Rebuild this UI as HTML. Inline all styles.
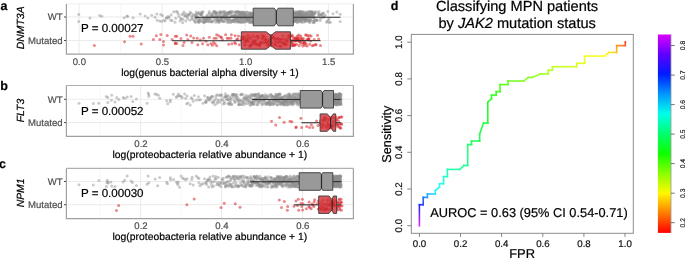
<!DOCTYPE html><html><head><meta charset="utf-8"><style>html,body{margin:0;padding:0;background:#fff;}svg{display:block;will-change:transform;}text{font-family:"Liberation Sans", sans-serif;text-rendering:geometricPrecision;stroke:currentColor;stroke-width:0.2px;}</style></head><body><svg width="685" height="258" viewBox="0 0 685 258"><rect width="685" height="258" fill="#fff"/><line x1="120.6" y1="3.9" x2="120.6" y2="54.2" stroke="#f3f3f3" stroke-width="0.7"/><line x1="203.8" y1="3.9" x2="203.8" y2="54.2" stroke="#f3f3f3" stroke-width="0.7"/><line x1="286.9" y1="3.9" x2="286.9" y2="54.2" stroke="#f3f3f3" stroke-width="0.7"/><line x1="79.1" y1="3.9" x2="79.1" y2="54.2" stroke="#ebebeb" stroke-width="1"/><line x1="162.2" y1="3.9" x2="162.2" y2="54.2" stroke="#ebebeb" stroke-width="1"/><line x1="245.3" y1="3.9" x2="245.3" y2="54.2" stroke="#ebebeb" stroke-width="1"/><line x1="328.4" y1="3.9" x2="328.4" y2="54.2" stroke="#ebebeb" stroke-width="1"/><line x1="66.4" y1="17.0" x2="353.4" y2="17.0" stroke="#ebebeb" stroke-width="1"/><line x1="66.4" y1="40.5" x2="353.4" y2="40.5" stroke="#ebebeb" stroke-width="1"/><g fill="#8f8f8f" fill-opacity="0.47"><circle cx="78.8" cy="14.4" r="1.5"/><circle cx="78.8" cy="21.5" r="1.5"/><circle cx="90.0" cy="18.1" r="1.5"/><circle cx="99.7" cy="15.4" r="1.5"/><circle cx="101.8" cy="16.2" r="1.5"/><circle cx="124.2" cy="17.8" r="1.5"/><circle cx="127.0" cy="16.0" r="1.5"/><circle cx="127.6" cy="16.4" r="1.5"/><circle cx="133.1" cy="17.8" r="1.5"/><circle cx="140.2" cy="14.0" r="1.5"/><circle cx="145.1" cy="15.9" r="1.5"/><circle cx="147.9" cy="18.1" r="1.5"/><circle cx="151.7" cy="15.2" r="1.5"/><circle cx="155.0" cy="17.2" r="1.5"/><circle cx="156.8" cy="14.0" r="1.5"/><circle cx="157.1" cy="20.3" r="1.5"/><circle cx="160.7" cy="14.4" r="1.5"/><circle cx="162.5" cy="15.4" r="1.5"/><circle cx="159.6" cy="21.0" r="1.5"/><circle cx="161.7" cy="21.4" r="1.5"/><circle cx="163.7" cy="20.3" r="1.5"/><circle cx="165.2" cy="21.0" r="1.5"/><circle cx="166.3" cy="18.3" r="1.5"/><circle cx="333.0" cy="13.7" r="1.5"/><circle cx="336.8" cy="12.1" r="1.5"/><circle cx="340.2" cy="14.3" r="1.5"/><circle cx="340.2" cy="21.4" r="1.5"/><circle cx="327.8" cy="11.5" r="1.5"/><circle cx="329.0" cy="18.8" r="1.5"/><circle cx="166.5" cy="17.7" r="1.5"/><circle cx="167.9" cy="16.6" r="1.5"/><circle cx="168.5" cy="18.0" r="1.5"/><circle cx="169.2" cy="17.1" r="1.5"/><circle cx="170.6" cy="20.3" r="1.5"/><circle cx="171.1" cy="14.8" r="1.5"/><circle cx="172.1" cy="20.5" r="1.5"/><circle cx="173.7" cy="11.8" r="1.5"/><circle cx="175.0" cy="22.3" r="1.5"/><circle cx="175.7" cy="18.3" r="1.5"/><circle cx="176.2" cy="11.5" r="1.5"/><circle cx="177.5" cy="12.0" r="1.5"/><circle cx="178.2" cy="14.1" r="1.5"/><circle cx="179.0" cy="16.6" r="1.5"/><circle cx="180.2" cy="20.9" r="1.5"/><circle cx="180.8" cy="18.6" r="1.5"/><circle cx="181.3" cy="18.9" r="1.5"/><circle cx="181.9" cy="14.5" r="1.5"/><circle cx="182.7" cy="22.7" r="1.5"/><circle cx="183.1" cy="19.4" r="1.5"/><circle cx="183.4" cy="13.9" r="1.5"/><circle cx="183.9" cy="12.1" r="1.5"/><circle cx="184.7" cy="15.9" r="1.5"/><circle cx="185.3" cy="15.7" r="1.5"/><circle cx="185.9" cy="21.0" r="1.5"/><circle cx="185.9" cy="13.7" r="1.5"/><circle cx="186.9" cy="16.7" r="1.5"/><circle cx="187.5" cy="15.8" r="1.5"/><circle cx="187.5" cy="18.5" r="1.5"/><circle cx="188.5" cy="14.4" r="1.5"/><circle cx="188.6" cy="15.1" r="1.5"/><circle cx="189.6" cy="19.9" r="1.5"/><circle cx="189.7" cy="14.1" r="1.5"/><circle cx="190.2" cy="12.0" r="1.5"/><circle cx="191.1" cy="13.3" r="1.5"/><circle cx="191.5" cy="16.4" r="1.5"/><circle cx="191.9" cy="19.6" r="1.5"/><circle cx="192.4" cy="18.6" r="1.5"/><circle cx="192.9" cy="16.1" r="1.5"/><circle cx="193.5" cy="14.4" r="1.5"/><circle cx="194.4" cy="20.5" r="1.5"/><circle cx="194.6" cy="21.4" r="1.5"/><circle cx="195.0" cy="15.8" r="1.5"/><circle cx="195.4" cy="18.6" r="1.5"/><circle cx="195.5" cy="22.6" r="1.5"/><circle cx="195.8" cy="14.2" r="1.5"/><circle cx="196.1" cy="15.1" r="1.5"/><circle cx="196.2" cy="12.1" r="1.5"/><circle cx="196.4" cy="17.9" r="1.5"/><circle cx="196.7" cy="18.2" r="1.5"/><circle cx="197.0" cy="16.5" r="1.5"/><circle cx="197.3" cy="16.8" r="1.5"/><circle cx="197.5" cy="21.2" r="1.5"/><circle cx="197.6" cy="13.1" r="1.5"/><circle cx="198.0" cy="20.6" r="1.5"/><circle cx="198.1" cy="13.5" r="1.5"/><circle cx="198.5" cy="22.0" r="1.5"/><circle cx="198.6" cy="22.1" r="1.5"/><circle cx="199.0" cy="18.2" r="1.5"/><circle cx="199.1" cy="12.5" r="1.5"/><circle cx="199.2" cy="22.3" r="1.5"/><circle cx="199.5" cy="19.3" r="1.5"/><circle cx="199.8" cy="20.7" r="1.5"/><circle cx="200.1" cy="14.6" r="1.5"/><circle cx="200.2" cy="19.5" r="1.5"/><circle cx="200.4" cy="13.9" r="1.5"/><circle cx="200.8" cy="21.0" r="1.5"/><circle cx="201.0" cy="14.5" r="1.5"/><circle cx="201.3" cy="13.6" r="1.5"/><circle cx="201.4" cy="14.4" r="1.5"/><circle cx="201.7" cy="12.0" r="1.5"/><circle cx="201.9" cy="15.5" r="1.5"/><circle cx="202.2" cy="12.8" r="1.5"/><circle cx="202.4" cy="21.5" r="1.5"/><circle cx="202.8" cy="18.8" r="1.5"/><circle cx="202.9" cy="18.0" r="1.5"/><circle cx="203.0" cy="11.7" r="1.5"/><circle cx="203.2" cy="21.7" r="1.5"/><circle cx="203.6" cy="22.3" r="1.5"/><circle cx="203.7" cy="18.6" r="1.5"/><circle cx="204.1" cy="19.6" r="1.5"/><circle cx="204.3" cy="22.7" r="1.5"/><circle cx="204.4" cy="17.5" r="1.5"/><circle cx="204.8" cy="21.6" r="1.5"/><circle cx="205.1" cy="19.3" r="1.5"/><circle cx="205.3" cy="21.7" r="1.5"/><circle cx="205.4" cy="19.1" r="1.5"/><circle cx="205.8" cy="21.2" r="1.5"/><circle cx="205.9" cy="20.3" r="1.5"/><circle cx="206.3" cy="17.8" r="1.5"/><circle cx="206.4" cy="15.7" r="1.5"/><circle cx="206.7" cy="18.2" r="1.5"/><circle cx="206.8" cy="18.6" r="1.5"/><circle cx="207.2" cy="21.3" r="1.5"/><circle cx="207.4" cy="15.7" r="1.5"/><circle cx="207.6" cy="17.9" r="1.5"/><circle cx="207.8" cy="20.9" r="1.5"/><circle cx="208.0" cy="19.9" r="1.5"/><circle cx="208.2" cy="18.2" r="1.5"/><circle cx="208.5" cy="13.9" r="1.5"/><circle cx="208.8" cy="17.0" r="1.5"/><circle cx="209.0" cy="21.8" r="1.5"/><circle cx="209.2" cy="11.4" r="1.5"/><circle cx="209.4" cy="19.0" r="1.5"/><circle cx="209.6" cy="13.2" r="1.5"/><circle cx="210.0" cy="18.8" r="1.5"/><circle cx="210.2" cy="21.5" r="1.5"/><circle cx="210.4" cy="18.9" r="1.5"/><circle cx="210.6" cy="16.2" r="1.5"/><circle cx="211.0" cy="21.7" r="1.5"/><circle cx="211.2" cy="15.7" r="1.5"/><circle cx="211.4" cy="14.9" r="1.5"/><circle cx="211.5" cy="17.0" r="1.5"/><circle cx="211.9" cy="21.0" r="1.5"/><circle cx="212.1" cy="22.1" r="1.5"/><circle cx="212.2" cy="13.2" r="1.5"/><circle cx="212.5" cy="14.4" r="1.5"/><circle cx="212.7" cy="16.0" r="1.5"/><circle cx="213.0" cy="16.9" r="1.5"/><circle cx="213.2" cy="20.9" r="1.5"/><circle cx="213.6" cy="16.5" r="1.5"/><circle cx="213.6" cy="11.7" r="1.5"/><circle cx="214.0" cy="11.8" r="1.5"/><circle cx="214.2" cy="17.8" r="1.5"/><circle cx="214.4" cy="20.3" r="1.5"/><circle cx="214.5" cy="12.8" r="1.5"/><circle cx="214.9" cy="11.6" r="1.5"/><circle cx="215.1" cy="14.0" r="1.5"/><circle cx="215.2" cy="11.8" r="1.5"/><circle cx="215.4" cy="16.4" r="1.5"/><circle cx="215.6" cy="18.8" r="1.5"/><circle cx="215.8" cy="22.2" r="1.5"/><circle cx="215.9" cy="13.6" r="1.5"/><circle cx="216.0" cy="13.3" r="1.5"/><circle cx="216.1" cy="16.7" r="1.5"/><circle cx="216.4" cy="13.3" r="1.5"/><circle cx="216.5" cy="15.2" r="1.5"/><circle cx="216.7" cy="17.2" r="1.5"/><circle cx="216.9" cy="19.9" r="1.5"/><circle cx="217.0" cy="20.3" r="1.5"/><circle cx="217.2" cy="12.3" r="1.5"/><circle cx="217.4" cy="19.5" r="1.5"/><circle cx="217.4" cy="16.5" r="1.5"/><circle cx="217.7" cy="21.7" r="1.5"/><circle cx="217.8" cy="17.8" r="1.5"/><circle cx="218.0" cy="20.4" r="1.5"/><circle cx="218.2" cy="16.6" r="1.5"/><circle cx="218.3" cy="13.6" r="1.5"/><circle cx="218.5" cy="20.6" r="1.5"/><circle cx="218.6" cy="19.5" r="1.5"/><circle cx="218.7" cy="21.6" r="1.5"/><circle cx="219.0" cy="22.4" r="1.5"/><circle cx="219.1" cy="20.3" r="1.5"/><circle cx="219.2" cy="21.7" r="1.5"/><circle cx="219.5" cy="15.3" r="1.5"/><circle cx="219.5" cy="16.3" r="1.5"/><circle cx="219.7" cy="20.1" r="1.5"/><circle cx="219.9" cy="11.6" r="1.5"/><circle cx="220.1" cy="12.0" r="1.5"/><circle cx="220.2" cy="13.3" r="1.5"/><circle cx="220.3" cy="20.3" r="1.5"/><circle cx="220.5" cy="13.0" r="1.5"/><circle cx="220.7" cy="19.5" r="1.5"/><circle cx="220.9" cy="19.2" r="1.5"/><circle cx="221.1" cy="16.9" r="1.5"/><circle cx="221.2" cy="12.3" r="1.5"/><circle cx="221.3" cy="17.3" r="1.5"/><circle cx="221.4" cy="19.6" r="1.5"/><circle cx="221.7" cy="17.3" r="1.5"/><circle cx="221.9" cy="17.7" r="1.5"/><circle cx="221.9" cy="15.6" r="1.5"/><circle cx="222.2" cy="21.6" r="1.5"/><circle cx="222.2" cy="21.0" r="1.5"/><circle cx="222.5" cy="17.3" r="1.5"/><circle cx="222.6" cy="13.6" r="1.5"/><circle cx="222.8" cy="17.0" r="1.5"/><circle cx="222.9" cy="11.6" r="1.5"/><circle cx="223.2" cy="17.2" r="1.5"/><circle cx="223.2" cy="20.4" r="1.5"/><circle cx="223.4" cy="16.9" r="1.5"/><circle cx="223.6" cy="12.1" r="1.5"/><circle cx="223.7" cy="16.0" r="1.5"/><circle cx="224.0" cy="21.8" r="1.5"/><circle cx="224.0" cy="16.7" r="1.5"/><circle cx="224.1" cy="16.2" r="1.5"/><circle cx="224.4" cy="21.6" r="1.5"/><circle cx="224.5" cy="14.9" r="1.5"/><circle cx="224.6" cy="18.3" r="1.5"/><circle cx="224.9" cy="12.8" r="1.5"/><circle cx="225.0" cy="11.6" r="1.5"/><circle cx="225.1" cy="13.9" r="1.5"/><circle cx="225.3" cy="15.0" r="1.5"/><circle cx="225.5" cy="18.4" r="1.5"/><circle cx="225.6" cy="19.6" r="1.5"/><circle cx="225.7" cy="17.1" r="1.5"/><circle cx="225.9" cy="13.6" r="1.5"/><circle cx="226.1" cy="16.3" r="1.5"/><circle cx="226.3" cy="16.0" r="1.5"/><circle cx="226.4" cy="13.1" r="1.5"/><circle cx="226.6" cy="18.5" r="1.5"/><circle cx="226.8" cy="17.3" r="1.5"/><circle cx="227.0" cy="18.3" r="1.5"/><circle cx="227.1" cy="14.0" r="1.5"/><circle cx="227.3" cy="20.5" r="1.5"/><circle cx="227.5" cy="14.9" r="1.5"/><circle cx="227.5" cy="21.8" r="1.5"/><circle cx="227.7" cy="22.7" r="1.5"/><circle cx="227.9" cy="12.8" r="1.5"/><circle cx="228.0" cy="19.6" r="1.5"/><circle cx="228.2" cy="12.4" r="1.5"/><circle cx="228.4" cy="16.1" r="1.5"/><circle cx="228.6" cy="12.7" r="1.5"/><circle cx="228.7" cy="19.1" r="1.5"/><circle cx="228.8" cy="13.6" r="1.5"/><circle cx="229.0" cy="21.7" r="1.5"/><circle cx="229.2" cy="12.6" r="1.5"/><circle cx="229.3" cy="19.9" r="1.5"/><circle cx="229.5" cy="19.1" r="1.5"/><circle cx="229.6" cy="12.1" r="1.5"/><circle cx="229.7" cy="11.7" r="1.5"/><circle cx="230.0" cy="17.2" r="1.5"/><circle cx="230.1" cy="13.0" r="1.5"/><circle cx="230.2" cy="13.6" r="1.5"/><circle cx="230.5" cy="22.6" r="1.5"/><circle cx="230.7" cy="12.4" r="1.5"/><circle cx="230.7" cy="22.1" r="1.5"/><circle cx="230.9" cy="20.0" r="1.5"/><circle cx="231.1" cy="16.6" r="1.5"/><circle cx="231.2" cy="16.2" r="1.5"/><circle cx="231.4" cy="11.5" r="1.5"/><circle cx="231.6" cy="20.9" r="1.5"/><circle cx="231.7" cy="16.5" r="1.5"/><circle cx="231.9" cy="15.9" r="1.5"/><circle cx="232.0" cy="13.2" r="1.5"/><circle cx="232.2" cy="11.5" r="1.5"/><circle cx="232.4" cy="20.4" r="1.5"/><circle cx="232.6" cy="21.1" r="1.5"/><circle cx="232.7" cy="15.9" r="1.5"/><circle cx="232.9" cy="17.0" r="1.5"/><circle cx="233.1" cy="20.5" r="1.5"/><circle cx="233.1" cy="21.7" r="1.5"/><circle cx="233.4" cy="20.2" r="1.5"/><circle cx="233.5" cy="15.9" r="1.5"/><circle cx="233.7" cy="21.3" r="1.5"/><circle cx="233.8" cy="20.0" r="1.5"/><circle cx="234.0" cy="15.9" r="1.5"/><circle cx="234.2" cy="12.1" r="1.5"/><circle cx="234.3" cy="16.6" r="1.5"/><circle cx="234.4" cy="15.4" r="1.5"/><circle cx="234.6" cy="18.4" r="1.5"/><circle cx="234.7" cy="22.1" r="1.5"/><circle cx="234.9" cy="15.2" r="1.5"/><circle cx="235.1" cy="17.8" r="1.5"/><circle cx="235.2" cy="15.7" r="1.5"/><circle cx="235.4" cy="18.6" r="1.5"/><circle cx="235.4" cy="20.0" r="1.5"/><circle cx="235.6" cy="11.6" r="1.5"/><circle cx="235.7" cy="19.7" r="1.5"/><circle cx="235.8" cy="15.9" r="1.5"/><circle cx="235.8" cy="13.5" r="1.5"/><circle cx="236.0" cy="12.4" r="1.5"/><circle cx="236.1" cy="21.6" r="1.5"/><circle cx="236.3" cy="17.1" r="1.5"/><circle cx="236.4" cy="17.8" r="1.5"/><circle cx="236.6" cy="18.6" r="1.5"/><circle cx="236.7" cy="12.2" r="1.5"/><circle cx="236.8" cy="20.0" r="1.5"/><circle cx="236.8" cy="21.9" r="1.5"/><circle cx="236.9" cy="16.7" r="1.5"/><circle cx="237.1" cy="16.9" r="1.5"/><circle cx="237.2" cy="12.0" r="1.5"/><circle cx="237.4" cy="16.1" r="1.5"/><circle cx="237.5" cy="18.1" r="1.5"/><circle cx="237.6" cy="14.6" r="1.5"/><circle cx="237.7" cy="17.7" r="1.5"/><circle cx="237.8" cy="19.5" r="1.5"/><circle cx="237.9" cy="11.5" r="1.5"/><circle cx="238.0" cy="11.8" r="1.5"/><circle cx="238.1" cy="19.9" r="1.5"/><circle cx="238.3" cy="21.5" r="1.5"/><circle cx="238.4" cy="11.9" r="1.5"/><circle cx="238.6" cy="22.1" r="1.5"/><circle cx="238.6" cy="21.6" r="1.5"/><circle cx="238.8" cy="16.7" r="1.5"/><circle cx="239.0" cy="14.1" r="1.5"/><circle cx="239.0" cy="22.0" r="1.5"/><circle cx="239.2" cy="16.6" r="1.5"/><circle cx="239.3" cy="20.6" r="1.5"/><circle cx="239.4" cy="12.6" r="1.5"/><circle cx="239.5" cy="16.5" r="1.5"/><circle cx="239.6" cy="11.9" r="1.5"/><circle cx="239.7" cy="12.7" r="1.5"/><circle cx="239.9" cy="18.9" r="1.5"/><circle cx="240.0" cy="14.3" r="1.5"/><circle cx="240.1" cy="16.1" r="1.5"/><circle cx="240.3" cy="17.4" r="1.5"/><circle cx="240.4" cy="22.2" r="1.5"/><circle cx="240.5" cy="14.0" r="1.5"/><circle cx="240.5" cy="21.5" r="1.5"/><circle cx="240.7" cy="18.4" r="1.5"/><circle cx="240.8" cy="14.4" r="1.5"/><circle cx="241.0" cy="17.7" r="1.5"/><circle cx="241.1" cy="18.5" r="1.5"/><circle cx="241.2" cy="13.5" r="1.5"/><circle cx="241.3" cy="22.5" r="1.5"/><circle cx="241.5" cy="21.3" r="1.5"/><circle cx="241.5" cy="12.0" r="1.5"/><circle cx="241.6" cy="16.1" r="1.5"/><circle cx="241.8" cy="12.5" r="1.5"/><circle cx="241.9" cy="12.1" r="1.5"/><circle cx="242.0" cy="19.0" r="1.5"/><circle cx="242.1" cy="18.5" r="1.5"/><circle cx="242.2" cy="16.8" r="1.5"/><circle cx="242.3" cy="15.2" r="1.5"/><circle cx="242.5" cy="20.9" r="1.5"/><circle cx="242.6" cy="12.7" r="1.5"/><circle cx="242.8" cy="18.4" r="1.5"/><circle cx="242.9" cy="13.7" r="1.5"/><circle cx="243.0" cy="14.2" r="1.5"/><circle cx="243.1" cy="15.5" r="1.5"/><circle cx="243.2" cy="22.6" r="1.5"/><circle cx="243.3" cy="17.6" r="1.5"/><circle cx="243.5" cy="21.8" r="1.5"/><circle cx="243.6" cy="15.5" r="1.5"/><circle cx="243.7" cy="21.3" r="1.5"/><circle cx="243.8" cy="12.2" r="1.5"/><circle cx="243.9" cy="16.8" r="1.5"/><circle cx="244.1" cy="14.7" r="1.5"/><circle cx="244.2" cy="12.2" r="1.5"/><circle cx="244.3" cy="18.8" r="1.5"/><circle cx="244.4" cy="14.8" r="1.5"/><circle cx="244.6" cy="19.2" r="1.5"/><circle cx="244.6" cy="12.9" r="1.5"/><circle cx="244.8" cy="19.6" r="1.5"/><circle cx="244.9" cy="12.6" r="1.5"/><circle cx="245.0" cy="17.8" r="1.5"/><circle cx="245.2" cy="22.0" r="1.5"/><circle cx="245.3" cy="16.3" r="1.5"/><circle cx="245.4" cy="14.8" r="1.5"/><circle cx="245.5" cy="15.9" r="1.5"/><circle cx="245.7" cy="21.5" r="1.5"/><circle cx="245.7" cy="15.4" r="1.5"/><circle cx="245.8" cy="15.4" r="1.5"/><circle cx="246.0" cy="15.7" r="1.5"/><circle cx="246.1" cy="17.7" r="1.5"/><circle cx="246.3" cy="17.5" r="1.5"/><circle cx="246.4" cy="17.7" r="1.5"/><circle cx="246.4" cy="20.0" r="1.5"/><circle cx="246.6" cy="14.5" r="1.5"/><circle cx="246.6" cy="17.2" r="1.5"/><circle cx="246.8" cy="17.8" r="1.5"/><circle cx="247.0" cy="18.7" r="1.5"/><circle cx="247.1" cy="12.0" r="1.5"/><circle cx="247.2" cy="20.3" r="1.5"/><circle cx="247.3" cy="12.2" r="1.5"/><circle cx="247.4" cy="21.5" r="1.5"/><circle cx="247.5" cy="18.5" r="1.5"/><circle cx="247.6" cy="19.8" r="1.5"/><circle cx="247.8" cy="14.1" r="1.5"/><circle cx="247.9" cy="20.0" r="1.5"/><circle cx="248.0" cy="20.0" r="1.5"/><circle cx="248.1" cy="15.2" r="1.5"/><circle cx="248.3" cy="19.0" r="1.5"/><circle cx="248.4" cy="17.4" r="1.5"/><circle cx="248.5" cy="19.4" r="1.5"/><circle cx="248.7" cy="16.0" r="1.5"/><circle cx="248.8" cy="18.9" r="1.5"/><circle cx="248.9" cy="20.5" r="1.5"/><circle cx="249.0" cy="21.4" r="1.5"/><circle cx="249.2" cy="18.6" r="1.5"/><circle cx="249.2" cy="19.4" r="1.5"/><circle cx="249.4" cy="16.1" r="1.5"/><circle cx="249.5" cy="13.0" r="1.5"/><circle cx="249.6" cy="22.6" r="1.5"/><circle cx="249.7" cy="13.2" r="1.5"/><circle cx="249.8" cy="16.1" r="1.5"/><circle cx="249.9" cy="22.4" r="1.5"/><circle cx="250.0" cy="14.8" r="1.5"/><circle cx="250.1" cy="18.7" r="1.5"/><circle cx="250.3" cy="13.3" r="1.5"/><circle cx="250.4" cy="16.5" r="1.5"/><circle cx="250.6" cy="21.7" r="1.5"/><circle cx="250.6" cy="12.5" r="1.5"/><circle cx="250.7" cy="13.8" r="1.5"/><circle cx="250.9" cy="19.5" r="1.5"/><circle cx="251.0" cy="13.9" r="1.5"/><circle cx="251.1" cy="14.5" r="1.5"/><circle cx="251.2" cy="19.9" r="1.5"/><circle cx="251.4" cy="17.5" r="1.5"/><circle cx="251.5" cy="16.8" r="1.5"/><circle cx="251.6" cy="21.4" r="1.5"/><circle cx="251.8" cy="15.2" r="1.5"/><circle cx="251.9" cy="22.2" r="1.5"/><circle cx="252.0" cy="13.8" r="1.5"/><circle cx="252.0" cy="22.1" r="1.5"/><circle cx="252.3" cy="15.7" r="1.5"/><circle cx="252.3" cy="17.2" r="1.5"/><circle cx="252.4" cy="22.6" r="1.5"/><circle cx="252.6" cy="14.0" r="1.5"/><circle cx="252.6" cy="16.7" r="1.5"/><circle cx="252.8" cy="20.4" r="1.5"/><circle cx="253.0" cy="18.2" r="1.5"/><circle cx="253.0" cy="13.1" r="1.5"/><circle cx="253.3" cy="14.3" r="1.5"/><circle cx="253.7" cy="17.2" r="1.5"/><circle cx="253.9" cy="22.6" r="1.5"/><circle cx="254.1" cy="17.4" r="1.5"/><circle cx="254.3" cy="20.1" r="1.5"/><circle cx="254.5" cy="20.7" r="1.5"/><circle cx="255.0" cy="20.7" r="1.5"/><circle cx="255.0" cy="14.4" r="1.5"/><circle cx="255.4" cy="12.4" r="1.5"/><circle cx="255.6" cy="16.6" r="1.5"/><circle cx="256.0" cy="18.0" r="1.5"/><circle cx="256.2" cy="14.8" r="1.5"/><circle cx="256.4" cy="16.1" r="1.5"/><circle cx="256.7" cy="12.3" r="1.5"/><circle cx="257.0" cy="13.7" r="1.5"/><circle cx="257.1" cy="17.3" r="1.5"/><circle cx="257.3" cy="20.8" r="1.5"/><circle cx="257.6" cy="14.8" r="1.5"/><circle cx="257.8" cy="14.8" r="1.5"/><circle cx="258.1" cy="19.5" r="1.5"/><circle cx="258.3" cy="19.1" r="1.5"/><circle cx="258.5" cy="15.8" r="1.5"/><circle cx="258.9" cy="22.3" r="1.5"/><circle cx="259.2" cy="18.8" r="1.5"/><circle cx="259.3" cy="15.6" r="1.5"/><circle cx="259.7" cy="14.0" r="1.5"/><circle cx="259.9" cy="16.5" r="1.5"/><circle cx="260.0" cy="22.6" r="1.5"/><circle cx="260.4" cy="13.7" r="1.5"/><circle cx="260.7" cy="14.6" r="1.5"/><circle cx="260.8" cy="17.5" r="1.5"/><circle cx="261.1" cy="15.1" r="1.5"/><circle cx="261.3" cy="18.9" r="1.5"/><circle cx="261.6" cy="13.6" r="1.5"/><circle cx="261.9" cy="15.1" r="1.5"/><circle cx="262.2" cy="17.7" r="1.5"/><circle cx="262.4" cy="15.1" r="1.5"/><circle cx="262.7" cy="12.4" r="1.5"/><circle cx="262.8" cy="12.4" r="1.5"/><circle cx="263.2" cy="19.4" r="1.5"/><circle cx="263.3" cy="15.9" r="1.5"/><circle cx="263.7" cy="18.1" r="1.5"/><circle cx="263.8" cy="13.9" r="1.5"/><circle cx="264.0" cy="12.7" r="1.5"/><circle cx="264.4" cy="12.1" r="1.5"/><circle cx="264.7" cy="16.2" r="1.5"/><circle cx="264.9" cy="18.7" r="1.5"/><circle cx="265.2" cy="20.7" r="1.5"/><circle cx="265.3" cy="15.1" r="1.5"/><circle cx="265.6" cy="11.5" r="1.5"/><circle cx="265.9" cy="19.3" r="1.5"/><circle cx="266.2" cy="20.3" r="1.5"/><circle cx="266.4" cy="18.2" r="1.5"/><circle cx="266.5" cy="15.1" r="1.5"/><circle cx="266.8" cy="18.7" r="1.5"/><circle cx="267.0" cy="15.6" r="1.5"/><circle cx="267.4" cy="20.3" r="1.5"/><circle cx="267.7" cy="18.3" r="1.5"/><circle cx="267.8" cy="20.0" r="1.5"/><circle cx="268.2" cy="17.6" r="1.5"/><circle cx="268.3" cy="17.0" r="1.5"/><circle cx="268.5" cy="19.4" r="1.5"/><circle cx="269.0" cy="17.2" r="1.5"/><circle cx="269.2" cy="20.8" r="1.5"/><circle cx="269.3" cy="22.1" r="1.5"/><circle cx="269.7" cy="13.6" r="1.5"/><circle cx="269.8" cy="14.1" r="1.5"/><circle cx="270.1" cy="19.2" r="1.5"/><circle cx="270.3" cy="21.9" r="1.5"/><circle cx="270.6" cy="16.6" r="1.5"/><circle cx="270.8" cy="22.4" r="1.5"/><circle cx="271.0" cy="21.6" r="1.5"/><circle cx="271.4" cy="17.7" r="1.5"/><circle cx="271.6" cy="14.3" r="1.5"/><circle cx="272.0" cy="22.6" r="1.5"/><circle cx="272.2" cy="18.2" r="1.5"/><circle cx="272.3" cy="20.7" r="1.5"/><circle cx="272.6" cy="21.5" r="1.5"/><circle cx="272.8" cy="17.8" r="1.5"/><circle cx="273.2" cy="13.4" r="1.5"/><circle cx="273.4" cy="12.2" r="1.5"/><circle cx="273.5" cy="13.4" r="1.5"/><circle cx="274.0" cy="22.0" r="1.5"/><circle cx="274.2" cy="14.8" r="1.5"/><circle cx="274.4" cy="19.7" r="1.5"/><circle cx="274.6" cy="18.0" r="1.5"/><circle cx="275.0" cy="11.5" r="1.5"/><circle cx="275.0" cy="16.6" r="1.5"/><circle cx="275.3" cy="15.7" r="1.5"/><circle cx="275.6" cy="13.3" r="1.5"/><circle cx="275.9" cy="14.3" r="1.5"/><circle cx="276.1" cy="15.1" r="1.5"/><circle cx="276.4" cy="11.7" r="1.5"/><circle cx="276.7" cy="13.0" r="1.5"/><circle cx="277.0" cy="18.1" r="1.5"/><circle cx="277.1" cy="16.0" r="1.5"/><circle cx="277.4" cy="19.2" r="1.5"/><circle cx="277.7" cy="19.9" r="1.5"/><circle cx="277.9" cy="22.6" r="1.5"/><circle cx="278.2" cy="21.0" r="1.5"/><circle cx="278.4" cy="16.2" r="1.5"/><circle cx="278.6" cy="21.6" r="1.5"/><circle cx="278.9" cy="17.3" r="1.5"/><circle cx="279.1" cy="21.6" r="1.5"/><circle cx="279.3" cy="11.9" r="1.5"/><circle cx="279.7" cy="21.6" r="1.5"/><circle cx="279.9" cy="18.1" r="1.5"/><circle cx="280.2" cy="14.8" r="1.5"/><circle cx="280.4" cy="12.1" r="1.5"/><circle cx="280.5" cy="16.4" r="1.5"/><circle cx="280.9" cy="15.8" r="1.5"/><circle cx="281.0" cy="19.2" r="1.5"/><circle cx="281.4" cy="14.0" r="1.5"/><circle cx="281.6" cy="15.8" r="1.5"/><circle cx="281.8" cy="12.1" r="1.5"/><circle cx="282.2" cy="22.3" r="1.5"/><circle cx="282.4" cy="21.2" r="1.5"/><circle cx="282.6" cy="20.5" r="1.5"/><circle cx="282.8" cy="19.8" r="1.5"/><circle cx="283.1" cy="21.6" r="1.5"/><circle cx="283.3" cy="20.3" r="1.5"/><circle cx="283.5" cy="17.4" r="1.5"/><circle cx="284.0" cy="11.3" r="1.5"/><circle cx="284.1" cy="14.7" r="1.5"/><circle cx="284.3" cy="12.0" r="1.5"/><circle cx="284.7" cy="20.6" r="1.5"/><circle cx="284.8" cy="15.4" r="1.5"/><circle cx="285.1" cy="11.8" r="1.5"/><circle cx="285.3" cy="21.5" r="1.5"/><circle cx="285.6" cy="17.0" r="1.5"/><circle cx="286.0" cy="22.4" r="1.5"/><circle cx="286.1" cy="13.7" r="1.5"/><circle cx="286.3" cy="21.8" r="1.5"/><circle cx="286.7" cy="13.5" r="1.5"/><circle cx="287.0" cy="15.3" r="1.5"/><circle cx="287.1" cy="13.3" r="1.5"/><circle cx="287.5" cy="22.6" r="1.5"/><circle cx="287.6" cy="18.5" r="1.5"/><circle cx="287.8" cy="21.3" r="1.5"/><circle cx="288.0" cy="12.5" r="1.5"/><circle cx="288.4" cy="14.9" r="1.5"/><circle cx="288.7" cy="21.2" r="1.5"/><circle cx="288.9" cy="12.8" r="1.5"/><circle cx="289.2" cy="22.0" r="1.5"/><circle cx="289.4" cy="12.2" r="1.5"/><circle cx="289.6" cy="14.8" r="1.5"/><circle cx="289.9" cy="13.5" r="1.5"/><circle cx="290.0" cy="14.0" r="1.5"/><circle cx="290.4" cy="20.3" r="1.5"/><circle cx="290.6" cy="18.8" r="1.5"/><circle cx="291.0" cy="18.0" r="1.5"/><circle cx="291.1" cy="14.7" r="1.5"/><circle cx="291.5" cy="18.9" r="1.5"/><circle cx="291.6" cy="18.6" r="1.5"/><circle cx="291.8" cy="22.5" r="1.5"/><circle cx="292.1" cy="17.3" r="1.5"/><circle cx="292.4" cy="11.8" r="1.5"/><circle cx="292.6" cy="14.5" r="1.5"/><circle cx="292.8" cy="20.5" r="1.5"/><circle cx="293.0" cy="14.6" r="1.5"/><circle cx="293.2" cy="14.1" r="1.5"/><circle cx="293.2" cy="17.5" r="1.5"/><circle cx="293.3" cy="21.5" r="1.5"/><circle cx="293.4" cy="11.7" r="1.5"/><circle cx="293.5" cy="19.9" r="1.5"/><circle cx="293.5" cy="21.9" r="1.5"/><circle cx="293.6" cy="13.4" r="1.5"/><circle cx="293.7" cy="18.7" r="1.5"/><circle cx="293.8" cy="18.8" r="1.5"/><circle cx="293.9" cy="17.2" r="1.5"/><circle cx="294.0" cy="20.9" r="1.5"/><circle cx="294.1" cy="17.2" r="1.5"/><circle cx="294.2" cy="13.3" r="1.5"/><circle cx="294.3" cy="13.2" r="1.5"/><circle cx="294.3" cy="14.0" r="1.5"/><circle cx="294.4" cy="20.1" r="1.5"/><circle cx="294.5" cy="20.3" r="1.5"/><circle cx="294.6" cy="16.9" r="1.5"/><circle cx="294.6" cy="17.9" r="1.5"/><circle cx="294.8" cy="11.7" r="1.5"/><circle cx="294.9" cy="19.4" r="1.5"/><circle cx="294.9" cy="21.3" r="1.5"/><circle cx="295.0" cy="13.0" r="1.5"/><circle cx="295.1" cy="17.0" r="1.5"/><circle cx="295.2" cy="16.3" r="1.5"/><circle cx="295.3" cy="20.4" r="1.5"/><circle cx="295.3" cy="21.6" r="1.5"/><circle cx="295.4" cy="17.5" r="1.5"/><circle cx="295.6" cy="14.0" r="1.5"/><circle cx="295.6" cy="14.8" r="1.5"/><circle cx="295.7" cy="14.9" r="1.5"/><circle cx="295.8" cy="17.3" r="1.5"/><circle cx="295.9" cy="18.0" r="1.5"/><circle cx="295.9" cy="20.7" r="1.5"/><circle cx="296.0" cy="14.2" r="1.5"/><circle cx="296.1" cy="19.2" r="1.5"/><circle cx="296.2" cy="20.3" r="1.5"/><circle cx="296.3" cy="16.0" r="1.5"/><circle cx="296.4" cy="13.8" r="1.5"/><circle cx="296.5" cy="11.8" r="1.5"/><circle cx="296.6" cy="20.0" r="1.5"/><circle cx="296.7" cy="12.9" r="1.5"/><circle cx="296.7" cy="19.8" r="1.5"/><circle cx="296.8" cy="14.0" r="1.5"/><circle cx="296.9" cy="12.9" r="1.5"/><circle cx="297.0" cy="14.7" r="1.5"/><circle cx="297.1" cy="12.2" r="1.5"/><circle cx="297.1" cy="22.7" r="1.5"/><circle cx="297.3" cy="19.7" r="1.5"/><circle cx="297.3" cy="14.2" r="1.5"/><circle cx="297.4" cy="14.1" r="1.5"/><circle cx="297.5" cy="21.9" r="1.5"/><circle cx="297.6" cy="15.1" r="1.5"/><circle cx="297.7" cy="18.3" r="1.5"/><circle cx="297.7" cy="15.9" r="1.5"/><circle cx="297.9" cy="12.0" r="1.5"/><circle cx="297.9" cy="19.2" r="1.5"/><circle cx="298.0" cy="18.0" r="1.5"/><circle cx="298.1" cy="16.6" r="1.5"/><circle cx="298.2" cy="20.9" r="1.5"/><circle cx="298.3" cy="20.2" r="1.5"/><circle cx="298.3" cy="15.3" r="1.5"/><circle cx="298.4" cy="17.6" r="1.5"/><circle cx="298.5" cy="13.6" r="1.5"/><circle cx="298.6" cy="16.6" r="1.5"/><circle cx="298.7" cy="16.4" r="1.5"/><circle cx="298.8" cy="19.0" r="1.5"/><circle cx="298.9" cy="13.6" r="1.5"/><circle cx="298.9" cy="12.1" r="1.5"/><circle cx="299.1" cy="15.4" r="1.5"/><circle cx="299.1" cy="11.5" r="1.5"/><circle cx="299.2" cy="14.3" r="1.5"/><circle cx="299.3" cy="21.8" r="1.5"/><circle cx="299.4" cy="14.4" r="1.5"/><circle cx="299.5" cy="13.1" r="1.5"/><circle cx="299.6" cy="15.4" r="1.5"/><circle cx="299.7" cy="19.5" r="1.5"/><circle cx="299.8" cy="11.5" r="1.5"/><circle cx="299.8" cy="15.7" r="1.5"/><circle cx="299.9" cy="21.4" r="1.5"/><circle cx="300.0" cy="20.1" r="1.5"/><circle cx="300.1" cy="11.9" r="1.5"/><circle cx="300.1" cy="14.0" r="1.5"/><circle cx="300.2" cy="13.0" r="1.5"/><circle cx="300.3" cy="11.7" r="1.5"/><circle cx="300.4" cy="16.1" r="1.5"/><circle cx="300.5" cy="12.9" r="1.5"/><circle cx="300.6" cy="14.3" r="1.5"/><circle cx="300.7" cy="18.9" r="1.5"/><circle cx="300.7" cy="13.6" r="1.5"/><circle cx="300.8" cy="19.4" r="1.5"/><circle cx="300.9" cy="15.7" r="1.5"/><circle cx="301.0" cy="13.9" r="1.5"/><circle cx="301.1" cy="15.2" r="1.5"/><circle cx="301.2" cy="11.8" r="1.5"/><circle cx="301.2" cy="18.5" r="1.5"/><circle cx="301.4" cy="20.5" r="1.5"/><circle cx="301.5" cy="14.7" r="1.5"/><circle cx="301.5" cy="21.8" r="1.5"/><circle cx="301.6" cy="19.2" r="1.5"/><circle cx="301.7" cy="22.2" r="1.5"/><circle cx="301.8" cy="14.0" r="1.5"/><circle cx="301.9" cy="12.3" r="1.5"/><circle cx="302.0" cy="15.8" r="1.5"/><circle cx="302.0" cy="15.7" r="1.5"/><circle cx="302.1" cy="17.0" r="1.5"/><circle cx="302.2" cy="13.1" r="1.5"/><circle cx="302.3" cy="16.7" r="1.5"/><circle cx="302.4" cy="18.9" r="1.5"/><circle cx="302.4" cy="12.4" r="1.5"/><circle cx="302.5" cy="16.1" r="1.5"/><circle cx="302.6" cy="17.9" r="1.5"/><circle cx="302.7" cy="17.6" r="1.5"/><circle cx="302.8" cy="11.6" r="1.5"/><circle cx="302.9" cy="15.5" r="1.5"/><circle cx="302.9" cy="15.9" r="1.5"/><circle cx="303.0" cy="16.9" r="1.5"/><circle cx="303.2" cy="16.6" r="1.5"/><circle cx="303.2" cy="14.2" r="1.5"/><circle cx="303.3" cy="15.3" r="1.5"/><circle cx="303.4" cy="17.7" r="1.5"/><circle cx="303.5" cy="18.9" r="1.5"/><circle cx="303.6" cy="16.6" r="1.5"/><circle cx="303.7" cy="22.2" r="1.5"/><circle cx="303.7" cy="17.9" r="1.5"/><circle cx="303.9" cy="20.1" r="1.5"/><circle cx="303.9" cy="18.4" r="1.5"/><circle cx="304.0" cy="16.0" r="1.5"/><circle cx="304.1" cy="20.8" r="1.5"/><circle cx="304.2" cy="15.7" r="1.5"/><circle cx="304.3" cy="11.7" r="1.5"/><circle cx="304.3" cy="17.1" r="1.5"/><circle cx="304.4" cy="15.4" r="1.5"/><circle cx="304.6" cy="13.0" r="1.5"/><circle cx="304.6" cy="13.9" r="1.5"/><circle cx="304.7" cy="14.0" r="1.5"/><circle cx="304.7" cy="17.5" r="1.5"/><circle cx="304.9" cy="14.0" r="1.5"/><circle cx="305.0" cy="18.7" r="1.5"/><circle cx="305.1" cy="18.4" r="1.5"/><circle cx="305.2" cy="20.8" r="1.5"/><circle cx="305.4" cy="15.1" r="1.5"/><circle cx="305.4" cy="21.4" r="1.5"/><circle cx="305.6" cy="19.5" r="1.5"/><circle cx="305.8" cy="19.1" r="1.5"/><circle cx="305.9" cy="20.7" r="1.5"/><circle cx="306.0" cy="18.4" r="1.5"/><circle cx="306.1" cy="17.7" r="1.5"/><circle cx="306.2" cy="14.6" r="1.5"/><circle cx="306.4" cy="17.4" r="1.5"/><circle cx="306.5" cy="14.1" r="1.5"/><circle cx="306.6" cy="13.3" r="1.5"/><circle cx="306.8" cy="12.7" r="1.5"/><circle cx="306.9" cy="12.1" r="1.5"/><circle cx="307.0" cy="19.3" r="1.5"/><circle cx="307.1" cy="16.4" r="1.5"/><circle cx="307.4" cy="16.8" r="1.5"/><circle cx="307.4" cy="21.2" r="1.5"/><circle cx="307.6" cy="11.9" r="1.5"/><circle cx="307.7" cy="17.1" r="1.5"/><circle cx="307.9" cy="15.8" r="1.5"/><circle cx="308.0" cy="14.2" r="1.5"/><circle cx="308.2" cy="15.0" r="1.5"/><circle cx="308.2" cy="20.0" r="1.5"/><circle cx="308.4" cy="20.7" r="1.5"/><circle cx="308.5" cy="16.1" r="1.5"/><circle cx="308.7" cy="18.4" r="1.5"/><circle cx="308.8" cy="20.4" r="1.5"/><circle cx="308.9" cy="15.6" r="1.5"/><circle cx="309.1" cy="13.9" r="1.5"/><circle cx="309.2" cy="11.5" r="1.5"/><circle cx="309.3" cy="22.0" r="1.5"/><circle cx="309.5" cy="12.8" r="1.5"/><circle cx="309.6" cy="16.1" r="1.5"/><circle cx="309.8" cy="15.8" r="1.5"/><circle cx="309.9" cy="22.6" r="1.5"/><circle cx="309.9" cy="19.4" r="1.5"/><circle cx="310.1" cy="11.8" r="1.5"/><circle cx="310.2" cy="19.6" r="1.5"/><circle cx="310.5" cy="12.7" r="1.5"/><circle cx="310.5" cy="11.6" r="1.5"/><circle cx="310.7" cy="16.8" r="1.5"/><circle cx="310.8" cy="14.8" r="1.5"/><circle cx="311.0" cy="20.9" r="1.5"/><circle cx="311.0" cy="15.8" r="1.5"/><circle cx="311.2" cy="20.0" r="1.5"/><circle cx="311.4" cy="15.7" r="1.5"/><circle cx="311.5" cy="17.5" r="1.5"/><circle cx="311.6" cy="13.0" r="1.5"/><circle cx="311.7" cy="12.5" r="1.5"/><circle cx="311.9" cy="14.2" r="1.5"/><circle cx="312.0" cy="12.7" r="1.5"/><circle cx="312.1" cy="11.5" r="1.5"/><circle cx="312.3" cy="12.9" r="1.5"/><circle cx="312.4" cy="14.4" r="1.5"/><circle cx="312.5" cy="16.8" r="1.5"/><circle cx="312.6" cy="14.3" r="1.5"/><circle cx="312.7" cy="12.0" r="1.5"/><circle cx="313.0" cy="14.8" r="1.5"/><circle cx="313.0" cy="13.4" r="1.5"/><circle cx="313.2" cy="22.7" r="1.5"/><circle cx="313.3" cy="21.2" r="1.5"/><circle cx="313.5" cy="16.0" r="1.5"/><circle cx="313.6" cy="15.8" r="1.5"/><circle cx="313.7" cy="17.6" r="1.5"/><circle cx="313.9" cy="18.4" r="1.5"/><circle cx="314.0" cy="22.0" r="1.5"/><circle cx="314.2" cy="22.6" r="1.5"/><circle cx="314.3" cy="20.8" r="1.5"/><circle cx="314.4" cy="13.3" r="1.5"/><circle cx="314.5" cy="13.2" r="1.5"/><circle cx="314.6" cy="12.2" r="1.5"/><circle cx="314.8" cy="19.9" r="1.5"/><circle cx="314.9" cy="17.2" r="1.5"/><circle cx="315.0" cy="13.7" r="1.5"/><circle cx="315.8" cy="11.4" r="1.5"/><circle cx="316.0" cy="20.5" r="1.5"/><circle cx="316.6" cy="19.7" r="1.5"/><circle cx="316.8" cy="20.5" r="1.5"/><circle cx="317.4" cy="20.1" r="1.5"/><circle cx="317.9" cy="12.4" r="1.5"/><circle cx="318.3" cy="15.9" r="1.5"/><circle cx="318.6" cy="14.2" r="1.5"/><circle cx="319.1" cy="11.6" r="1.5"/><circle cx="319.3" cy="13.9" r="1.5"/><circle cx="319.7" cy="15.5" r="1.5"/><circle cx="320.2" cy="20.5" r="1.5"/><circle cx="320.5" cy="18.6" r="1.5"/><circle cx="320.9" cy="14.5" r="1.5"/><circle cx="321.5" cy="15.0" r="1.5"/><circle cx="321.6" cy="15.1" r="1.5"/><circle cx="322.3" cy="13.7" r="1.5"/><circle cx="322.7" cy="17.5" r="1.5"/><circle cx="323.1" cy="13.3" r="1.5"/><circle cx="323.2" cy="12.9" r="1.5"/><circle cx="323.7" cy="16.2" r="1.5"/><circle cx="324.0" cy="17.0" r="1.5"/><circle cx="325.4" cy="15.0" r="1.5"/><circle cx="326.5" cy="22.2" r="1.5"/><circle cx="327.2" cy="21.3" r="1.5"/><circle cx="328.3" cy="19.9" r="1.5"/><circle cx="329.1" cy="22.6" r="1.5"/><circle cx="330.4" cy="22.3" r="1.5"/></g><line x1="194.8" y1="17.15" x2="253.2" y2="17.15" stroke="#2b2b2b" stroke-width="1.05"/><line x1="293.3" y1="17.15" x2="340.5" y2="17.15" stroke="#2b2b2b" stroke-width="1.05"/><path d="M253.2,8.2 L274.3,8.2 L276.3,11.1 L278.2,8.2 L293.3,8.2 L293.3,25.8 L278.2,25.8 L276.3,22.9 L274.3,25.8 L253.2,25.8 Z" fill="#999999" fill-opacity="1" stroke="#3a3a3a" stroke-width="0.9" stroke-linejoin="round"/><line x1="276.3" y1="11.1" x2="276.3" y2="22.9" stroke="#2a2a2a" stroke-width="1.2"/><g fill="#d8262c" fill-opacity="0.55"><circle cx="94.3" cy="45.5" r="1.5"/><circle cx="124.5" cy="41.8" r="1.5"/><circle cx="130.0" cy="36.2" r="1.5"/><circle cx="133.0" cy="36.2" r="1.5"/><circle cx="141.2" cy="44.1" r="1.5"/><circle cx="153.4" cy="39.5" r="1.5"/><circle cx="156.3" cy="35.7" r="1.5"/><circle cx="160.9" cy="34.6" r="1.5"/><circle cx="159.9" cy="39.5" r="1.5"/><circle cx="163.5" cy="41.6" r="1.5"/><circle cx="163.5" cy="45.1" r="1.5"/><circle cx="167.2" cy="35.5" r="1.5"/><circle cx="172.1" cy="39.5" r="1.5"/><circle cx="175.4" cy="36.3" r="1.5"/><circle cx="175.4" cy="43.1" r="1.5"/><circle cx="176.7" cy="36.3" r="1.5"/><circle cx="175.2" cy="43.5" r="1.5"/><circle cx="176.7" cy="43.5" r="1.5"/><circle cx="183.0" cy="45.6" r="1.5"/><circle cx="184.1" cy="42.4" r="1.5"/><circle cx="186.7" cy="35.0" r="1.5"/><circle cx="187.8" cy="39.5" r="1.5"/><circle cx="190.7" cy="36.1" r="1.5"/><circle cx="193.6" cy="37.9" r="1.5"/><circle cx="197.2" cy="38.2" r="1.5"/><circle cx="197.8" cy="44.7" r="1.5"/><circle cx="200.4" cy="40.0" r="1.5"/><circle cx="202.5" cy="43.7" r="1.5"/><circle cx="203.5" cy="38.2" r="1.5"/><circle cx="207.8" cy="44.7" r="1.5"/><circle cx="209.3" cy="37.2" r="1.5"/><circle cx="210.9" cy="43.7" r="1.5"/><circle cx="212.5" cy="45.2" r="1.5"/><circle cx="213.5" cy="42.6" r="1.5"/><circle cx="215.1" cy="43.7" r="1.5"/><circle cx="214.1" cy="38.2" r="1.5"/><circle cx="216.2" cy="38.2" r="1.5"/><circle cx="216.7" cy="34.7" r="1.5"/><circle cx="218.8" cy="35.8" r="1.5"/><circle cx="220.9" cy="37.1" r="1.5"/><circle cx="221.4" cy="37.6" r="1.5"/><circle cx="216.7" cy="45.8" r="1.5"/><circle cx="225.6" cy="34.7" r="1.5"/><circle cx="227.2" cy="38.2" r="1.5"/><circle cx="228.8" cy="38.2" r="1.5"/><circle cx="230.9" cy="38.2" r="1.5"/><circle cx="228.8" cy="44.2" r="1.5"/><circle cx="231.4" cy="34.7" r="1.5"/><circle cx="231.9" cy="43.7" r="1.5"/><circle cx="235.1" cy="35.8" r="1.5"/><circle cx="235.6" cy="43.7" r="1.5"/><circle cx="236.7" cy="39.5" r="1.5"/><circle cx="237.7" cy="38.9" r="1.5"/><circle cx="239.3" cy="44.7" r="1.5"/><circle cx="234.6" cy="42.6" r="1.5"/><circle cx="222.5" cy="39.8" r="1.5"/><circle cx="206.0" cy="41.2" r="1.5"/><circle cx="192.0" cy="42.5" r="1.5"/><circle cx="181.0" cy="38.6" r="1.5"/><circle cx="238.5" cy="36.0" r="1.5"/><circle cx="241.1" cy="39.5" r="1.5"/><circle cx="241.7" cy="36.8" r="1.5"/><circle cx="241.9" cy="42.5" r="1.5"/><circle cx="242.6" cy="38.5" r="1.5"/><circle cx="242.7" cy="38.9" r="1.5"/><circle cx="243.4" cy="36.5" r="1.5"/><circle cx="243.7" cy="39.1" r="1.5"/><circle cx="244.1" cy="37.2" r="1.5"/><circle cx="244.4" cy="44.9" r="1.5"/><circle cx="244.9" cy="42.0" r="1.5"/><circle cx="245.2" cy="41.3" r="1.5"/><circle cx="245.4" cy="44.3" r="1.5"/><circle cx="246.1" cy="40.0" r="1.5"/><circle cx="246.5" cy="39.6" r="1.5"/><circle cx="246.8" cy="37.4" r="1.5"/><circle cx="247.2" cy="41.3" r="1.5"/><circle cx="247.6" cy="35.2" r="1.5"/><circle cx="248.1" cy="39.9" r="1.5"/><circle cx="248.4" cy="41.6" r="1.5"/><circle cx="249.0" cy="36.5" r="1.5"/><circle cx="249.2" cy="46.1" r="1.5"/><circle cx="249.7" cy="38.4" r="1.5"/><circle cx="250.1" cy="46.1" r="1.5"/><circle cx="250.4" cy="44.7" r="1.5"/><circle cx="250.7" cy="46.1" r="1.5"/><circle cx="251.2" cy="37.5" r="1.5"/><circle cx="251.7" cy="42.2" r="1.5"/><circle cx="252.2" cy="44.3" r="1.5"/><circle cx="252.5" cy="40.6" r="1.5"/><circle cx="253.0" cy="35.5" r="1.5"/><circle cx="253.3" cy="42.9" r="1.5"/><circle cx="253.5" cy="44.0" r="1.5"/><circle cx="254.0" cy="40.9" r="1.5"/><circle cx="254.5" cy="37.0" r="1.5"/><circle cx="254.7" cy="42.1" r="1.5"/><circle cx="255.0" cy="41.1" r="1.5"/><circle cx="255.7" cy="40.4" r="1.5"/><circle cx="255.9" cy="43.9" r="1.5"/><circle cx="256.5" cy="43.6" r="1.5"/><circle cx="256.8" cy="45.1" r="1.5"/><circle cx="257.3" cy="36.5" r="1.5"/><circle cx="257.5" cy="35.9" r="1.5"/><circle cx="257.8" cy="38.7" r="1.5"/><circle cx="258.5" cy="44.3" r="1.5"/><circle cx="258.6" cy="36.9" r="1.5"/><circle cx="259.2" cy="44.5" r="1.5"/><circle cx="259.6" cy="45.1" r="1.5"/><circle cx="259.8" cy="46.1" r="1.5"/><circle cx="260.3" cy="42.0" r="1.5"/><circle cx="261.0" cy="43.1" r="1.5"/><circle cx="261.1" cy="42.4" r="1.5"/><circle cx="261.6" cy="35.0" r="1.5"/><circle cx="261.9" cy="38.4" r="1.5"/><circle cx="262.5" cy="38.0" r="1.5"/><circle cx="262.8" cy="42.7" r="1.5"/><circle cx="263.1" cy="36.3" r="1.5"/><circle cx="263.7" cy="40.1" r="1.5"/><circle cx="263.9" cy="36.1" r="1.5"/><circle cx="264.6" cy="41.8" r="1.5"/><circle cx="264.7" cy="37.0" r="1.5"/><circle cx="265.4" cy="42.7" r="1.5"/><circle cx="265.7" cy="38.9" r="1.5"/><circle cx="266.0" cy="39.5" r="1.5"/><circle cx="266.3" cy="42.0" r="1.5"/><circle cx="266.8" cy="44.1" r="1.5"/><circle cx="267.3" cy="40.0" r="1.5"/><circle cx="267.7" cy="45.5" r="1.5"/><circle cx="268.1" cy="42.8" r="1.5"/><circle cx="268.4" cy="41.4" r="1.5"/><circle cx="268.9" cy="44.7" r="1.5"/><circle cx="269.3" cy="44.5" r="1.5"/><circle cx="269.9" cy="40.0" r="1.5"/><circle cx="270.4" cy="39.2" r="1.5"/><circle cx="270.7" cy="41.7" r="1.5"/><circle cx="271.0" cy="35.5" r="1.5"/><circle cx="271.4" cy="38.0" r="1.5"/><circle cx="271.9" cy="45.7" r="1.5"/><circle cx="272.2" cy="42.7" r="1.5"/><circle cx="272.8" cy="37.6" r="1.5"/><circle cx="273.1" cy="36.3" r="1.5"/><circle cx="273.7" cy="37.7" r="1.5"/><circle cx="273.9" cy="38.7" r="1.5"/><circle cx="274.5" cy="44.5" r="1.5"/><circle cx="274.8" cy="41.0" r="1.5"/><circle cx="275.0" cy="45.0" r="1.5"/><circle cx="275.5" cy="38.9" r="1.5"/><circle cx="276.0" cy="43.0" r="1.5"/><circle cx="276.5" cy="38.7" r="1.5"/><circle cx="277.0" cy="45.6" r="1.5"/><circle cx="277.1" cy="42.0" r="1.5"/><circle cx="277.7" cy="38.9" r="1.5"/><circle cx="278.1" cy="38.4" r="1.5"/><circle cx="278.6" cy="41.7" r="1.5"/><circle cx="279.2" cy="45.9" r="1.5"/><circle cx="279.6" cy="39.3" r="1.5"/><circle cx="279.9" cy="42.2" r="1.5"/><circle cx="280.3" cy="46.2" r="1.5"/><circle cx="280.4" cy="40.1" r="1.5"/><circle cx="281.0" cy="42.3" r="1.5"/><circle cx="281.3" cy="46.1" r="1.5"/><circle cx="281.8" cy="39.0" r="1.5"/><circle cx="282.1" cy="39.3" r="1.5"/><circle cx="282.8" cy="35.8" r="1.5"/><circle cx="283.0" cy="42.2" r="1.5"/><circle cx="283.6" cy="43.3" r="1.5"/><circle cx="283.9" cy="44.0" r="1.5"/><circle cx="284.5" cy="43.6" r="1.5"/><circle cx="284.6" cy="40.1" r="1.5"/><circle cx="285.0" cy="44.6" r="1.5"/><circle cx="285.8" cy="45.0" r="1.5"/><circle cx="285.8" cy="38.8" r="1.5"/><circle cx="286.5" cy="40.9" r="1.5"/><circle cx="286.7" cy="43.8" r="1.5"/><circle cx="287.2" cy="40.6" r="1.5"/><circle cx="287.6" cy="41.3" r="1.5"/><circle cx="288.0" cy="35.8" r="1.5"/><circle cx="288.5" cy="38.2" r="1.5"/><circle cx="289.1" cy="37.6" r="1.5"/><circle cx="289.3" cy="35.4" r="1.5"/><circle cx="289.7" cy="39.9" r="1.5"/><circle cx="290.1" cy="40.0" r="1.5"/><circle cx="290.5" cy="36.0" r="1.5"/><circle cx="290.8" cy="36.6" r="1.5"/><circle cx="291.0" cy="40.8" r="1.5"/><circle cx="291.2" cy="41.8" r="1.5"/><circle cx="291.5" cy="45.8" r="1.5"/><circle cx="291.7" cy="34.9" r="1.5"/><circle cx="291.9" cy="44.1" r="1.5"/><circle cx="292.3" cy="42.9" r="1.5"/><circle cx="292.4" cy="40.9" r="1.5"/><circle cx="292.6" cy="36.1" r="1.5"/><circle cx="293.0" cy="45.8" r="1.5"/><circle cx="293.3" cy="44.5" r="1.5"/><circle cx="293.4" cy="39.5" r="1.5"/><circle cx="293.7" cy="37.8" r="1.5"/><circle cx="294.0" cy="45.3" r="1.5"/><circle cx="294.3" cy="40.4" r="1.5"/><circle cx="294.6" cy="44.9" r="1.5"/><circle cx="295.0" cy="41.3" r="1.5"/><circle cx="295.1" cy="45.1" r="1.5"/><circle cx="295.4" cy="38.2" r="1.5"/><circle cx="295.7" cy="37.7" r="1.5"/><circle cx="295.9" cy="39.7" r="1.5"/><circle cx="296.2" cy="38.9" r="1.5"/><circle cx="296.4" cy="39.9" r="1.5"/><circle cx="296.6" cy="44.3" r="1.5"/><circle cx="296.9" cy="40.8" r="1.5"/><circle cx="297.2" cy="39.4" r="1.5"/><circle cx="297.4" cy="35.9" r="1.5"/><circle cx="297.7" cy="38.4" r="1.5"/><circle cx="298.0" cy="37.4" r="1.5"/><circle cx="298.4" cy="40.4" r="1.5"/><circle cx="298.4" cy="39.4" r="1.5"/><circle cx="298.9" cy="34.9" r="1.5"/><circle cx="299.1" cy="45.8" r="1.5"/><circle cx="299.3" cy="41.6" r="1.5"/><circle cx="299.6" cy="38.2" r="1.5"/><circle cx="299.9" cy="41.5" r="1.5"/><circle cx="300.1" cy="40.5" r="1.5"/><circle cx="300.6" cy="43.4" r="1.5"/><circle cx="300.8" cy="35.9" r="1.5"/><circle cx="301.3" cy="37.9" r="1.5"/><circle cx="301.8" cy="39.7" r="1.5"/><circle cx="302.3" cy="39.4" r="1.5"/><circle cx="302.4" cy="42.6" r="1.5"/><circle cx="302.7" cy="46.0" r="1.5"/><circle cx="303.4" cy="38.5" r="1.5"/><circle cx="303.6" cy="44.1" r="1.5"/><circle cx="304.1" cy="42.1" r="1.5"/><circle cx="304.3" cy="43.5" r="1.5"/><circle cx="304.6" cy="41.9" r="1.5"/><circle cx="305.2" cy="45.4" r="1.5"/><circle cx="305.6" cy="35.1" r="1.5"/><circle cx="306.1" cy="43.4" r="1.5"/><circle cx="306.4" cy="34.9" r="1.5"/><circle cx="306.8" cy="39.6" r="1.5"/><circle cx="307.2" cy="46.0" r="1.5"/><circle cx="307.7" cy="35.7" r="1.5"/><circle cx="308.0" cy="39.8" r="1.5"/><circle cx="308.4" cy="39.1" r="1.5"/><circle cx="308.6" cy="39.8" r="1.5"/><circle cx="308.9" cy="38.4" r="1.5"/><circle cx="309.5" cy="35.6" r="1.5"/><circle cx="309.7" cy="44.3" r="1.5"/><circle cx="310.7" cy="41.0" r="1.5"/><circle cx="311.1" cy="36.1" r="1.5"/><circle cx="312.3" cy="45.7" r="1.5"/><circle cx="313.6" cy="45.3" r="1.5"/><circle cx="314.2" cy="39.5" r="1.5"/><circle cx="315.5" cy="44.4" r="1.5"/><circle cx="316.1" cy="44.8" r="1.5"/><circle cx="317.5" cy="35.2" r="1.5"/><circle cx="318.6" cy="39.1" r="1.5"/><circle cx="320.5" cy="45.4" r="1.5"/></g><line x1="172.2" y1="40.65" x2="241.3" y2="40.65" stroke="#2b2b2b" stroke-width="1.05"/><line x1="290.4" y1="40.65" x2="320.5" y2="40.65" stroke="#2b2b2b" stroke-width="1.05"/><path d="M241.3,31.8 L266.2,31.8 L270.9,35.5 L275.5,31.8 L290.4,31.8 L290.4,49.2 L275.5,49.2 L270.9,45.5 L266.2,49.2 L241.3,49.2 Z" fill="#dc585e" fill-opacity="1" stroke="#3a3a3a" stroke-width="0.9" stroke-linejoin="round"/><g fill="#c8161c" fill-opacity="0.3"><circle cx="242.6" cy="38.5" r="1.5"/><circle cx="242.7" cy="38.9" r="1.5"/><circle cx="243.4" cy="36.5" r="1.5"/><circle cx="243.7" cy="39.1" r="1.5"/><circle cx="244.1" cy="37.2" r="1.5"/><circle cx="244.4" cy="44.9" r="1.5"/><circle cx="244.9" cy="42.0" r="1.5"/><circle cx="245.2" cy="41.3" r="1.5"/><circle cx="245.4" cy="44.3" r="1.5"/><circle cx="246.1" cy="40.0" r="1.5"/><circle cx="246.5" cy="39.6" r="1.5"/><circle cx="246.8" cy="37.4" r="1.5"/><circle cx="247.2" cy="41.3" r="1.5"/><circle cx="247.6" cy="35.2" r="1.5"/><circle cx="248.1" cy="39.9" r="1.5"/><circle cx="248.4" cy="41.6" r="1.5"/><circle cx="249.0" cy="36.5" r="1.5"/><circle cx="249.2" cy="46.1" r="1.5"/><circle cx="249.7" cy="38.4" r="1.5"/><circle cx="250.1" cy="46.1" r="1.5"/><circle cx="250.4" cy="44.7" r="1.5"/><circle cx="250.7" cy="46.1" r="1.5"/><circle cx="251.2" cy="37.5" r="1.5"/><circle cx="251.7" cy="42.2" r="1.5"/><circle cx="252.2" cy="44.3" r="1.5"/><circle cx="252.5" cy="40.6" r="1.5"/><circle cx="253.0" cy="35.5" r="1.5"/><circle cx="253.3" cy="42.9" r="1.5"/><circle cx="253.5" cy="44.0" r="1.5"/><circle cx="254.0" cy="40.9" r="1.5"/><circle cx="254.5" cy="37.0" r="1.5"/><circle cx="254.7" cy="42.1" r="1.5"/><circle cx="255.0" cy="41.1" r="1.5"/><circle cx="255.7" cy="40.4" r="1.5"/><circle cx="255.9" cy="43.9" r="1.5"/><circle cx="256.5" cy="43.6" r="1.5"/><circle cx="256.8" cy="45.1" r="1.5"/><circle cx="257.3" cy="36.5" r="1.5"/><circle cx="257.5" cy="35.9" r="1.5"/><circle cx="257.8" cy="38.7" r="1.5"/><circle cx="258.5" cy="44.3" r="1.5"/><circle cx="258.6" cy="36.9" r="1.5"/><circle cx="259.2" cy="44.5" r="1.5"/><circle cx="259.6" cy="45.1" r="1.5"/><circle cx="259.8" cy="46.1" r="1.5"/><circle cx="260.3" cy="42.0" r="1.5"/><circle cx="261.0" cy="43.1" r="1.5"/><circle cx="261.1" cy="42.4" r="1.5"/><circle cx="261.6" cy="35.0" r="1.5"/><circle cx="261.9" cy="38.4" r="1.5"/><circle cx="262.5" cy="38.0" r="1.5"/><circle cx="262.8" cy="42.7" r="1.5"/><circle cx="263.1" cy="36.3" r="1.5"/><circle cx="263.7" cy="40.1" r="1.5"/><circle cx="263.9" cy="36.1" r="1.5"/><circle cx="264.6" cy="41.8" r="1.5"/><circle cx="264.7" cy="37.0" r="1.5"/><circle cx="265.4" cy="42.7" r="1.5"/><circle cx="265.7" cy="38.9" r="1.5"/><circle cx="266.0" cy="39.5" r="1.5"/><circle cx="266.3" cy="42.0" r="1.5"/><circle cx="266.8" cy="44.1" r="1.5"/><circle cx="267.3" cy="40.0" r="1.5"/><circle cx="267.7" cy="45.5" r="1.5"/><circle cx="268.1" cy="42.8" r="1.5"/><circle cx="268.4" cy="41.4" r="1.5"/><circle cx="268.9" cy="44.7" r="1.5"/><circle cx="269.3" cy="44.5" r="1.5"/><circle cx="269.9" cy="40.0" r="1.5"/><circle cx="270.4" cy="39.2" r="1.5"/><circle cx="270.7" cy="41.7" r="1.5"/><circle cx="271.0" cy="35.5" r="1.5"/><circle cx="271.4" cy="38.0" r="1.5"/><circle cx="271.9" cy="45.7" r="1.5"/><circle cx="272.2" cy="42.7" r="1.5"/><circle cx="272.8" cy="37.6" r="1.5"/><circle cx="273.1" cy="36.3" r="1.5"/><circle cx="273.7" cy="37.7" r="1.5"/><circle cx="273.9" cy="38.7" r="1.5"/><circle cx="274.5" cy="44.5" r="1.5"/><circle cx="274.8" cy="41.0" r="1.5"/><circle cx="275.0" cy="45.0" r="1.5"/><circle cx="275.5" cy="38.9" r="1.5"/><circle cx="276.0" cy="43.0" r="1.5"/><circle cx="276.5" cy="38.7" r="1.5"/><circle cx="277.0" cy="45.6" r="1.5"/><circle cx="277.1" cy="42.0" r="1.5"/><circle cx="277.7" cy="38.9" r="1.5"/><circle cx="278.1" cy="38.4" r="1.5"/><circle cx="278.6" cy="41.7" r="1.5"/><circle cx="279.2" cy="45.9" r="1.5"/><circle cx="279.6" cy="39.3" r="1.5"/><circle cx="279.9" cy="42.2" r="1.5"/><circle cx="280.3" cy="46.2" r="1.5"/><circle cx="280.4" cy="40.1" r="1.5"/><circle cx="281.0" cy="42.3" r="1.5"/><circle cx="281.3" cy="46.1" r="1.5"/><circle cx="281.8" cy="39.0" r="1.5"/><circle cx="282.1" cy="39.3" r="1.5"/><circle cx="282.8" cy="35.8" r="1.5"/><circle cx="283.0" cy="42.2" r="1.5"/><circle cx="283.6" cy="43.3" r="1.5"/><circle cx="283.9" cy="44.0" r="1.5"/><circle cx="284.5" cy="43.6" r="1.5"/><circle cx="284.6" cy="40.1" r="1.5"/><circle cx="285.0" cy="44.6" r="1.5"/><circle cx="285.8" cy="45.0" r="1.5"/><circle cx="285.8" cy="38.8" r="1.5"/><circle cx="286.5" cy="40.9" r="1.5"/><circle cx="286.7" cy="43.8" r="1.5"/><circle cx="287.2" cy="40.6" r="1.5"/><circle cx="287.6" cy="41.3" r="1.5"/><circle cx="288.0" cy="35.8" r="1.5"/><circle cx="288.5" cy="38.2" r="1.5"/><circle cx="289.1" cy="37.6" r="1.5"/><circle cx="289.3" cy="35.4" r="1.5"/></g><line x1="270.9" y1="35.5" x2="270.9" y2="45.5" stroke="#2a2a2a" stroke-width="1.2"/><line x1="66.4" y1="3.9" x2="353.4" y2="3.9" stroke="#ececec" stroke-width="1"/><path d="M66.4,3.9 V54.2 H353.4 V3.9" fill="none" stroke="#a0a0a0" stroke-width="1.2"/><line x1="64.0" y1="17.0" x2="66.0" y2="17.0" stroke="#333" stroke-width="0.9"/><line x1="64.0" y1="40.5" x2="66.0" y2="40.5" stroke="#333" stroke-width="0.9"/><text x="62.6" y="20.4" font-size="9.55" text-anchor="end" fill="#4d4d4d" color="#4d4d4d" >WT</text><text x="62.6" y="44.0" font-size="9.55" text-anchor="end" fill="#4d4d4d" color="#4d4d4d" >Mutated</text><text x="79.4" y="64.5" font-size="9.55" text-anchor="middle" fill="#4d4d4d" color="#4d4d4d" >0.0</text><text x="162.5" y="64.5" font-size="9.55" text-anchor="middle" fill="#4d4d4d" color="#4d4d4d" >0.5</text><text x="245.6" y="64.5" font-size="9.55" text-anchor="middle" fill="#4d4d4d" color="#4d4d4d" >1.0</text><text x="328.7" y="64.5" font-size="9.55" text-anchor="middle" fill="#4d4d4d" color="#4d4d4d" >1.5</text><text x="209.9" y="75.7" font-size="10.35" text-anchor="middle" fill="#000" color="#000" >log(genus bacterial alpha diversity + 1)</text><text transform="translate(24.3,27.8) rotate(-90)" font-size="10.4" text-anchor="middle" font-style="italic" fill="#000">DNMT3A</text><text x="0.6" y="9.6" font-size="12.50" text-anchor="start" fill="#000" color="#000" font-weight="bold">a</text><text x="80.9" y="32.4" font-size="11.60" text-anchor="start" fill="#000" color="#000" >P = 0.00027</text><line x1="100.3" y1="85.5" x2="100.3" y2="136.3" stroke="#f3f3f3" stroke-width="0.7"/><line x1="181.2" y1="85.5" x2="181.2" y2="136.3" stroke="#f3f3f3" stroke-width="0.7"/><line x1="262.0" y1="85.5" x2="262.0" y2="136.3" stroke="#f3f3f3" stroke-width="0.7"/><line x1="342.9" y1="85.5" x2="342.9" y2="136.3" stroke="#f3f3f3" stroke-width="0.7"/><line x1="140.7" y1="85.5" x2="140.7" y2="136.3" stroke="#ebebeb" stroke-width="1"/><line x1="221.6" y1="85.5" x2="221.6" y2="136.3" stroke="#ebebeb" stroke-width="1"/><line x1="302.5" y1="85.5" x2="302.5" y2="136.3" stroke="#ebebeb" stroke-width="1"/><line x1="66.4" y1="99.3" x2="353.4" y2="99.3" stroke="#ebebeb" stroke-width="1"/><line x1="66.4" y1="122.6" x2="353.4" y2="122.6" stroke="#ebebeb" stroke-width="1"/><g fill="#8f8f8f" fill-opacity="0.47"><circle cx="79.0" cy="103.3" r="1.5"/><circle cx="93.3" cy="103.5" r="1.5"/><circle cx="98.8" cy="103.3" r="1.5"/><circle cx="106.3" cy="96.4" r="1.5"/><circle cx="107.8" cy="97.4" r="1.5"/><circle cx="111.7" cy="95.2" r="1.5"/><circle cx="107.8" cy="102.5" r="1.5"/><circle cx="111.4" cy="100.3" r="1.5"/><circle cx="115.0" cy="102.1" r="1.5"/><circle cx="116.8" cy="97.4" r="1.5"/><circle cx="118.8" cy="99.4" r="1.5"/><circle cx="123.1" cy="97.4" r="1.5"/><circle cx="124.7" cy="98.2" r="1.5"/><circle cx="127.2" cy="97.0" r="1.5"/><circle cx="131.1" cy="96.4" r="1.5"/><circle cx="132.8" cy="101.5" r="1.5"/><circle cx="136.4" cy="99.0" r="1.5"/><circle cx="148.1" cy="93.1" r="1.5"/><circle cx="148.8" cy="94.6" r="1.5"/><circle cx="148.8" cy="96.2" r="1.5"/><circle cx="147.1" cy="103.3" r="1.5"/><circle cx="154.9" cy="93.9" r="1.5"/><circle cx="156.5" cy="94.3" r="1.5"/><circle cx="158.3" cy="95.2" r="1.5"/><circle cx="159.7" cy="98.2" r="1.5"/><circle cx="166.7" cy="100.8" r="1.5"/><circle cx="167.7" cy="103.8" r="1.5"/><circle cx="170.3" cy="100.1" r="1.5"/><circle cx="170.3" cy="101.8" r="1.5"/><circle cx="173.3" cy="94.3" r="1.5"/><circle cx="176.9" cy="96.2" r="1.5"/><circle cx="178.4" cy="94.1" r="1.5"/><circle cx="178.9" cy="95.7" r="1.5"/><circle cx="180.0" cy="96.0" r="1.5"/><circle cx="181.5" cy="96.4" r="1.5"/><circle cx="176.4" cy="97.2" r="1.5"/><circle cx="182.2" cy="97.7" r="1.5"/><circle cx="184.6" cy="93.9" r="1.5"/><circle cx="185.6" cy="98.2" r="1.5"/><circle cx="187.1" cy="96.0" r="1.5"/><circle cx="186.6" cy="103.8" r="1.5"/><circle cx="188.1" cy="103.1" r="1.5"/><circle cx="190.2" cy="104.9" r="1.5"/><circle cx="191.2" cy="97.7" r="1.5"/><circle cx="192.2" cy="98.7" r="1.5"/><circle cx="193.2" cy="101.3" r="1.5"/><circle cx="194.3" cy="95.4" r="1.5"/><circle cx="198.4" cy="96.7" r="1.5"/><circle cx="196.3" cy="100.1" r="1.5"/><circle cx="198.9" cy="100.1" r="1.5"/><circle cx="200.4" cy="99.8" r="1.5"/><circle cx="203.0" cy="103.3" r="1.5"/><circle cx="204.5" cy="95.7" r="1.5"/><circle cx="205.3" cy="101.5" r="1.5"/><circle cx="205.8" cy="102.5" r="1.5"/><circle cx="206.2" cy="102.1" r="1.5"/><circle cx="206.8" cy="100.3" r="1.5"/><circle cx="207.4" cy="97.5" r="1.5"/><circle cx="208.0" cy="97.6" r="1.5"/><circle cx="208.8" cy="99.5" r="1.5"/><circle cx="209.2" cy="100.1" r="1.5"/><circle cx="210.1" cy="97.7" r="1.5"/><circle cx="210.5" cy="99.1" r="1.5"/><circle cx="211.3" cy="97.3" r="1.5"/><circle cx="211.7" cy="96.3" r="1.5"/><circle cx="212.0" cy="101.9" r="1.5"/><circle cx="212.8" cy="96.5" r="1.5"/><circle cx="213.0" cy="103.0" r="1.5"/><circle cx="213.8" cy="101.8" r="1.5"/><circle cx="214.4" cy="100.6" r="1.5"/><circle cx="215.0" cy="104.7" r="1.5"/><circle cx="215.8" cy="98.8" r="1.5"/><circle cx="216.1" cy="96.2" r="1.5"/><circle cx="216.9" cy="94.8" r="1.5"/><circle cx="217.2" cy="103.3" r="1.5"/><circle cx="217.6" cy="101.6" r="1.5"/><circle cx="218.5" cy="99.9" r="1.5"/><circle cx="218.9" cy="95.3" r="1.5"/><circle cx="219.8" cy="102.3" r="1.5"/><circle cx="220.3" cy="94.7" r="1.5"/><circle cx="220.9" cy="96.1" r="1.5"/><circle cx="221.1" cy="99.7" r="1.5"/><circle cx="221.9" cy="95.0" r="1.5"/><circle cx="222.6" cy="100.2" r="1.5"/><circle cx="223.2" cy="104.1" r="1.5"/><circle cx="223.7" cy="97.7" r="1.5"/><circle cx="224.4" cy="101.8" r="1.5"/><circle cx="224.6" cy="103.4" r="1.5"/><circle cx="225.2" cy="96.6" r="1.5"/><circle cx="225.4" cy="93.8" r="1.5"/><circle cx="225.8" cy="96.5" r="1.5"/><circle cx="226.1" cy="96.5" r="1.5"/><circle cx="226.4" cy="99.1" r="1.5"/><circle cx="226.8" cy="96.8" r="1.5"/><circle cx="227.1" cy="99.4" r="1.5"/><circle cx="227.6" cy="95.4" r="1.5"/><circle cx="228.0" cy="103.3" r="1.5"/><circle cx="228.2" cy="99.8" r="1.5"/><circle cx="228.6" cy="99.7" r="1.5"/><circle cx="228.9" cy="104.1" r="1.5"/><circle cx="229.3" cy="96.6" r="1.5"/><circle cx="229.4" cy="104.3" r="1.5"/><circle cx="229.8" cy="102.6" r="1.5"/><circle cx="230.1" cy="98.8" r="1.5"/><circle cx="230.5" cy="101.9" r="1.5"/><circle cx="231.0" cy="99.4" r="1.5"/><circle cx="231.2" cy="97.6" r="1.5"/><circle cx="231.4" cy="104.4" r="1.5"/><circle cx="231.7" cy="104.3" r="1.5"/><circle cx="232.2" cy="94.4" r="1.5"/><circle cx="232.6" cy="94.8" r="1.5"/><circle cx="232.9" cy="95.0" r="1.5"/><circle cx="233.3" cy="97.1" r="1.5"/><circle cx="233.6" cy="94.3" r="1.5"/><circle cx="233.9" cy="94.4" r="1.5"/><circle cx="234.0" cy="100.1" r="1.5"/><circle cx="234.7" cy="101.4" r="1.5"/><circle cx="235.0" cy="102.5" r="1.5"/><circle cx="235.2" cy="94.5" r="1.5"/><circle cx="235.5" cy="95.7" r="1.5"/><circle cx="235.8" cy="97.6" r="1.5"/><circle cx="236.2" cy="95.9" r="1.5"/><circle cx="236.6" cy="98.4" r="1.5"/><circle cx="236.8" cy="94.5" r="1.5"/><circle cx="237.2" cy="100.0" r="1.5"/><circle cx="237.7" cy="100.0" r="1.5"/><circle cx="237.7" cy="97.0" r="1.5"/><circle cx="238.1" cy="101.6" r="1.5"/><circle cx="238.6" cy="104.7" r="1.5"/><circle cx="239.0" cy="104.1" r="1.5"/><circle cx="239.3" cy="104.3" r="1.5"/><circle cx="239.3" cy="99.2" r="1.5"/><circle cx="239.9" cy="101.4" r="1.5"/><circle cx="240.2" cy="100.6" r="1.5"/><circle cx="240.6" cy="94.6" r="1.5"/><circle cx="240.8" cy="104.5" r="1.5"/><circle cx="241.0" cy="94.9" r="1.5"/><circle cx="241.6" cy="104.5" r="1.5"/><circle cx="241.7" cy="94.0" r="1.5"/><circle cx="242.3" cy="101.4" r="1.5"/><circle cx="242.5" cy="100.2" r="1.5"/><circle cx="242.9" cy="102.8" r="1.5"/><circle cx="243.0" cy="94.4" r="1.5"/><circle cx="243.6" cy="104.7" r="1.5"/><circle cx="243.9" cy="98.2" r="1.5"/><circle cx="244.1" cy="97.6" r="1.5"/><circle cx="244.3" cy="102.4" r="1.5"/><circle cx="244.8" cy="100.3" r="1.5"/><circle cx="245.2" cy="97.4" r="1.5"/><circle cx="245.6" cy="98.8" r="1.5"/><circle cx="245.7" cy="103.7" r="1.5"/><circle cx="246.1" cy="95.3" r="1.5"/><circle cx="246.4" cy="99.1" r="1.5"/><circle cx="246.9" cy="97.4" r="1.5"/><circle cx="247.1" cy="101.1" r="1.5"/><circle cx="247.4" cy="99.6" r="1.5"/><circle cx="247.8" cy="103.6" r="1.5"/><circle cx="248.1" cy="96.2" r="1.5"/><circle cx="248.4" cy="97.4" r="1.5"/><circle cx="248.9" cy="101.3" r="1.5"/><circle cx="249.3" cy="99.8" r="1.5"/><circle cx="249.4" cy="102.3" r="1.5"/><circle cx="249.7" cy="96.1" r="1.5"/><circle cx="250.1" cy="104.9" r="1.5"/><circle cx="250.3" cy="97.7" r="1.5"/><circle cx="250.6" cy="104.9" r="1.5"/><circle cx="250.7" cy="95.1" r="1.5"/><circle cx="251.0" cy="102.5" r="1.5"/><circle cx="251.1" cy="102.6" r="1.5"/><circle cx="251.3" cy="96.9" r="1.5"/><circle cx="251.6" cy="102.1" r="1.5"/><circle cx="251.8" cy="102.9" r="1.5"/><circle cx="251.9" cy="99.3" r="1.5"/><circle cx="252.2" cy="94.3" r="1.5"/><circle cx="252.5" cy="95.2" r="1.5"/><circle cx="252.5" cy="103.6" r="1.5"/><circle cx="252.9" cy="104.2" r="1.5"/><circle cx="253.0" cy="104.2" r="1.5"/><circle cx="253.2" cy="101.7" r="1.5"/><circle cx="253.5" cy="95.8" r="1.5"/><circle cx="253.6" cy="101.3" r="1.5"/><circle cx="253.9" cy="101.9" r="1.5"/><circle cx="254.2" cy="98.8" r="1.5"/><circle cx="254.2" cy="95.0" r="1.5"/><circle cx="254.4" cy="104.3" r="1.5"/><circle cx="254.6" cy="95.7" r="1.5"/><circle cx="254.9" cy="94.2" r="1.5"/><circle cx="255.1" cy="95.7" r="1.5"/><circle cx="255.2" cy="99.6" r="1.5"/><circle cx="255.5" cy="100.1" r="1.5"/><circle cx="255.8" cy="99.6" r="1.5"/><circle cx="256.0" cy="94.5" r="1.5"/><circle cx="256.1" cy="94.5" r="1.5"/><circle cx="256.3" cy="102.3" r="1.5"/><circle cx="256.7" cy="99.3" r="1.5"/><circle cx="256.7" cy="97.4" r="1.5"/><circle cx="257.0" cy="97.0" r="1.5"/><circle cx="257.2" cy="104.7" r="1.5"/><circle cx="257.4" cy="100.5" r="1.5"/><circle cx="257.7" cy="98.9" r="1.5"/><circle cx="257.7" cy="104.4" r="1.5"/><circle cx="258.1" cy="93.9" r="1.5"/><circle cx="258.3" cy="98.2" r="1.5"/><circle cx="258.3" cy="95.5" r="1.5"/><circle cx="258.6" cy="102.0" r="1.5"/><circle cx="258.8" cy="93.8" r="1.5"/><circle cx="259.0" cy="102.7" r="1.5"/><circle cx="259.3" cy="101.0" r="1.5"/><circle cx="259.5" cy="95.7" r="1.5"/><circle cx="259.6" cy="97.1" r="1.5"/><circle cx="259.8" cy="96.6" r="1.5"/><circle cx="260.1" cy="97.8" r="1.5"/><circle cx="260.3" cy="100.7" r="1.5"/><circle cx="260.5" cy="97.7" r="1.5"/><circle cx="260.8" cy="100.2" r="1.5"/><circle cx="260.9" cy="99.8" r="1.5"/><circle cx="261.1" cy="97.4" r="1.5"/><circle cx="261.4" cy="96.3" r="1.5"/><circle cx="261.7" cy="103.3" r="1.5"/><circle cx="261.9" cy="95.5" r="1.5"/><circle cx="262.0" cy="104.8" r="1.5"/><circle cx="262.1" cy="95.5" r="1.5"/><circle cx="262.4" cy="96.3" r="1.5"/><circle cx="262.6" cy="95.4" r="1.5"/><circle cx="262.9" cy="96.8" r="1.5"/><circle cx="262.9" cy="101.4" r="1.5"/><circle cx="263.2" cy="100.0" r="1.5"/><circle cx="263.4" cy="104.1" r="1.5"/><circle cx="263.6" cy="97.9" r="1.5"/><circle cx="263.8" cy="99.3" r="1.5"/><circle cx="264.0" cy="100.1" r="1.5"/><circle cx="264.3" cy="98.9" r="1.5"/><circle cx="264.4" cy="99.3" r="1.5"/><circle cx="264.7" cy="100.9" r="1.5"/><circle cx="265.0" cy="96.8" r="1.5"/><circle cx="265.1" cy="94.6" r="1.5"/><circle cx="265.4" cy="96.3" r="1.5"/><circle cx="265.6" cy="102.7" r="1.5"/><circle cx="265.7" cy="103.9" r="1.5"/><circle cx="265.9" cy="98.5" r="1.5"/><circle cx="266.2" cy="104.4" r="1.5"/><circle cx="266.4" cy="99.1" r="1.5"/><circle cx="266.5" cy="103.2" r="1.5"/><circle cx="266.8" cy="97.5" r="1.5"/><circle cx="266.9" cy="96.1" r="1.5"/><circle cx="267.3" cy="102.8" r="1.5"/><circle cx="267.5" cy="104.1" r="1.5"/><circle cx="267.6" cy="102.7" r="1.5"/><circle cx="267.9" cy="102.8" r="1.5"/><circle cx="268.1" cy="95.6" r="1.5"/><circle cx="268.3" cy="97.1" r="1.5"/><circle cx="268.4" cy="104.1" r="1.5"/><circle cx="268.5" cy="99.4" r="1.5"/><circle cx="268.8" cy="102.6" r="1.5"/><circle cx="269.1" cy="104.0" r="1.5"/><circle cx="269.4" cy="100.9" r="1.5"/><circle cx="269.4" cy="101.2" r="1.5"/><circle cx="269.6" cy="104.8" r="1.5"/><circle cx="270.0" cy="97.1" r="1.5"/><circle cx="270.0" cy="101.5" r="1.5"/><circle cx="270.4" cy="104.8" r="1.5"/><circle cx="270.5" cy="95.0" r="1.5"/><circle cx="270.8" cy="94.3" r="1.5"/><circle cx="271.0" cy="102.4" r="1.5"/><circle cx="271.2" cy="103.6" r="1.5"/><circle cx="271.4" cy="104.4" r="1.5"/><circle cx="271.6" cy="99.2" r="1.5"/><circle cx="271.7" cy="97.6" r="1.5"/><circle cx="271.9" cy="95.4" r="1.5"/><circle cx="272.2" cy="96.2" r="1.5"/><circle cx="272.4" cy="102.4" r="1.5"/><circle cx="272.6" cy="99.5" r="1.5"/><circle cx="272.8" cy="96.7" r="1.5"/><circle cx="273.0" cy="101.0" r="1.5"/><circle cx="273.3" cy="104.3" r="1.5"/><circle cx="273.4" cy="104.2" r="1.5"/><circle cx="273.7" cy="96.9" r="1.5"/><circle cx="273.9" cy="100.7" r="1.5"/><circle cx="274.2" cy="102.4" r="1.5"/><circle cx="274.2" cy="96.8" r="1.5"/><circle cx="274.5" cy="99.2" r="1.5"/><circle cx="274.6" cy="103.4" r="1.5"/><circle cx="274.9" cy="99.0" r="1.5"/><circle cx="275.1" cy="96.4" r="1.5"/><circle cx="275.2" cy="100.2" r="1.5"/><circle cx="275.3" cy="97.3" r="1.5"/><circle cx="275.5" cy="94.2" r="1.5"/><circle cx="275.7" cy="99.6" r="1.5"/><circle cx="275.9" cy="100.9" r="1.5"/><circle cx="276.0" cy="98.2" r="1.5"/><circle cx="276.1" cy="99.0" r="1.5"/><circle cx="276.4" cy="95.0" r="1.5"/><circle cx="276.4" cy="101.4" r="1.5"/><circle cx="276.6" cy="99.9" r="1.5"/><circle cx="276.8" cy="104.3" r="1.5"/><circle cx="277.0" cy="96.5" r="1.5"/><circle cx="277.1" cy="105.0" r="1.5"/><circle cx="277.2" cy="95.8" r="1.5"/><circle cx="277.4" cy="94.2" r="1.5"/><circle cx="277.4" cy="99.9" r="1.5"/><circle cx="277.6" cy="101.8" r="1.5"/><circle cx="277.8" cy="97.2" r="1.5"/><circle cx="278.0" cy="101.0" r="1.5"/><circle cx="278.1" cy="98.8" r="1.5"/><circle cx="278.2" cy="94.8" r="1.5"/><circle cx="278.4" cy="104.5" r="1.5"/><circle cx="278.6" cy="94.2" r="1.5"/><circle cx="278.6" cy="96.7" r="1.5"/><circle cx="278.9" cy="98.6" r="1.5"/><circle cx="279.0" cy="98.5" r="1.5"/><circle cx="279.2" cy="102.1" r="1.5"/><circle cx="279.3" cy="101.0" r="1.5"/><circle cx="279.5" cy="100.6" r="1.5"/><circle cx="279.6" cy="101.7" r="1.5"/><circle cx="279.7" cy="94.2" r="1.5"/><circle cx="279.9" cy="93.8" r="1.5"/><circle cx="280.0" cy="98.1" r="1.5"/><circle cx="280.2" cy="94.8" r="1.5"/><circle cx="280.4" cy="103.3" r="1.5"/><circle cx="280.5" cy="100.3" r="1.5"/><circle cx="280.7" cy="104.8" r="1.5"/><circle cx="280.8" cy="97.1" r="1.5"/><circle cx="280.9" cy="103.5" r="1.5"/><circle cx="281.1" cy="98.3" r="1.5"/><circle cx="281.3" cy="103.7" r="1.5"/><circle cx="281.4" cy="102.6" r="1.5"/><circle cx="281.6" cy="98.7" r="1.5"/><circle cx="281.7" cy="98.6" r="1.5"/><circle cx="281.9" cy="97.2" r="1.5"/><circle cx="282.1" cy="98.3" r="1.5"/><circle cx="282.2" cy="102.4" r="1.5"/><circle cx="282.3" cy="99.0" r="1.5"/><circle cx="282.6" cy="98.8" r="1.5"/><circle cx="282.6" cy="103.8" r="1.5"/><circle cx="282.9" cy="102.6" r="1.5"/><circle cx="282.9" cy="101.3" r="1.5"/><circle cx="283.1" cy="97.0" r="1.5"/><circle cx="283.3" cy="104.4" r="1.5"/><circle cx="283.4" cy="101.2" r="1.5"/><circle cx="283.6" cy="101.0" r="1.5"/><circle cx="283.7" cy="102.4" r="1.5"/><circle cx="283.9" cy="104.8" r="1.5"/><circle cx="284.0" cy="101.7" r="1.5"/><circle cx="284.1" cy="98.3" r="1.5"/><circle cx="284.4" cy="96.6" r="1.5"/><circle cx="284.5" cy="96.1" r="1.5"/><circle cx="284.6" cy="104.9" r="1.5"/><circle cx="284.7" cy="104.0" r="1.5"/><circle cx="284.9" cy="100.2" r="1.5"/><circle cx="285.1" cy="103.1" r="1.5"/><circle cx="285.2" cy="100.3" r="1.5"/><circle cx="285.4" cy="102.3" r="1.5"/><circle cx="285.6" cy="100.2" r="1.5"/><circle cx="285.6" cy="101.6" r="1.5"/><circle cx="285.8" cy="99.8" r="1.5"/><circle cx="286.1" cy="95.2" r="1.5"/><circle cx="286.2" cy="97.3" r="1.5"/><circle cx="286.3" cy="104.4" r="1.5"/><circle cx="286.4" cy="100.1" r="1.5"/><circle cx="286.6" cy="99.2" r="1.5"/><circle cx="286.7" cy="100.7" r="1.5"/><circle cx="287.0" cy="101.2" r="1.5"/><circle cx="287.0" cy="102.8" r="1.5"/><circle cx="287.2" cy="95.3" r="1.5"/><circle cx="287.4" cy="98.8" r="1.5"/><circle cx="287.5" cy="104.9" r="1.5"/><circle cx="287.7" cy="104.5" r="1.5"/><circle cx="287.8" cy="102.3" r="1.5"/><circle cx="287.9" cy="97.0" r="1.5"/><circle cx="288.1" cy="101.5" r="1.5"/><circle cx="288.3" cy="97.9" r="1.5"/><circle cx="288.4" cy="97.7" r="1.5"/><circle cx="288.6" cy="93.9" r="1.5"/><circle cx="288.7" cy="101.1" r="1.5"/><circle cx="288.8" cy="97.1" r="1.5"/><circle cx="289.1" cy="104.2" r="1.5"/><circle cx="289.1" cy="95.6" r="1.5"/><circle cx="289.3" cy="94.6" r="1.5"/><circle cx="289.5" cy="102.0" r="1.5"/><circle cx="289.6" cy="99.2" r="1.5"/><circle cx="289.8" cy="93.9" r="1.5"/><circle cx="290.0" cy="103.4" r="1.5"/><circle cx="290.0" cy="101.6" r="1.5"/><circle cx="290.3" cy="97.4" r="1.5"/><circle cx="290.4" cy="96.1" r="1.5"/><circle cx="290.5" cy="97.2" r="1.5"/><circle cx="290.7" cy="102.9" r="1.5"/><circle cx="290.8" cy="100.5" r="1.5"/><circle cx="291.1" cy="96.1" r="1.5"/><circle cx="291.1" cy="100.7" r="1.5"/><circle cx="291.2" cy="104.6" r="1.5"/><circle cx="291.4" cy="98.6" r="1.5"/><circle cx="291.6" cy="103.0" r="1.5"/><circle cx="291.8" cy="101.3" r="1.5"/><circle cx="291.8" cy="97.6" r="1.5"/><circle cx="292.1" cy="96.1" r="1.5"/><circle cx="292.3" cy="103.5" r="1.5"/><circle cx="292.3" cy="97.8" r="1.5"/><circle cx="292.5" cy="101.8" r="1.5"/><circle cx="292.6" cy="101.5" r="1.5"/><circle cx="292.7" cy="103.2" r="1.5"/><circle cx="293.0" cy="100.2" r="1.5"/><circle cx="293.0" cy="94.1" r="1.5"/><circle cx="293.2" cy="104.8" r="1.5"/><circle cx="293.4" cy="103.4" r="1.5"/><circle cx="293.5" cy="94.8" r="1.5"/><circle cx="293.6" cy="101.5" r="1.5"/><circle cx="293.8" cy="96.7" r="1.5"/><circle cx="294.0" cy="101.5" r="1.5"/><circle cx="294.1" cy="98.9" r="1.5"/><circle cx="294.3" cy="100.0" r="1.5"/><circle cx="294.4" cy="97.7" r="1.5"/><circle cx="294.6" cy="96.9" r="1.5"/><circle cx="294.7" cy="93.8" r="1.5"/><circle cx="294.9" cy="100.3" r="1.5"/><circle cx="295.0" cy="94.9" r="1.5"/><circle cx="295.3" cy="98.9" r="1.5"/><circle cx="295.4" cy="97.2" r="1.5"/><circle cx="295.6" cy="102.2" r="1.5"/><circle cx="295.7" cy="101.1" r="1.5"/><circle cx="295.9" cy="99.3" r="1.5"/><circle cx="296.0" cy="98.0" r="1.5"/><circle cx="296.1" cy="98.9" r="1.5"/><circle cx="296.3" cy="99.7" r="1.5"/><circle cx="296.5" cy="103.8" r="1.5"/><circle cx="296.5" cy="93.9" r="1.5"/><circle cx="296.7" cy="94.0" r="1.5"/><circle cx="296.9" cy="100.7" r="1.5"/><circle cx="297.0" cy="95.8" r="1.5"/><circle cx="297.3" cy="103.1" r="1.5"/><circle cx="297.4" cy="101.5" r="1.5"/><circle cx="297.5" cy="98.8" r="1.5"/><circle cx="297.6" cy="99.9" r="1.5"/><circle cx="297.9" cy="104.9" r="1.5"/><circle cx="298.0" cy="103.1" r="1.5"/><circle cx="298.0" cy="96.4" r="1.5"/><circle cx="298.3" cy="99.8" r="1.5"/><circle cx="298.4" cy="97.1" r="1.5"/><circle cx="298.6" cy="99.5" r="1.5"/><circle cx="298.8" cy="94.5" r="1.5"/><circle cx="298.9" cy="93.8" r="1.5"/><circle cx="299.0" cy="98.0" r="1.5"/><circle cx="299.2" cy="94.9" r="1.5"/><circle cx="299.3" cy="104.3" r="1.5"/><circle cx="299.5" cy="102.3" r="1.5"/><circle cx="299.6" cy="100.2" r="1.5"/><circle cx="299.7" cy="98.9" r="1.5"/><circle cx="300.0" cy="101.3" r="1.5"/><circle cx="300.0" cy="98.7" r="1.5"/><circle cx="300.3" cy="97.4" r="1.5"/><circle cx="300.5" cy="100.8" r="1.5"/><circle cx="300.6" cy="96.1" r="1.5"/><circle cx="301.0" cy="96.0" r="1.5"/><circle cx="301.1" cy="102.3" r="1.5"/><circle cx="301.3" cy="104.5" r="1.5"/><circle cx="301.6" cy="94.8" r="1.5"/><circle cx="301.8" cy="96.6" r="1.5"/><circle cx="302.1" cy="101.9" r="1.5"/><circle cx="302.3" cy="94.3" r="1.5"/><circle cx="302.3" cy="102.7" r="1.5"/><circle cx="302.6" cy="95.9" r="1.5"/><circle cx="302.8" cy="95.5" r="1.5"/><circle cx="303.1" cy="104.5" r="1.5"/><circle cx="303.3" cy="96.6" r="1.5"/><circle cx="303.6" cy="95.7" r="1.5"/><circle cx="303.7" cy="100.6" r="1.5"/><circle cx="304.0" cy="94.1" r="1.5"/><circle cx="304.2" cy="98.0" r="1.5"/><circle cx="304.4" cy="96.5" r="1.5"/><circle cx="304.6" cy="95.7" r="1.5"/><circle cx="304.8" cy="104.6" r="1.5"/><circle cx="304.9" cy="96.8" r="1.5"/><circle cx="305.3" cy="101.3" r="1.5"/><circle cx="305.3" cy="95.7" r="1.5"/><circle cx="305.6" cy="96.9" r="1.5"/><circle cx="305.9" cy="101.6" r="1.5"/><circle cx="306.2" cy="101.2" r="1.5"/><circle cx="306.3" cy="98.0" r="1.5"/><circle cx="306.5" cy="99.2" r="1.5"/><circle cx="306.6" cy="99.2" r="1.5"/><circle cx="306.9" cy="99.7" r="1.5"/><circle cx="307.0" cy="93.9" r="1.5"/><circle cx="307.4" cy="97.8" r="1.5"/><circle cx="307.5" cy="95.3" r="1.5"/><circle cx="307.8" cy="104.0" r="1.5"/><circle cx="307.9" cy="99.3" r="1.5"/><circle cx="308.2" cy="102.3" r="1.5"/><circle cx="308.4" cy="96.3" r="1.5"/><circle cx="308.5" cy="101.9" r="1.5"/><circle cx="308.7" cy="103.5" r="1.5"/><circle cx="308.9" cy="95.8" r="1.5"/><circle cx="309.2" cy="103.2" r="1.5"/><circle cx="309.5" cy="102.1" r="1.5"/><circle cx="309.7" cy="101.8" r="1.5"/><circle cx="309.8" cy="103.0" r="1.5"/><circle cx="310.0" cy="95.5" r="1.5"/><circle cx="310.2" cy="93.9" r="1.5"/><circle cx="310.6" cy="97.9" r="1.5"/><circle cx="310.6" cy="94.1" r="1.5"/><circle cx="311.0" cy="100.5" r="1.5"/><circle cx="311.2" cy="94.0" r="1.5"/><circle cx="311.3" cy="96.9" r="1.5"/><circle cx="311.5" cy="94.9" r="1.5"/><circle cx="311.7" cy="100.9" r="1.5"/><circle cx="311.9" cy="95.5" r="1.5"/><circle cx="312.2" cy="97.9" r="1.5"/><circle cx="312.4" cy="100.1" r="1.5"/><circle cx="312.6" cy="98.0" r="1.5"/><circle cx="312.9" cy="94.1" r="1.5"/><circle cx="313.1" cy="95.8" r="1.5"/><circle cx="313.2" cy="93.7" r="1.5"/><circle cx="313.6" cy="100.3" r="1.5"/><circle cx="313.7" cy="99.8" r="1.5"/><circle cx="314.0" cy="95.1" r="1.5"/><circle cx="314.1" cy="101.7" r="1.5"/><circle cx="314.3" cy="101.7" r="1.5"/><circle cx="314.6" cy="94.1" r="1.5"/><circle cx="314.7" cy="96.9" r="1.5"/><circle cx="315.0" cy="102.5" r="1.5"/><circle cx="315.2" cy="104.1" r="1.5"/><circle cx="315.3" cy="98.1" r="1.5"/><circle cx="315.7" cy="102.3" r="1.5"/><circle cx="315.7" cy="104.8" r="1.5"/><circle cx="316.1" cy="103.5" r="1.5"/><circle cx="316.2" cy="100.5" r="1.5"/><circle cx="316.6" cy="103.8" r="1.5"/><circle cx="316.7" cy="103.7" r="1.5"/><circle cx="317.0" cy="103.2" r="1.5"/><circle cx="317.1" cy="104.5" r="1.5"/><circle cx="317.2" cy="98.2" r="1.5"/><circle cx="317.5" cy="95.1" r="1.5"/><circle cx="317.8" cy="94.3" r="1.5"/><circle cx="318.0" cy="96.8" r="1.5"/><circle cx="318.1" cy="100.5" r="1.5"/><circle cx="318.3" cy="98.7" r="1.5"/><circle cx="318.7" cy="104.9" r="1.5"/><circle cx="318.8" cy="97.8" r="1.5"/><circle cx="319.1" cy="95.8" r="1.5"/><circle cx="319.3" cy="95.9" r="1.5"/><circle cx="319.5" cy="97.5" r="1.5"/><circle cx="319.6" cy="93.6" r="1.5"/><circle cx="319.8" cy="97.3" r="1.5"/><circle cx="320.0" cy="104.9" r="1.5"/><circle cx="320.3" cy="94.3" r="1.5"/><circle cx="320.6" cy="96.3" r="1.5"/><circle cx="320.7" cy="101.8" r="1.5"/><circle cx="321.0" cy="104.3" r="1.5"/><circle cx="321.1" cy="97.2" r="1.5"/><circle cx="321.3" cy="97.2" r="1.5"/><circle cx="321.6" cy="98.9" r="1.5"/><circle cx="321.8" cy="95.3" r="1.5"/><circle cx="322.1" cy="104.6" r="1.5"/><circle cx="322.1" cy="100.6" r="1.5"/><circle cx="322.3" cy="94.0" r="1.5"/><circle cx="322.6" cy="95.7" r="1.5"/><circle cx="322.9" cy="100.1" r="1.5"/><circle cx="323.1" cy="104.6" r="1.5"/><circle cx="323.2" cy="94.7" r="1.5"/><circle cx="323.4" cy="98.8" r="1.5"/><circle cx="323.8" cy="101.4" r="1.5"/><circle cx="323.9" cy="103.4" r="1.5"/><circle cx="324.1" cy="94.9" r="1.5"/><circle cx="324.4" cy="93.9" r="1.5"/><circle cx="324.5" cy="93.9" r="1.5"/><circle cx="324.7" cy="94.3" r="1.5"/><circle cx="325.0" cy="95.1" r="1.5"/><circle cx="325.2" cy="103.0" r="1.5"/><circle cx="325.4" cy="95.0" r="1.5"/><circle cx="325.6" cy="101.9" r="1.5"/><circle cx="325.9" cy="99.9" r="1.5"/><circle cx="326.0" cy="103.4" r="1.5"/><circle cx="326.3" cy="104.7" r="1.5"/><circle cx="326.4" cy="102.4" r="1.5"/><circle cx="326.7" cy="98.9" r="1.5"/><circle cx="326.8" cy="99.0" r="1.5"/><circle cx="327.0" cy="100.5" r="1.5"/><circle cx="327.3" cy="99.4" r="1.5"/><circle cx="327.4" cy="95.1" r="1.5"/><circle cx="327.8" cy="101.4" r="1.5"/><circle cx="328.0" cy="102.6" r="1.5"/><circle cx="328.1" cy="98.8" r="1.5"/><circle cx="328.4" cy="102.8" r="1.5"/><circle cx="328.6" cy="104.1" r="1.5"/><circle cx="328.8" cy="98.1" r="1.5"/><circle cx="329.0" cy="97.7" r="1.5"/><circle cx="329.3" cy="94.1" r="1.5"/><circle cx="329.4" cy="94.5" r="1.5"/><circle cx="329.7" cy="95.3" r="1.5"/><circle cx="329.8" cy="98.4" r="1.5"/><circle cx="330.1" cy="102.3" r="1.5"/><circle cx="330.3" cy="97.0" r="1.5"/><circle cx="330.5" cy="103.7" r="1.5"/><circle cx="330.6" cy="93.7" r="1.5"/><circle cx="331.0" cy="99.1" r="1.5"/><circle cx="331.1" cy="95.2" r="1.5"/><circle cx="331.4" cy="102.1" r="1.5"/><circle cx="331.5" cy="101.3" r="1.5"/><circle cx="331.7" cy="98.7" r="1.5"/><circle cx="332.0" cy="94.2" r="1.5"/><circle cx="332.3" cy="97.4" r="1.5"/><circle cx="332.3" cy="102.5" r="1.5"/><circle cx="332.5" cy="94.0" r="1.5"/><circle cx="332.9" cy="99.0" r="1.5"/><circle cx="333.1" cy="102.6" r="1.5"/><circle cx="333.2" cy="94.1" r="1.5"/><circle cx="333.5" cy="99.0" r="1.5"/><circle cx="333.6" cy="104.1" r="1.5"/><circle cx="333.8" cy="100.9" r="1.5"/><circle cx="334.0" cy="104.1" r="1.5"/><circle cx="334.1" cy="100.6" r="1.5"/><circle cx="334.1" cy="101.9" r="1.5"/><circle cx="334.2" cy="102.7" r="1.5"/><circle cx="334.2" cy="99.3" r="1.5"/><circle cx="334.2" cy="99.8" r="1.5"/><circle cx="334.3" cy="103.5" r="1.5"/><circle cx="334.3" cy="99.9" r="1.5"/><circle cx="334.3" cy="95.5" r="1.5"/><circle cx="334.4" cy="102.3" r="1.5"/><circle cx="334.4" cy="98.4" r="1.5"/><circle cx="334.5" cy="101.9" r="1.5"/><circle cx="334.5" cy="94.9" r="1.5"/><circle cx="334.5" cy="95.5" r="1.5"/><circle cx="334.6" cy="99.3" r="1.5"/><circle cx="334.6" cy="97.8" r="1.5"/><circle cx="334.7" cy="95.6" r="1.5"/><circle cx="334.7" cy="100.5" r="1.5"/><circle cx="334.7" cy="101.6" r="1.5"/><circle cx="334.8" cy="100.6" r="1.5"/><circle cx="334.9" cy="100.5" r="1.5"/><circle cx="334.9" cy="104.7" r="1.5"/><circle cx="334.9" cy="101.0" r="1.5"/><circle cx="335.0" cy="98.3" r="1.5"/><circle cx="335.0" cy="101.0" r="1.5"/><circle cx="335.0" cy="97.6" r="1.5"/><circle cx="335.1" cy="102.7" r="1.5"/><circle cx="335.1" cy="103.2" r="1.5"/><circle cx="335.2" cy="100.9" r="1.5"/><circle cx="335.2" cy="97.2" r="1.5"/><circle cx="335.2" cy="102.7" r="1.5"/><circle cx="335.3" cy="97.1" r="1.5"/><circle cx="335.3" cy="94.9" r="1.5"/><circle cx="335.4" cy="100.9" r="1.5"/><circle cx="335.4" cy="94.6" r="1.5"/><circle cx="335.5" cy="102.3" r="1.5"/><circle cx="335.5" cy="103.6" r="1.5"/><circle cx="335.5" cy="99.0" r="1.5"/><circle cx="335.6" cy="96.9" r="1.5"/><circle cx="335.6" cy="96.8" r="1.5"/><circle cx="335.7" cy="93.9" r="1.5"/><circle cx="335.7" cy="102.7" r="1.5"/><circle cx="335.7" cy="95.8" r="1.5"/><circle cx="335.8" cy="94.5" r="1.5"/><circle cx="335.8" cy="100.5" r="1.5"/><circle cx="335.9" cy="98.8" r="1.5"/><circle cx="335.9" cy="97.2" r="1.5"/><circle cx="335.9" cy="98.4" r="1.5"/><circle cx="336.0" cy="104.7" r="1.5"/><circle cx="336.0" cy="104.1" r="1.5"/><circle cx="336.1" cy="100.1" r="1.5"/><circle cx="336.1" cy="102.8" r="1.5"/><circle cx="336.1" cy="100.0" r="1.5"/><circle cx="336.2" cy="94.7" r="1.5"/><circle cx="336.2" cy="95.4" r="1.5"/><circle cx="336.3" cy="100.2" r="1.5"/><circle cx="336.3" cy="104.5" r="1.5"/><circle cx="336.4" cy="101.0" r="1.5"/><circle cx="336.4" cy="102.5" r="1.5"/><circle cx="336.5" cy="95.4" r="1.5"/><circle cx="336.5" cy="98.3" r="1.5"/><circle cx="336.5" cy="101.7" r="1.5"/><circle cx="336.6" cy="100.1" r="1.5"/><circle cx="336.6" cy="103.0" r="1.5"/><circle cx="336.6" cy="95.3" r="1.5"/><circle cx="336.7" cy="95.4" r="1.5"/><circle cx="336.8" cy="97.1" r="1.5"/><circle cx="336.8" cy="98.9" r="1.5"/><circle cx="336.8" cy="96.8" r="1.5"/><circle cx="336.9" cy="97.4" r="1.5"/><circle cx="336.9" cy="102.8" r="1.5"/><circle cx="336.9" cy="99.8" r="1.5"/><circle cx="337.0" cy="103.7" r="1.5"/><circle cx="337.0" cy="96.6" r="1.5"/><circle cx="337.1" cy="100.3" r="1.5"/><circle cx="337.1" cy="98.3" r="1.5"/><circle cx="337.2" cy="95.9" r="1.5"/><circle cx="337.2" cy="96.5" r="1.5"/><circle cx="337.2" cy="94.8" r="1.5"/><circle cx="337.3" cy="95.9" r="1.5"/><circle cx="337.3" cy="100.2" r="1.5"/><circle cx="337.3" cy="104.9" r="1.5"/><circle cx="337.4" cy="97.9" r="1.5"/><circle cx="337.4" cy="103.0" r="1.5"/><circle cx="337.5" cy="95.6" r="1.5"/><circle cx="337.5" cy="102.9" r="1.5"/><circle cx="337.6" cy="96.0" r="1.5"/><circle cx="337.6" cy="95.5" r="1.5"/><circle cx="337.6" cy="103.9" r="1.5"/><circle cx="337.7" cy="99.0" r="1.5"/><circle cx="337.7" cy="97.6" r="1.5"/><circle cx="337.8" cy="101.0" r="1.5"/><circle cx="337.8" cy="102.4" r="1.5"/><circle cx="337.8" cy="98.8" r="1.5"/><circle cx="337.9" cy="97.8" r="1.5"/><circle cx="337.9" cy="101.4" r="1.5"/><circle cx="338.0" cy="97.3" r="1.5"/><circle cx="338.0" cy="95.3" r="1.5"/><circle cx="338.0" cy="98.0" r="1.5"/><circle cx="338.1" cy="94.0" r="1.5"/><circle cx="338.1" cy="98.5" r="1.5"/><circle cx="338.2" cy="103.1" r="1.5"/><circle cx="338.2" cy="97.2" r="1.5"/><circle cx="338.3" cy="97.1" r="1.5"/><circle cx="338.3" cy="100.3" r="1.5"/><circle cx="338.4" cy="98.0" r="1.5"/><circle cx="338.4" cy="94.8" r="1.5"/><circle cx="338.4" cy="102.3" r="1.5"/><circle cx="338.5" cy="101.9" r="1.5"/><circle cx="338.5" cy="94.6" r="1.5"/><circle cx="338.5" cy="97.2" r="1.5"/><circle cx="338.6" cy="102.0" r="1.5"/><circle cx="338.6" cy="98.8" r="1.5"/><circle cx="338.7" cy="99.0" r="1.5"/><circle cx="338.7" cy="96.6" r="1.5"/><circle cx="338.8" cy="104.1" r="1.5"/><circle cx="338.8" cy="104.5" r="1.5"/><circle cx="338.9" cy="95.6" r="1.5"/><circle cx="338.9" cy="95.9" r="1.5"/><circle cx="338.9" cy="95.0" r="1.5"/><circle cx="339.0" cy="98.6" r="1.5"/><circle cx="339.0" cy="101.4" r="1.5"/><circle cx="339.0" cy="103.8" r="1.5"/><circle cx="339.1" cy="99.4" r="1.5"/><circle cx="339.1" cy="96.9" r="1.5"/><circle cx="339.2" cy="98.4" r="1.5"/><circle cx="339.2" cy="100.4" r="1.5"/><circle cx="339.3" cy="94.4" r="1.5"/><circle cx="339.3" cy="101.9" r="1.5"/><circle cx="339.3" cy="96.2" r="1.5"/><circle cx="339.4" cy="94.2" r="1.5"/><circle cx="339.4" cy="99.8" r="1.5"/><circle cx="339.5" cy="100.0" r="1.5"/><circle cx="339.5" cy="93.8" r="1.5"/><circle cx="339.5" cy="97.4" r="1.5"/><circle cx="339.6" cy="97.9" r="1.5"/><circle cx="339.6" cy="94.2" r="1.5"/><circle cx="339.7" cy="97.0" r="1.5"/><circle cx="339.7" cy="93.9" r="1.5"/><circle cx="339.7" cy="93.8" r="1.5"/><circle cx="339.8" cy="97.7" r="1.5"/><circle cx="339.8" cy="99.6" r="1.5"/><circle cx="339.8" cy="94.8" r="1.5"/><circle cx="339.9" cy="99.9" r="1.5"/><circle cx="339.9" cy="97.5" r="1.5"/><circle cx="340.0" cy="99.3" r="1.5"/><circle cx="340.0" cy="103.1" r="1.5"/><circle cx="340.1" cy="101.9" r="1.5"/><circle cx="340.1" cy="98.9" r="1.5"/><circle cx="340.2" cy="100.2" r="1.5"/><circle cx="340.2" cy="102.9" r="1.5"/><circle cx="340.3" cy="94.2" r="1.5"/><circle cx="340.3" cy="100.6" r="1.5"/><circle cx="340.3" cy="104.0" r="1.5"/><circle cx="340.3" cy="99.0" r="1.5"/><circle cx="340.4" cy="104.4" r="1.5"/><circle cx="340.4" cy="100.0" r="1.5"/><circle cx="340.5" cy="102.2" r="1.5"/><circle cx="340.5" cy="102.0" r="1.5"/><circle cx="340.6" cy="103.7" r="1.5"/><circle cx="340.6" cy="96.2" r="1.5"/><circle cx="340.7" cy="103.6" r="1.5"/><circle cx="340.7" cy="96.7" r="1.5"/><circle cx="340.7" cy="101.7" r="1.5"/><circle cx="340.8" cy="94.3" r="1.5"/><circle cx="340.8" cy="99.6" r="1.5"/><circle cx="340.8" cy="99.1" r="1.5"/><circle cx="340.9" cy="94.8" r="1.5"/><circle cx="341.0" cy="104.3" r="1.5"/><circle cx="341.0" cy="98.7" r="1.5"/></g><line x1="252.1" y1="99.45" x2="300.2" y2="99.45" stroke="#2b2b2b" stroke-width="1.05"/><line x1="333.5" y1="99.45" x2="340.7" y2="99.45" stroke="#2b2b2b" stroke-width="1.05"/><path d="M300.2,90.5 L321.0,90.5 L322.5,92.9 L324.0,90.5 L333.5,90.5 L333.5,108.1 L324.0,108.1 L322.5,105.7 L321.0,108.1 L300.2,108.1 Z" fill="#999999" fill-opacity="1" stroke="#3a3a3a" stroke-width="0.9" stroke-linejoin="round"/><line x1="322.5" y1="92.9" x2="322.5" y2="105.7" stroke="#2a2a2a" stroke-width="1.2"/><g fill="#d8262c" fill-opacity="0.55"><circle cx="271.5" cy="121.2" r="1.5"/><circle cx="279.5" cy="117.6" r="1.5"/><circle cx="275.7" cy="125.0" r="1.5"/><circle cx="284.1" cy="122.2" r="1.5"/><circle cx="290.0" cy="121.2" r="1.5"/><circle cx="291.9" cy="121.8" r="1.5"/><circle cx="296.3" cy="127.0" r="1.5"/><circle cx="300.9" cy="118.2" r="1.5"/><circle cx="295.8" cy="127.4" r="1.5"/><circle cx="301.7" cy="127.4" r="1.5"/><circle cx="306.7" cy="126.5" r="1.5"/><circle cx="309.5" cy="127.6" r="1.5"/><circle cx="311.3" cy="124.8" r="1.5"/><circle cx="312.8" cy="127.6" r="1.5"/><circle cx="316.5" cy="121.0" r="1.5"/><circle cx="318.0" cy="125.5" r="1.5"/><circle cx="320.1" cy="124.6" r="1.5"/><circle cx="320.4" cy="120.7" r="1.5"/><circle cx="321.0" cy="122.3" r="1.5"/><circle cx="321.4" cy="123.7" r="1.5"/><circle cx="322.0" cy="127.5" r="1.5"/><circle cx="322.4" cy="126.3" r="1.5"/><circle cx="322.5" cy="119.7" r="1.5"/><circle cx="323.0" cy="124.2" r="1.5"/><circle cx="323.4" cy="120.9" r="1.5"/><circle cx="324.0" cy="120.5" r="1.5"/><circle cx="324.0" cy="117.9" r="1.5"/><circle cx="324.5" cy="125.2" r="1.5"/><circle cx="325.1" cy="117.4" r="1.5"/><circle cx="325.3" cy="119.7" r="1.5"/><circle cx="325.9" cy="127.1" r="1.5"/><circle cx="326.1" cy="118.1" r="1.5"/><circle cx="326.8" cy="128.0" r="1.5"/><circle cx="327.1" cy="122.3" r="1.5"/><circle cx="327.5" cy="125.6" r="1.5"/><circle cx="327.8" cy="120.0" r="1.5"/><circle cx="328.2" cy="124.4" r="1.5"/><circle cx="328.5" cy="124.2" r="1.5"/><circle cx="328.9" cy="128.0" r="1.5"/><circle cx="329.3" cy="119.5" r="1.5"/><circle cx="330.0" cy="127.7" r="1.5"/><circle cx="330.4" cy="126.5" r="1.5"/><circle cx="330.7" cy="126.3" r="1.5"/><circle cx="331.0" cy="117.7" r="1.5"/><circle cx="331.5" cy="126.4" r="1.5"/><circle cx="331.9" cy="117.4" r="1.5"/><circle cx="332.0" cy="125.2" r="1.5"/><circle cx="332.6" cy="127.1" r="1.5"/><circle cx="333.2" cy="122.0" r="1.5"/><circle cx="333.5" cy="124.5" r="1.5"/><circle cx="333.9" cy="121.1" r="1.5"/><circle cx="334.3" cy="117.7" r="1.5"/><circle cx="334.8" cy="125.1" r="1.5"/><circle cx="335.1" cy="122.2" r="1.5"/><circle cx="335.3" cy="122.0" r="1.5"/><circle cx="335.9" cy="123.1" r="1.5"/><circle cx="336.0" cy="116.9" r="1.5"/><circle cx="336.5" cy="119.7" r="1.5"/><circle cx="336.7" cy="119.4" r="1.5"/><circle cx="337.1" cy="124.8" r="1.5"/><circle cx="337.6" cy="124.6" r="1.5"/><circle cx="337.7" cy="126.8" r="1.5"/><circle cx="338.2" cy="125.2" r="1.5"/><circle cx="338.5" cy="120.9" r="1.5"/><circle cx="338.8" cy="117.7" r="1.5"/><circle cx="339.2" cy="117.5" r="1.5"/><circle cx="339.6" cy="127.3" r="1.5"/><circle cx="339.9" cy="123.8" r="1.5"/><circle cx="340.3" cy="127.8" r="1.5"/><circle cx="340.6" cy="128.2" r="1.5"/><circle cx="340.8" cy="117.1" r="1.5"/><circle cx="341.2" cy="124.2" r="1.5"/><circle cx="341.6" cy="123.9" r="1.5"/><circle cx="341.8" cy="117.0" r="1.5"/></g><line x1="301.4" y1="122.75" x2="320.1" y2="122.75" stroke="#2b2b2b" stroke-width="1.05"/><line x1="335.7" y1="122.75" x2="340.9" y2="122.75" stroke="#2b2b2b" stroke-width="1.05"/><path d="M320.1,113.9 L327.3,113.9 L330.6,117.8 L333.3,113.9 L335.7,113.9 L335.7,131.3 L333.3,131.3 L330.6,127.4 L327.3,131.3 L320.1,131.3 Z" fill="#dc585e" fill-opacity="1" stroke="#3a3a3a" stroke-width="0.9" stroke-linejoin="round"/><g fill="#c8161c" fill-opacity="0.3"><circle cx="321.4" cy="123.7" r="1.5"/><circle cx="322.0" cy="127.5" r="1.5"/><circle cx="322.4" cy="126.3" r="1.5"/><circle cx="322.5" cy="119.7" r="1.5"/><circle cx="323.0" cy="124.2" r="1.5"/><circle cx="323.4" cy="120.9" r="1.5"/><circle cx="324.0" cy="120.5" r="1.5"/><circle cx="324.0" cy="117.9" r="1.5"/><circle cx="324.5" cy="125.2" r="1.5"/><circle cx="325.1" cy="117.4" r="1.5"/><circle cx="325.3" cy="119.7" r="1.5"/><circle cx="325.9" cy="127.1" r="1.5"/><circle cx="326.1" cy="118.1" r="1.5"/><circle cx="326.8" cy="128.0" r="1.5"/><circle cx="327.1" cy="122.3" r="1.5"/><circle cx="327.5" cy="125.6" r="1.5"/><circle cx="327.8" cy="120.0" r="1.5"/><circle cx="328.2" cy="124.4" r="1.5"/><circle cx="328.5" cy="124.2" r="1.5"/><circle cx="328.9" cy="128.0" r="1.5"/><circle cx="329.3" cy="119.5" r="1.5"/><circle cx="330.0" cy="127.7" r="1.5"/><circle cx="330.4" cy="126.5" r="1.5"/><circle cx="330.7" cy="126.3" r="1.5"/><circle cx="331.0" cy="117.7" r="1.5"/><circle cx="331.5" cy="126.4" r="1.5"/><circle cx="331.9" cy="117.4" r="1.5"/><circle cx="332.0" cy="125.2" r="1.5"/><circle cx="332.6" cy="127.1" r="1.5"/><circle cx="333.2" cy="122.0" r="1.5"/><circle cx="333.5" cy="124.5" r="1.5"/><circle cx="333.9" cy="121.1" r="1.5"/><circle cx="334.3" cy="117.7" r="1.5"/></g><line x1="330.6" y1="117.8" x2="330.6" y2="127.4" stroke="#2a2a2a" stroke-width="1.2"/><line x1="66.4" y1="85.5" x2="353.4" y2="85.5" stroke="#b0b0b0" stroke-width="1.1"/><path d="M66.4,85.5 V136.3 H353.4 V85.5" fill="none" stroke="#a0a0a0" stroke-width="1.2"/><line x1="64.0" y1="99.3" x2="66.0" y2="99.3" stroke="#333" stroke-width="0.9"/><line x1="64.0" y1="122.6" x2="66.0" y2="122.6" stroke="#333" stroke-width="0.9"/><text x="62.6" y="102.8" font-size="9.55" text-anchor="end" fill="#4d4d4d" color="#4d4d4d" >WT</text><text x="62.6" y="126.0" font-size="9.55" text-anchor="end" fill="#4d4d4d" color="#4d4d4d" >Mutated</text><text x="141.0" y="146.7" font-size="9.55" text-anchor="middle" fill="#4d4d4d" color="#4d4d4d" >0.2</text><text x="221.9" y="146.7" font-size="9.55" text-anchor="middle" fill="#4d4d4d" color="#4d4d4d" >0.4</text><text x="302.8" y="146.7" font-size="9.55" text-anchor="middle" fill="#4d4d4d" color="#4d4d4d" >0.6</text><text x="209.9" y="157.8" font-size="10.35" text-anchor="middle" fill="#000" color="#000" >log(proteobacteria relative abundance + 1)</text><text transform="translate(24.3,110.5) rotate(-90)" font-size="10.4" text-anchor="middle" font-style="italic" fill="#000">FLT3</text><text x="0.3" y="89.9" font-size="12.50" text-anchor="start" fill="#000" color="#000" font-weight="bold">b</text><text x="80.9" y="114.7" font-size="11.60" text-anchor="start" fill="#000" color="#000" >P = 0.00052</text><line x1="100.3" y1="168.4" x2="100.3" y2="218.6" stroke="#f3f3f3" stroke-width="0.7"/><line x1="181.2" y1="168.4" x2="181.2" y2="218.6" stroke="#f3f3f3" stroke-width="0.7"/><line x1="262.0" y1="168.4" x2="262.0" y2="218.6" stroke="#f3f3f3" stroke-width="0.7"/><line x1="342.9" y1="168.4" x2="342.9" y2="218.6" stroke="#f3f3f3" stroke-width="0.7"/><line x1="140.7" y1="168.4" x2="140.7" y2="218.6" stroke="#ebebeb" stroke-width="1"/><line x1="221.6" y1="168.4" x2="221.6" y2="218.6" stroke="#ebebeb" stroke-width="1"/><line x1="302.5" y1="168.4" x2="302.5" y2="218.6" stroke="#ebebeb" stroke-width="1"/><line x1="66.4" y1="181.5" x2="353.4" y2="181.5" stroke="#ebebeb" stroke-width="1"/><line x1="66.4" y1="204.7" x2="353.4" y2="204.7" stroke="#ebebeb" stroke-width="1"/><g fill="#8f8f8f" fill-opacity="0.47"><circle cx="79.0" cy="184.8" r="1.5"/><circle cx="93.3" cy="185.1" r="1.5"/><circle cx="98.8" cy="180.4" r="1.5"/><circle cx="107.3" cy="180.2" r="1.5"/><circle cx="107.8" cy="182.1" r="1.5"/><circle cx="106.8" cy="182.8" r="1.5"/><circle cx="108.3" cy="183.1" r="1.5"/><circle cx="110.9" cy="182.1" r="1.5"/><circle cx="106.3" cy="186.4" r="1.5"/><circle cx="111.7" cy="186.1" r="1.5"/><circle cx="115.0" cy="186.4" r="1.5"/><circle cx="123.1" cy="182.1" r="1.5"/><circle cx="124.7" cy="180.2" r="1.5"/><circle cx="127.2" cy="175.9" r="1.5"/><circle cx="131.1" cy="181.0" r="1.5"/><circle cx="132.5" cy="182.5" r="1.5"/><circle cx="136.4" cy="185.5" r="1.5"/><circle cx="148.1" cy="175.9" r="1.5"/><circle cx="147.1" cy="184.3" r="1.5"/><circle cx="148.8" cy="182.8" r="1.5"/><circle cx="155.2" cy="179.0" r="1.5"/><circle cx="159.7" cy="177.4" r="1.5"/><circle cx="157.7" cy="185.8" r="1.5"/><circle cx="166.7" cy="182.3" r="1.5"/><circle cx="167.5" cy="183.8" r="1.5"/><circle cx="170.3" cy="177.7" r="1.5"/><circle cx="170.6" cy="179.7" r="1.5"/><circle cx="173.6" cy="179.4" r="1.5"/><circle cx="176.4" cy="182.1" r="1.5"/><circle cx="177.4" cy="183.3" r="1.5"/><circle cx="178.4" cy="182.1" r="1.5"/><circle cx="177.9" cy="184.8" r="1.5"/><circle cx="179.5" cy="187.2" r="1.5"/><circle cx="181.0" cy="176.1" r="1.5"/><circle cx="182.5" cy="178.0" r="1.5"/><circle cx="184.0" cy="178.7" r="1.5"/><circle cx="185.6" cy="179.7" r="1.5"/><circle cx="187.1" cy="178.7" r="1.5"/><circle cx="190.2" cy="183.8" r="1.5"/><circle cx="193.2" cy="185.1" r="1.5"/><circle cx="191.7" cy="179.4" r="1.5"/><circle cx="192.2" cy="177.2" r="1.5"/><circle cx="196.3" cy="175.9" r="1.5"/><circle cx="197.8" cy="177.4" r="1.5"/><circle cx="198.9" cy="178.4" r="1.5"/><circle cx="198.9" cy="182.8" r="1.5"/><circle cx="199.9" cy="185.8" r="1.5"/><circle cx="201.4" cy="184.3" r="1.5"/><circle cx="203.0" cy="183.8" r="1.5"/><circle cx="204.5" cy="178.7" r="1.5"/><circle cx="205.5" cy="182.9" r="1.5"/><circle cx="206.1" cy="182.6" r="1.5"/><circle cx="206.6" cy="184.6" r="1.5"/><circle cx="207.3" cy="181.1" r="1.5"/><circle cx="207.8" cy="180.3" r="1.5"/><circle cx="207.9" cy="179.5" r="1.5"/><circle cx="208.6" cy="187.1" r="1.5"/><circle cx="209.2" cy="178.9" r="1.5"/><circle cx="210.0" cy="176.9" r="1.5"/><circle cx="210.3" cy="180.3" r="1.5"/><circle cx="210.8" cy="182.6" r="1.5"/><circle cx="211.5" cy="184.9" r="1.5"/><circle cx="212.1" cy="186.9" r="1.5"/><circle cx="212.5" cy="181.9" r="1.5"/><circle cx="213.1" cy="176.0" r="1.5"/><circle cx="213.7" cy="186.0" r="1.5"/><circle cx="214.3" cy="181.4" r="1.5"/><circle cx="215.0" cy="178.8" r="1.5"/><circle cx="215.6" cy="176.5" r="1.5"/><circle cx="216.1" cy="179.0" r="1.5"/><circle cx="216.9" cy="184.6" r="1.5"/><circle cx="217.4" cy="182.6" r="1.5"/><circle cx="218.1" cy="184.2" r="1.5"/><circle cx="218.2" cy="177.3" r="1.5"/><circle cx="219.1" cy="185.4" r="1.5"/><circle cx="219.9" cy="184.6" r="1.5"/><circle cx="219.9" cy="182.3" r="1.5"/><circle cx="220.8" cy="182.7" r="1.5"/><circle cx="221.1" cy="186.8" r="1.5"/><circle cx="221.9" cy="178.9" r="1.5"/><circle cx="222.7" cy="180.2" r="1.5"/><circle cx="222.8" cy="183.4" r="1.5"/><circle cx="223.4" cy="178.3" r="1.5"/><circle cx="224.0" cy="182.7" r="1.5"/><circle cx="224.6" cy="183.4" r="1.5"/><circle cx="225.3" cy="187.1" r="1.5"/><circle cx="225.6" cy="186.3" r="1.5"/><circle cx="225.8" cy="185.2" r="1.5"/><circle cx="226.0" cy="182.4" r="1.5"/><circle cx="226.4" cy="176.9" r="1.5"/><circle cx="227.0" cy="177.2" r="1.5"/><circle cx="227.2" cy="181.8" r="1.5"/><circle cx="227.3" cy="184.8" r="1.5"/><circle cx="227.7" cy="185.9" r="1.5"/><circle cx="228.3" cy="181.5" r="1.5"/><circle cx="228.5" cy="176.1" r="1.5"/><circle cx="228.9" cy="176.2" r="1.5"/><circle cx="229.2" cy="186.3" r="1.5"/><circle cx="229.6" cy="177.1" r="1.5"/><circle cx="229.9" cy="183.8" r="1.5"/><circle cx="230.1" cy="184.6" r="1.5"/><circle cx="230.5" cy="180.5" r="1.5"/><circle cx="230.8" cy="178.9" r="1.5"/><circle cx="231.1" cy="185.9" r="1.5"/><circle cx="231.4" cy="184.6" r="1.5"/><circle cx="231.8" cy="178.0" r="1.5"/><circle cx="232.0" cy="186.8" r="1.5"/><circle cx="232.6" cy="187.0" r="1.5"/><circle cx="232.9" cy="176.5" r="1.5"/><circle cx="233.1" cy="176.4" r="1.5"/><circle cx="233.5" cy="182.9" r="1.5"/><circle cx="234.0" cy="179.2" r="1.5"/><circle cx="234.1" cy="178.3" r="1.5"/><circle cx="234.4" cy="176.1" r="1.5"/><circle cx="234.8" cy="180.6" r="1.5"/><circle cx="235.1" cy="186.6" r="1.5"/><circle cx="235.4" cy="185.2" r="1.5"/><circle cx="235.8" cy="177.0" r="1.5"/><circle cx="236.0" cy="182.7" r="1.5"/><circle cx="236.6" cy="176.4" r="1.5"/><circle cx="236.9" cy="178.5" r="1.5"/><circle cx="237.2" cy="185.3" r="1.5"/><circle cx="237.6" cy="178.6" r="1.5"/><circle cx="237.7" cy="186.8" r="1.5"/><circle cx="238.3" cy="186.3" r="1.5"/><circle cx="238.5" cy="176.4" r="1.5"/><circle cx="238.8" cy="186.2" r="1.5"/><circle cx="239.0" cy="179.2" r="1.5"/><circle cx="239.3" cy="185.8" r="1.5"/><circle cx="239.8" cy="176.7" r="1.5"/><circle cx="240.1" cy="178.1" r="1.5"/><circle cx="240.5" cy="182.8" r="1.5"/><circle cx="240.9" cy="176.9" r="1.5"/><circle cx="241.2" cy="176.4" r="1.5"/><circle cx="241.5" cy="185.0" r="1.5"/><circle cx="241.8" cy="185.2" r="1.5"/><circle cx="242.1" cy="180.3" r="1.5"/><circle cx="242.6" cy="175.8" r="1.5"/><circle cx="242.9" cy="181.9" r="1.5"/><circle cx="243.2" cy="186.6" r="1.5"/><circle cx="243.6" cy="178.3" r="1.5"/><circle cx="243.7" cy="181.3" r="1.5"/><circle cx="244.1" cy="182.1" r="1.5"/><circle cx="244.4" cy="183.7" r="1.5"/><circle cx="244.8" cy="176.4" r="1.5"/><circle cx="245.0" cy="186.5" r="1.5"/><circle cx="245.6" cy="185.8" r="1.5"/><circle cx="245.8" cy="187.0" r="1.5"/><circle cx="246.1" cy="184.1" r="1.5"/><circle cx="246.6" cy="178.2" r="1.5"/><circle cx="246.7" cy="177.2" r="1.5"/><circle cx="247.0" cy="185.0" r="1.5"/><circle cx="247.5" cy="181.2" r="1.5"/><circle cx="247.7" cy="183.1" r="1.5"/><circle cx="248.0" cy="177.3" r="1.5"/><circle cx="248.5" cy="183.1" r="1.5"/><circle cx="248.9" cy="185.2" r="1.5"/><circle cx="249.0" cy="179.3" r="1.5"/><circle cx="249.4" cy="181.4" r="1.5"/><circle cx="249.7" cy="185.7" r="1.5"/><circle cx="250.1" cy="185.0" r="1.5"/><circle cx="250.3" cy="186.2" r="1.5"/><circle cx="250.6" cy="185.3" r="1.5"/><circle cx="250.8" cy="178.3" r="1.5"/><circle cx="250.9" cy="176.4" r="1.5"/><circle cx="251.2" cy="181.2" r="1.5"/><circle cx="251.5" cy="179.1" r="1.5"/><circle cx="251.5" cy="185.7" r="1.5"/><circle cx="251.9" cy="184.4" r="1.5"/><circle cx="252.1" cy="186.3" r="1.5"/><circle cx="252.1" cy="182.8" r="1.5"/><circle cx="252.3" cy="183.5" r="1.5"/><circle cx="252.7" cy="181.6" r="1.5"/><circle cx="252.7" cy="182.3" r="1.5"/><circle cx="252.9" cy="181.1" r="1.5"/><circle cx="253.1" cy="180.6" r="1.5"/><circle cx="253.5" cy="184.2" r="1.5"/><circle cx="253.7" cy="181.0" r="1.5"/><circle cx="253.8" cy="176.4" r="1.5"/><circle cx="254.1" cy="182.3" r="1.5"/><circle cx="254.3" cy="177.5" r="1.5"/><circle cx="254.5" cy="176.5" r="1.5"/><circle cx="254.6" cy="176.7" r="1.5"/><circle cx="254.9" cy="177.4" r="1.5"/><circle cx="255.2" cy="182.8" r="1.5"/><circle cx="255.4" cy="182.1" r="1.5"/><circle cx="255.4" cy="179.0" r="1.5"/><circle cx="255.8" cy="182.5" r="1.5"/><circle cx="256.0" cy="183.0" r="1.5"/><circle cx="256.1" cy="178.1" r="1.5"/><circle cx="256.3" cy="185.4" r="1.5"/><circle cx="256.7" cy="182.5" r="1.5"/><circle cx="256.7" cy="176.3" r="1.5"/><circle cx="257.0" cy="180.5" r="1.5"/><circle cx="257.3" cy="178.2" r="1.5"/><circle cx="257.3" cy="176.0" r="1.5"/><circle cx="257.5" cy="185.0" r="1.5"/><circle cx="257.9" cy="177.6" r="1.5"/><circle cx="257.9" cy="182.4" r="1.5"/><circle cx="258.2" cy="182.8" r="1.5"/><circle cx="258.5" cy="184.3" r="1.5"/><circle cx="258.6" cy="182.7" r="1.5"/><circle cx="258.8" cy="184.5" r="1.5"/><circle cx="259.0" cy="185.7" r="1.5"/><circle cx="259.3" cy="186.0" r="1.5"/><circle cx="259.4" cy="186.7" r="1.5"/><circle cx="259.7" cy="178.7" r="1.5"/><circle cx="259.9" cy="179.3" r="1.5"/><circle cx="260.0" cy="176.3" r="1.5"/><circle cx="260.3" cy="178.6" r="1.5"/><circle cx="260.4" cy="184.7" r="1.5"/><circle cx="260.7" cy="184.4" r="1.5"/><circle cx="260.9" cy="179.9" r="1.5"/><circle cx="261.2" cy="185.2" r="1.5"/><circle cx="261.4" cy="187.0" r="1.5"/><circle cx="261.6" cy="186.5" r="1.5"/><circle cx="261.8" cy="182.4" r="1.5"/><circle cx="261.9" cy="180.1" r="1.5"/><circle cx="262.2" cy="178.6" r="1.5"/><circle cx="262.4" cy="185.6" r="1.5"/><circle cx="262.7" cy="178.4" r="1.5"/><circle cx="262.7" cy="180.0" r="1.5"/><circle cx="263.0" cy="185.5" r="1.5"/><circle cx="263.2" cy="181.7" r="1.5"/><circle cx="263.5" cy="182.1" r="1.5"/><circle cx="263.7" cy="182.2" r="1.5"/><circle cx="263.9" cy="178.5" r="1.5"/><circle cx="264.0" cy="180.8" r="1.5"/><circle cx="264.4" cy="186.6" r="1.5"/><circle cx="264.4" cy="182.4" r="1.5"/><circle cx="264.7" cy="181.0" r="1.5"/><circle cx="264.8" cy="184.8" r="1.5"/><circle cx="265.0" cy="178.4" r="1.5"/><circle cx="265.3" cy="178.1" r="1.5"/><circle cx="265.5" cy="176.7" r="1.5"/><circle cx="265.7" cy="177.8" r="1.5"/><circle cx="266.0" cy="182.6" r="1.5"/><circle cx="266.2" cy="181.3" r="1.5"/><circle cx="266.4" cy="179.2" r="1.5"/><circle cx="266.6" cy="183.6" r="1.5"/><circle cx="266.7" cy="184.2" r="1.5"/><circle cx="267.0" cy="186.9" r="1.5"/><circle cx="267.2" cy="182.1" r="1.5"/><circle cx="267.5" cy="179.1" r="1.5"/><circle cx="267.6" cy="180.7" r="1.5"/><circle cx="267.9" cy="184.0" r="1.5"/><circle cx="268.0" cy="186.7" r="1.5"/><circle cx="268.3" cy="181.4" r="1.5"/><circle cx="268.5" cy="182.9" r="1.5"/><circle cx="268.6" cy="176.8" r="1.5"/><circle cx="268.8" cy="182.5" r="1.5"/><circle cx="269.1" cy="182.8" r="1.5"/><circle cx="269.3" cy="180.8" r="1.5"/><circle cx="269.5" cy="182.7" r="1.5"/><circle cx="269.7" cy="182.1" r="1.5"/><circle cx="269.9" cy="182.2" r="1.5"/><circle cx="270.0" cy="183.5" r="1.5"/><circle cx="270.4" cy="180.7" r="1.5"/><circle cx="270.6" cy="181.3" r="1.5"/><circle cx="270.7" cy="181.6" r="1.5"/><circle cx="270.9" cy="177.7" r="1.5"/><circle cx="271.2" cy="177.8" r="1.5"/><circle cx="271.4" cy="177.7" r="1.5"/><circle cx="271.6" cy="187.2" r="1.5"/><circle cx="271.7" cy="185.6" r="1.5"/><circle cx="271.9" cy="186.9" r="1.5"/><circle cx="272.3" cy="180.9" r="1.5"/><circle cx="272.4" cy="181.0" r="1.5"/><circle cx="272.5" cy="179.9" r="1.5"/><circle cx="272.8" cy="185.7" r="1.5"/><circle cx="272.9" cy="181.9" r="1.5"/><circle cx="273.2" cy="182.1" r="1.5"/><circle cx="273.5" cy="182.6" r="1.5"/><circle cx="273.6" cy="186.7" r="1.5"/><circle cx="273.9" cy="178.9" r="1.5"/><circle cx="274.1" cy="185.7" r="1.5"/><circle cx="274.2" cy="183.2" r="1.5"/><circle cx="274.5" cy="179.1" r="1.5"/><circle cx="274.6" cy="178.4" r="1.5"/><circle cx="274.9" cy="180.6" r="1.5"/><circle cx="275.1" cy="178.9" r="1.5"/><circle cx="275.2" cy="181.2" r="1.5"/><circle cx="275.4" cy="185.0" r="1.5"/><circle cx="275.5" cy="186.9" r="1.5"/><circle cx="275.7" cy="179.6" r="1.5"/><circle cx="275.8" cy="183.9" r="1.5"/><circle cx="275.9" cy="183.6" r="1.5"/><circle cx="276.1" cy="185.6" r="1.5"/><circle cx="276.2" cy="185.7" r="1.5"/><circle cx="276.4" cy="180.4" r="1.5"/><circle cx="276.5" cy="181.8" r="1.5"/><circle cx="276.7" cy="182.2" r="1.5"/><circle cx="276.9" cy="184.3" r="1.5"/><circle cx="276.9" cy="187.1" r="1.5"/><circle cx="277.0" cy="176.4" r="1.5"/><circle cx="277.3" cy="178.9" r="1.5"/><circle cx="277.3" cy="177.8" r="1.5"/><circle cx="277.5" cy="185.4" r="1.5"/><circle cx="277.6" cy="177.7" r="1.5"/><circle cx="277.8" cy="176.4" r="1.5"/><circle cx="278.0" cy="181.4" r="1.5"/><circle cx="278.2" cy="183.2" r="1.5"/><circle cx="278.3" cy="182.5" r="1.5"/><circle cx="278.5" cy="183.5" r="1.5"/><circle cx="278.5" cy="180.0" r="1.5"/><circle cx="278.7" cy="177.1" r="1.5"/><circle cx="278.9" cy="181.3" r="1.5"/><circle cx="279.0" cy="181.4" r="1.5"/><circle cx="279.2" cy="178.9" r="1.5"/><circle cx="279.3" cy="176.8" r="1.5"/><circle cx="279.4" cy="177.9" r="1.5"/><circle cx="279.6" cy="183.6" r="1.5"/><circle cx="279.7" cy="183.7" r="1.5"/><circle cx="279.9" cy="184.4" r="1.5"/><circle cx="280.1" cy="179.6" r="1.5"/><circle cx="280.2" cy="181.0" r="1.5"/><circle cx="280.3" cy="177.8" r="1.5"/><circle cx="280.4" cy="183.2" r="1.5"/><circle cx="280.5" cy="176.2" r="1.5"/><circle cx="280.7" cy="182.0" r="1.5"/><circle cx="280.8" cy="178.8" r="1.5"/><circle cx="281.1" cy="180.9" r="1.5"/><circle cx="281.1" cy="183.5" r="1.5"/><circle cx="281.4" cy="182.9" r="1.5"/><circle cx="281.5" cy="181.9" r="1.5"/><circle cx="281.6" cy="185.4" r="1.5"/><circle cx="281.8" cy="178.6" r="1.5"/><circle cx="281.9" cy="177.0" r="1.5"/><circle cx="282.0" cy="181.6" r="1.5"/><circle cx="282.2" cy="182.2" r="1.5"/><circle cx="282.3" cy="186.6" r="1.5"/><circle cx="282.5" cy="185.1" r="1.5"/><circle cx="282.7" cy="181.0" r="1.5"/><circle cx="282.8" cy="181.4" r="1.5"/><circle cx="282.9" cy="177.2" r="1.5"/><circle cx="283.1" cy="186.3" r="1.5"/><circle cx="283.2" cy="179.4" r="1.5"/><circle cx="283.4" cy="179.9" r="1.5"/><circle cx="283.5" cy="184.6" r="1.5"/><circle cx="283.6" cy="181.3" r="1.5"/><circle cx="283.8" cy="177.5" r="1.5"/><circle cx="284.0" cy="178.7" r="1.5"/><circle cx="284.1" cy="178.6" r="1.5"/><circle cx="284.3" cy="180.7" r="1.5"/><circle cx="284.4" cy="180.6" r="1.5"/><circle cx="284.6" cy="182.1" r="1.5"/><circle cx="284.6" cy="181.4" r="1.5"/><circle cx="284.8" cy="179.2" r="1.5"/><circle cx="285.0" cy="181.3" r="1.5"/><circle cx="285.1" cy="177.6" r="1.5"/><circle cx="285.3" cy="177.1" r="1.5"/><circle cx="285.4" cy="177.3" r="1.5"/><circle cx="285.5" cy="186.1" r="1.5"/><circle cx="285.8" cy="180.0" r="1.5"/><circle cx="285.8" cy="184.2" r="1.5"/><circle cx="286.0" cy="176.3" r="1.5"/><circle cx="286.2" cy="176.6" r="1.5"/><circle cx="286.2" cy="184.7" r="1.5"/><circle cx="286.5" cy="178.5" r="1.5"/><circle cx="286.6" cy="184.9" r="1.5"/><circle cx="286.7" cy="181.8" r="1.5"/><circle cx="286.8" cy="176.6" r="1.5"/><circle cx="287.0" cy="181.8" r="1.5"/><circle cx="287.2" cy="181.0" r="1.5"/><circle cx="287.3" cy="182.2" r="1.5"/><circle cx="287.5" cy="180.5" r="1.5"/><circle cx="287.6" cy="181.9" r="1.5"/><circle cx="287.8" cy="187.0" r="1.5"/><circle cx="287.9" cy="184.6" r="1.5"/><circle cx="288.0" cy="182.1" r="1.5"/><circle cx="288.1" cy="177.0" r="1.5"/><circle cx="288.3" cy="178.6" r="1.5"/><circle cx="288.5" cy="182.1" r="1.5"/><circle cx="288.6" cy="180.7" r="1.5"/><circle cx="288.7" cy="179.3" r="1.5"/><circle cx="288.9" cy="185.9" r="1.5"/><circle cx="289.0" cy="179.4" r="1.5"/><circle cx="289.2" cy="180.7" r="1.5"/><circle cx="289.3" cy="184.4" r="1.5"/><circle cx="289.5" cy="185.0" r="1.5"/><circle cx="289.7" cy="186.9" r="1.5"/><circle cx="289.8" cy="180.9" r="1.5"/><circle cx="289.9" cy="179.4" r="1.5"/><circle cx="290.1" cy="180.6" r="1.5"/><circle cx="290.2" cy="181.7" r="1.5"/><circle cx="290.3" cy="175.9" r="1.5"/><circle cx="290.5" cy="181.2" r="1.5"/><circle cx="290.7" cy="177.4" r="1.5"/><circle cx="290.8" cy="186.9" r="1.5"/><circle cx="291.0" cy="179.0" r="1.5"/><circle cx="291.0" cy="185.8" r="1.5"/><circle cx="291.2" cy="179.2" r="1.5"/><circle cx="291.4" cy="183.5" r="1.5"/><circle cx="291.6" cy="185.3" r="1.5"/><circle cx="291.6" cy="181.6" r="1.5"/><circle cx="291.7" cy="180.1" r="1.5"/><circle cx="291.9" cy="185.1" r="1.5"/><circle cx="292.1" cy="183.4" r="1.5"/><circle cx="292.2" cy="178.7" r="1.5"/><circle cx="292.3" cy="182.4" r="1.5"/><circle cx="292.5" cy="183.9" r="1.5"/><circle cx="292.7" cy="186.5" r="1.5"/><circle cx="292.9" cy="182.3" r="1.5"/><circle cx="293.0" cy="177.8" r="1.5"/><circle cx="293.1" cy="182.1" r="1.5"/><circle cx="293.3" cy="186.7" r="1.5"/><circle cx="293.4" cy="176.3" r="1.5"/><circle cx="293.6" cy="181.1" r="1.5"/><circle cx="293.6" cy="184.5" r="1.5"/><circle cx="293.9" cy="185.5" r="1.5"/><circle cx="294.0" cy="178.7" r="1.5"/><circle cx="294.1" cy="181.1" r="1.5"/><circle cx="294.3" cy="182.4" r="1.5"/><circle cx="294.4" cy="178.7" r="1.5"/><circle cx="294.5" cy="176.1" r="1.5"/><circle cx="294.7" cy="184.2" r="1.5"/><circle cx="294.8" cy="186.1" r="1.5"/><circle cx="295.0" cy="183.3" r="1.5"/><circle cx="295.1" cy="186.0" r="1.5"/><circle cx="295.3" cy="185.4" r="1.5"/><circle cx="295.4" cy="186.7" r="1.5"/><circle cx="295.6" cy="177.8" r="1.5"/><circle cx="295.8" cy="177.6" r="1.5"/><circle cx="295.9" cy="180.1" r="1.5"/><circle cx="296.0" cy="179.9" r="1.5"/><circle cx="296.1" cy="180.4" r="1.5"/><circle cx="296.2" cy="184.9" r="1.5"/><circle cx="296.4" cy="183.9" r="1.5"/><circle cx="296.6" cy="186.9" r="1.5"/><circle cx="296.8" cy="183.8" r="1.5"/><circle cx="296.9" cy="186.2" r="1.5"/><circle cx="297.1" cy="180.5" r="1.5"/><circle cx="297.2" cy="176.6" r="1.5"/><circle cx="297.3" cy="179.5" r="1.5"/><circle cx="297.5" cy="175.9" r="1.5"/><circle cx="297.7" cy="176.6" r="1.5"/><circle cx="297.8" cy="181.3" r="1.5"/><circle cx="298.0" cy="183.0" r="1.5"/><circle cx="298.0" cy="183.4" r="1.5"/><circle cx="298.2" cy="182.8" r="1.5"/><circle cx="298.3" cy="186.7" r="1.5"/><circle cx="298.5" cy="178.9" r="1.5"/><circle cx="298.6" cy="186.7" r="1.5"/><circle cx="298.8" cy="178.6" r="1.5"/><circle cx="298.9" cy="183.4" r="1.5"/><circle cx="299.2" cy="176.7" r="1.5"/><circle cx="299.3" cy="184.0" r="1.5"/><circle cx="299.5" cy="183.7" r="1.5"/><circle cx="299.8" cy="176.9" r="1.5"/><circle cx="299.9" cy="177.8" r="1.5"/><circle cx="300.1" cy="177.9" r="1.5"/><circle cx="300.3" cy="177.1" r="1.5"/><circle cx="300.5" cy="181.8" r="1.5"/><circle cx="300.9" cy="177.6" r="1.5"/><circle cx="300.9" cy="184.1" r="1.5"/><circle cx="301.1" cy="177.4" r="1.5"/><circle cx="301.4" cy="179.2" r="1.5"/><circle cx="301.7" cy="181.6" r="1.5"/><circle cx="301.9" cy="180.1" r="1.5"/><circle cx="302.0" cy="185.2" r="1.5"/><circle cx="302.3" cy="185.2" r="1.5"/><circle cx="302.4" cy="180.7" r="1.5"/><circle cx="302.7" cy="177.6" r="1.5"/><circle cx="302.8" cy="186.5" r="1.5"/><circle cx="303.2" cy="187.2" r="1.5"/><circle cx="303.4" cy="184.2" r="1.5"/><circle cx="303.6" cy="181.2" r="1.5"/><circle cx="303.7" cy="183.1" r="1.5"/><circle cx="304.0" cy="183.5" r="1.5"/><circle cx="304.1" cy="179.2" r="1.5"/><circle cx="304.3" cy="184.5" r="1.5"/><circle cx="304.6" cy="179.1" r="1.5"/><circle cx="304.9" cy="181.7" r="1.5"/><circle cx="305.0" cy="180.3" r="1.5"/><circle cx="305.2" cy="176.5" r="1.5"/><circle cx="305.4" cy="186.8" r="1.5"/><circle cx="305.8" cy="182.0" r="1.5"/><circle cx="306.0" cy="181.9" r="1.5"/><circle cx="306.2" cy="177.0" r="1.5"/><circle cx="306.3" cy="182.8" r="1.5"/><circle cx="306.5" cy="183.2" r="1.5"/><circle cx="306.7" cy="183.3" r="1.5"/><circle cx="306.9" cy="181.4" r="1.5"/><circle cx="307.2" cy="181.8" r="1.5"/><circle cx="307.3" cy="178.6" r="1.5"/><circle cx="307.7" cy="177.7" r="1.5"/><circle cx="307.8" cy="187.1" r="1.5"/><circle cx="308.1" cy="184.2" r="1.5"/><circle cx="308.3" cy="186.8" r="1.5"/><circle cx="308.4" cy="180.3" r="1.5"/><circle cx="308.7" cy="176.1" r="1.5"/><circle cx="308.9" cy="178.9" r="1.5"/><circle cx="309.1" cy="184.2" r="1.5"/><circle cx="309.4" cy="181.6" r="1.5"/><circle cx="309.6" cy="176.7" r="1.5"/><circle cx="309.8" cy="186.4" r="1.5"/><circle cx="310.0" cy="181.4" r="1.5"/><circle cx="310.2" cy="180.5" r="1.5"/><circle cx="310.3" cy="178.0" r="1.5"/><circle cx="310.6" cy="181.7" r="1.5"/><circle cx="310.7" cy="182.8" r="1.5"/><circle cx="311.1" cy="183.2" r="1.5"/><circle cx="311.2" cy="186.7" r="1.5"/><circle cx="311.4" cy="181.6" r="1.5"/><circle cx="311.6" cy="177.7" r="1.5"/><circle cx="311.8" cy="177.9" r="1.5"/><circle cx="312.0" cy="176.3" r="1.5"/><circle cx="312.3" cy="183.4" r="1.5"/><circle cx="312.4" cy="186.6" r="1.5"/><circle cx="312.7" cy="181.0" r="1.5"/><circle cx="313.0" cy="183.2" r="1.5"/><circle cx="313.1" cy="184.3" r="1.5"/><circle cx="313.4" cy="179.3" r="1.5"/><circle cx="313.5" cy="184.1" r="1.5"/><circle cx="313.8" cy="182.6" r="1.5"/><circle cx="313.9" cy="184.3" r="1.5"/><circle cx="314.1" cy="184.9" r="1.5"/><circle cx="314.4" cy="183.1" r="1.5"/><circle cx="314.5" cy="180.0" r="1.5"/><circle cx="314.9" cy="177.1" r="1.5"/><circle cx="314.9" cy="180.5" r="1.5"/><circle cx="315.3" cy="183.0" r="1.5"/><circle cx="315.4" cy="176.7" r="1.5"/><circle cx="315.8" cy="185.4" r="1.5"/><circle cx="315.9" cy="178.2" r="1.5"/><circle cx="316.2" cy="175.9" r="1.5"/><circle cx="316.2" cy="179.4" r="1.5"/><circle cx="316.6" cy="176.2" r="1.5"/><circle cx="316.7" cy="184.2" r="1.5"/><circle cx="317.0" cy="178.9" r="1.5"/><circle cx="317.1" cy="185.5" r="1.5"/><circle cx="317.5" cy="186.2" r="1.5"/><circle cx="317.6" cy="176.8" r="1.5"/><circle cx="317.9" cy="183.2" r="1.5"/><circle cx="318.1" cy="184.5" r="1.5"/><circle cx="318.2" cy="186.9" r="1.5"/><circle cx="318.4" cy="180.9" r="1.5"/><circle cx="318.7" cy="184.8" r="1.5"/><circle cx="318.9" cy="186.5" r="1.5"/><circle cx="319.0" cy="186.0" r="1.5"/><circle cx="319.4" cy="179.7" r="1.5"/><circle cx="319.4" cy="182.7" r="1.5"/><circle cx="319.7" cy="186.7" r="1.5"/><circle cx="319.9" cy="184.1" r="1.5"/><circle cx="320.2" cy="177.7" r="1.5"/><circle cx="320.4" cy="180.8" r="1.5"/><circle cx="320.5" cy="178.9" r="1.5"/><circle cx="320.8" cy="184.2" r="1.5"/><circle cx="321.0" cy="179.5" r="1.5"/><circle cx="321.1" cy="184.8" r="1.5"/><circle cx="321.5" cy="185.3" r="1.5"/><circle cx="321.7" cy="176.5" r="1.5"/><circle cx="321.8" cy="181.1" r="1.5"/><circle cx="322.0" cy="185.2" r="1.5"/><circle cx="322.2" cy="176.0" r="1.5"/><circle cx="322.5" cy="176.4" r="1.5"/><circle cx="322.6" cy="182.7" r="1.5"/><circle cx="322.9" cy="182.0" r="1.5"/><circle cx="323.0" cy="182.2" r="1.5"/><circle cx="323.3" cy="179.3" r="1.5"/><circle cx="323.5" cy="177.6" r="1.5"/><circle cx="323.8" cy="180.0" r="1.5"/><circle cx="324.0" cy="183.5" r="1.5"/><circle cx="324.1" cy="182.7" r="1.5"/><circle cx="324.3" cy="184.3" r="1.5"/><circle cx="324.5" cy="182.6" r="1.5"/><circle cx="324.9" cy="184.9" r="1.5"/><circle cx="325.0" cy="186.2" r="1.5"/><circle cx="325.3" cy="184.8" r="1.5"/><circle cx="325.4" cy="178.8" r="1.5"/><circle cx="325.7" cy="177.3" r="1.5"/><circle cx="325.8" cy="176.9" r="1.5"/><circle cx="326.1" cy="180.2" r="1.5"/><circle cx="326.4" cy="185.0" r="1.5"/><circle cx="326.5" cy="179.7" r="1.5"/><circle cx="326.7" cy="176.4" r="1.5"/><circle cx="326.9" cy="185.7" r="1.5"/><circle cx="327.1" cy="175.9" r="1.5"/><circle cx="327.5" cy="180.1" r="1.5"/><circle cx="327.6" cy="181.0" r="1.5"/><circle cx="327.9" cy="176.7" r="1.5"/><circle cx="328.0" cy="183.2" r="1.5"/><circle cx="328.1" cy="186.3" r="1.5"/><circle cx="328.4" cy="183.5" r="1.5"/><circle cx="328.6" cy="176.7" r="1.5"/><circle cx="328.8" cy="184.8" r="1.5"/><circle cx="329.2" cy="186.2" r="1.5"/><circle cx="329.3" cy="176.8" r="1.5"/><circle cx="329.6" cy="181.6" r="1.5"/><circle cx="329.8" cy="183.0" r="1.5"/><circle cx="329.9" cy="177.7" r="1.5"/><circle cx="330.1" cy="176.7" r="1.5"/><circle cx="330.3" cy="179.1" r="1.5"/><circle cx="330.7" cy="176.4" r="1.5"/><circle cx="330.8" cy="177.2" r="1.5"/><circle cx="330.9" cy="186.3" r="1.5"/><circle cx="331.1" cy="182.6" r="1.5"/><circle cx="331.4" cy="180.4" r="1.5"/><circle cx="331.6" cy="177.4" r="1.5"/><circle cx="331.9" cy="180.0" r="1.5"/><circle cx="332.1" cy="185.1" r="1.5"/><circle cx="332.2" cy="180.6" r="1.5"/><circle cx="332.4" cy="186.4" r="1.5"/><circle cx="332.7" cy="178.0" r="1.5"/><circle cx="332.9" cy="176.0" r="1.5"/><circle cx="333.0" cy="176.6" r="1.5"/><circle cx="333.1" cy="181.6" r="1.5"/><circle cx="333.1" cy="178.2" r="1.5"/><circle cx="333.2" cy="179.4" r="1.5"/><circle cx="333.2" cy="176.4" r="1.5"/><circle cx="333.3" cy="180.9" r="1.5"/><circle cx="333.3" cy="179.1" r="1.5"/><circle cx="333.4" cy="176.9" r="1.5"/><circle cx="333.4" cy="178.3" r="1.5"/><circle cx="333.4" cy="176.6" r="1.5"/><circle cx="333.5" cy="186.8" r="1.5"/><circle cx="333.5" cy="177.8" r="1.5"/><circle cx="333.6" cy="183.1" r="1.5"/><circle cx="333.6" cy="178.3" r="1.5"/><circle cx="333.7" cy="178.5" r="1.5"/><circle cx="333.7" cy="183.7" r="1.5"/><circle cx="333.8" cy="185.0" r="1.5"/><circle cx="333.8" cy="178.2" r="1.5"/><circle cx="333.9" cy="182.6" r="1.5"/><circle cx="333.9" cy="182.9" r="1.5"/><circle cx="334.0" cy="178.5" r="1.5"/><circle cx="334.0" cy="176.8" r="1.5"/><circle cx="334.0" cy="182.4" r="1.5"/><circle cx="334.1" cy="185.8" r="1.5"/><circle cx="334.2" cy="177.5" r="1.5"/><circle cx="334.2" cy="182.9" r="1.5"/><circle cx="334.2" cy="180.2" r="1.5"/><circle cx="334.3" cy="179.3" r="1.5"/><circle cx="334.3" cy="178.6" r="1.5"/><circle cx="334.4" cy="180.9" r="1.5"/><circle cx="334.4" cy="178.4" r="1.5"/><circle cx="334.5" cy="185.9" r="1.5"/><circle cx="334.5" cy="184.9" r="1.5"/><circle cx="334.6" cy="184.4" r="1.5"/><circle cx="334.6" cy="179.8" r="1.5"/><circle cx="334.7" cy="179.8" r="1.5"/><circle cx="334.7" cy="180.6" r="1.5"/><circle cx="334.7" cy="184.0" r="1.5"/><circle cx="334.8" cy="181.5" r="1.5"/><circle cx="334.9" cy="182.6" r="1.5"/><circle cx="334.9" cy="184.1" r="1.5"/><circle cx="335.0" cy="184.2" r="1.5"/><circle cx="335.0" cy="186.3" r="1.5"/><circle cx="335.1" cy="183.3" r="1.5"/><circle cx="335.1" cy="181.9" r="1.5"/><circle cx="335.2" cy="179.2" r="1.5"/><circle cx="335.2" cy="181.5" r="1.5"/><circle cx="335.2" cy="183.9" r="1.5"/><circle cx="335.3" cy="175.8" r="1.5"/><circle cx="335.3" cy="182.9" r="1.5"/><circle cx="335.4" cy="183.6" r="1.5"/><circle cx="335.4" cy="177.1" r="1.5"/><circle cx="335.5" cy="186.9" r="1.5"/><circle cx="335.5" cy="182.8" r="1.5"/><circle cx="335.6" cy="182.8" r="1.5"/><circle cx="335.6" cy="181.6" r="1.5"/><circle cx="335.7" cy="185.7" r="1.5"/><circle cx="335.7" cy="185.1" r="1.5"/><circle cx="335.8" cy="185.0" r="1.5"/><circle cx="335.8" cy="176.6" r="1.5"/><circle cx="335.8" cy="178.4" r="1.5"/><circle cx="335.9" cy="186.3" r="1.5"/><circle cx="335.9" cy="181.3" r="1.5"/><circle cx="336.0" cy="184.0" r="1.5"/><circle cx="336.0" cy="186.0" r="1.5"/><circle cx="336.1" cy="176.8" r="1.5"/><circle cx="336.2" cy="179.1" r="1.5"/><circle cx="336.2" cy="184.4" r="1.5"/><circle cx="336.2" cy="179.3" r="1.5"/><circle cx="336.3" cy="184.8" r="1.5"/><circle cx="336.3" cy="176.9" r="1.5"/><circle cx="336.4" cy="184.2" r="1.5"/><circle cx="336.4" cy="184.1" r="1.5"/><circle cx="336.4" cy="176.9" r="1.5"/><circle cx="336.5" cy="178.8" r="1.5"/><circle cx="336.6" cy="179.5" r="1.5"/><circle cx="336.6" cy="176.8" r="1.5"/><circle cx="336.7" cy="185.1" r="1.5"/><circle cx="336.7" cy="181.7" r="1.5"/><circle cx="336.8" cy="179.9" r="1.5"/><circle cx="336.8" cy="185.0" r="1.5"/><circle cx="336.8" cy="185.8" r="1.5"/><circle cx="336.9" cy="184.2" r="1.5"/><circle cx="336.9" cy="181.4" r="1.5"/><circle cx="337.0" cy="176.5" r="1.5"/><circle cx="337.0" cy="183.1" r="1.5"/><circle cx="337.1" cy="177.5" r="1.5"/><circle cx="337.1" cy="181.0" r="1.5"/><circle cx="337.2" cy="182.2" r="1.5"/><circle cx="337.2" cy="176.4" r="1.5"/><circle cx="337.2" cy="182.5" r="1.5"/><circle cx="337.3" cy="176.8" r="1.5"/><circle cx="337.3" cy="179.4" r="1.5"/><circle cx="337.4" cy="179.6" r="1.5"/><circle cx="337.4" cy="176.6" r="1.5"/><circle cx="337.5" cy="186.7" r="1.5"/><circle cx="337.5" cy="186.3" r="1.5"/><circle cx="337.6" cy="182.8" r="1.5"/><circle cx="337.6" cy="185.5" r="1.5"/><circle cx="337.7" cy="182.8" r="1.5"/><circle cx="337.7" cy="186.7" r="1.5"/><circle cx="337.8" cy="180.8" r="1.5"/><circle cx="337.8" cy="182.2" r="1.5"/><circle cx="337.9" cy="183.8" r="1.5"/><circle cx="337.9" cy="175.9" r="1.5"/><circle cx="338.0" cy="177.2" r="1.5"/><circle cx="338.0" cy="181.7" r="1.5"/><circle cx="338.0" cy="184.6" r="1.5"/><circle cx="338.1" cy="177.1" r="1.5"/><circle cx="338.2" cy="177.3" r="1.5"/><circle cx="338.2" cy="176.9" r="1.5"/><circle cx="338.2" cy="180.9" r="1.5"/><circle cx="338.3" cy="183.3" r="1.5"/><circle cx="338.4" cy="179.6" r="1.5"/><circle cx="338.4" cy="178.2" r="1.5"/><circle cx="338.4" cy="180.0" r="1.5"/><circle cx="338.5" cy="178.0" r="1.5"/><circle cx="338.5" cy="185.3" r="1.5"/><circle cx="338.6" cy="185.1" r="1.5"/><circle cx="338.6" cy="182.4" r="1.5"/><circle cx="338.7" cy="180.5" r="1.5"/><circle cx="338.7" cy="176.8" r="1.5"/><circle cx="338.8" cy="178.7" r="1.5"/><circle cx="338.8" cy="179.7" r="1.5"/><circle cx="338.8" cy="182.4" r="1.5"/><circle cx="338.9" cy="178.5" r="1.5"/><circle cx="338.9" cy="177.9" r="1.5"/><circle cx="339.0" cy="183.6" r="1.5"/><circle cx="339.1" cy="177.3" r="1.5"/><circle cx="339.1" cy="179.4" r="1.5"/><circle cx="339.1" cy="185.3" r="1.5"/><circle cx="339.2" cy="185.6" r="1.5"/><circle cx="339.2" cy="176.1" r="1.5"/><circle cx="339.3" cy="180.7" r="1.5"/><circle cx="339.3" cy="179.8" r="1.5"/><circle cx="339.4" cy="185.8" r="1.5"/><circle cx="339.4" cy="179.4" r="1.5"/><circle cx="339.5" cy="185.5" r="1.5"/><circle cx="339.5" cy="180.8" r="1.5"/><circle cx="339.6" cy="178.6" r="1.5"/><circle cx="339.6" cy="183.9" r="1.5"/><circle cx="339.7" cy="179.8" r="1.5"/><circle cx="339.7" cy="186.8" r="1.5"/><circle cx="339.8" cy="178.4" r="1.5"/><circle cx="339.8" cy="182.0" r="1.5"/><circle cx="339.8" cy="185.6" r="1.5"/><circle cx="339.9" cy="185.1" r="1.5"/><circle cx="339.9" cy="187.0" r="1.5"/><circle cx="340.0" cy="176.2" r="1.5"/><circle cx="340.0" cy="186.7" r="1.5"/><circle cx="340.1" cy="184.2" r="1.5"/><circle cx="340.1" cy="176.1" r="1.5"/><circle cx="340.2" cy="179.2" r="1.5"/><circle cx="340.2" cy="182.0" r="1.5"/><circle cx="340.3" cy="181.8" r="1.5"/><circle cx="340.3" cy="185.3" r="1.5"/><circle cx="340.4" cy="185.5" r="1.5"/><circle cx="340.4" cy="179.8" r="1.5"/><circle cx="340.5" cy="176.3" r="1.5"/><circle cx="340.5" cy="175.8" r="1.5"/><circle cx="340.6" cy="185.1" r="1.5"/><circle cx="340.6" cy="176.5" r="1.5"/><circle cx="340.6" cy="184.6" r="1.5"/><circle cx="340.7" cy="176.9" r="1.5"/><circle cx="340.7" cy="182.4" r="1.5"/><circle cx="340.8" cy="180.1" r="1.5"/><circle cx="340.8" cy="184.3" r="1.5"/><circle cx="340.9" cy="187.1" r="1.5"/><circle cx="340.9" cy="184.4" r="1.5"/><circle cx="341.0" cy="186.2" r="1.5"/></g><line x1="250.0" y1="181.65" x2="299.2" y2="181.65" stroke="#2b2b2b" stroke-width="1.05"/><line x1="332.8" y1="181.65" x2="341.4" y2="181.65" stroke="#2b2b2b" stroke-width="1.05"/><path d="M299.2,172.7 L320.3,172.7 L321.5,174.9 L322.7,172.7 L332.8,172.7 L332.8,190.3 L322.7,190.3 L321.5,188.1 L320.3,190.3 L299.2,190.3 Z" fill="#999999" fill-opacity="1" stroke="#3a3a3a" stroke-width="0.9" stroke-linejoin="round"/><line x1="321.5" y1="174.9" x2="321.5" y2="188.1" stroke="#2a2a2a" stroke-width="1.2"/><g fill="#d8262c" fill-opacity="0.55"><circle cx="116.5" cy="210.5" r="1.5"/><circle cx="118.6" cy="205.4" r="1.5"/><circle cx="186.9" cy="204.8" r="1.5"/><circle cx="194.2" cy="199.1" r="1.5"/><circle cx="224.2" cy="203.3" r="1.5"/><circle cx="221.0" cy="207.5" r="1.5"/><circle cx="235.3" cy="203.7" r="1.5"/><circle cx="240.0" cy="207.3" r="1.5"/><circle cx="279.3" cy="200.0" r="1.5"/><circle cx="284.3" cy="201.4" r="1.5"/><circle cx="281.5" cy="207.6" r="1.5"/><circle cx="287.7" cy="206.4" r="1.5"/><circle cx="287.4" cy="210.3" r="1.5"/><circle cx="294.0" cy="206.2" r="1.5"/><circle cx="296.0" cy="201.1" r="1.5"/><circle cx="298.3" cy="199.3" r="1.5"/><circle cx="297.5" cy="205.6" r="1.5"/><circle cx="298.7" cy="210.3" r="1.5"/><circle cx="302.4" cy="199.3" r="1.5"/><circle cx="301.0" cy="203.3" r="1.5"/><circle cx="303.0" cy="203.7" r="1.5"/><circle cx="301.8" cy="206.4" r="1.5"/><circle cx="302.6" cy="210.1" r="1.5"/><circle cx="306.4" cy="208.7" r="1.5"/><circle cx="309.1" cy="202.1" r="1.5"/><circle cx="308.8" cy="206.4" r="1.5"/><circle cx="309.9" cy="207.6" r="1.5"/><circle cx="311.1" cy="208.7" r="1.5"/><circle cx="311.9" cy="204.1" r="1.5"/><circle cx="313.0" cy="204.9" r="1.5"/><circle cx="314.6" cy="199.8" r="1.5"/><circle cx="314.2" cy="202.1" r="1.5"/><circle cx="313.8" cy="206.4" r="1.5"/><circle cx="317.3" cy="203.7" r="1.5"/><circle cx="318.2" cy="201.0" r="1.5"/><circle cx="318.7" cy="209.1" r="1.5"/><circle cx="318.8" cy="209.1" r="1.5"/><circle cx="319.5" cy="203.1" r="1.5"/><circle cx="319.8" cy="207.2" r="1.5"/><circle cx="320.1" cy="203.4" r="1.5"/><circle cx="320.4" cy="208.3" r="1.5"/><circle cx="321.0" cy="209.8" r="1.5"/><circle cx="321.1" cy="205.5" r="1.5"/><circle cx="321.7" cy="201.5" r="1.5"/><circle cx="321.8" cy="209.2" r="1.5"/><circle cx="322.5" cy="207.1" r="1.5"/><circle cx="322.7" cy="204.0" r="1.5"/><circle cx="323.2" cy="200.1" r="1.5"/><circle cx="323.6" cy="207.1" r="1.5"/><circle cx="323.9" cy="209.9" r="1.5"/><circle cx="324.3" cy="209.1" r="1.5"/><circle cx="324.5" cy="203.7" r="1.5"/><circle cx="325.0" cy="204.7" r="1.5"/><circle cx="325.5" cy="210.3" r="1.5"/><circle cx="325.9" cy="208.7" r="1.5"/><circle cx="326.4" cy="207.4" r="1.5"/><circle cx="326.6" cy="200.0" r="1.5"/><circle cx="326.9" cy="204.6" r="1.5"/><circle cx="327.2" cy="209.3" r="1.5"/><circle cx="327.6" cy="201.8" r="1.5"/><circle cx="327.9" cy="205.1" r="1.5"/><circle cx="328.4" cy="209.8" r="1.5"/><circle cx="328.9" cy="203.9" r="1.5"/><circle cx="329.1" cy="199.6" r="1.5"/><circle cx="329.7" cy="206.0" r="1.5"/><circle cx="330.0" cy="204.8" r="1.5"/><circle cx="330.3" cy="209.3" r="1.5"/><circle cx="330.6" cy="201.6" r="1.5"/><circle cx="331.2" cy="202.6" r="1.5"/><circle cx="331.4" cy="203.9" r="1.5"/><circle cx="331.8" cy="207.7" r="1.5"/><circle cx="332.1" cy="205.3" r="1.5"/><circle cx="332.7" cy="202.9" r="1.5"/><circle cx="333.1" cy="203.0" r="1.5"/><circle cx="333.4" cy="200.2" r="1.5"/><circle cx="333.7" cy="205.4" r="1.5"/><circle cx="334.2" cy="204.3" r="1.5"/><circle cx="334.4" cy="205.1" r="1.5"/><circle cx="335.0" cy="202.1" r="1.5"/><circle cx="335.2" cy="206.1" r="1.5"/><circle cx="335.6" cy="200.2" r="1.5"/><circle cx="335.9" cy="206.1" r="1.5"/><circle cx="336.6" cy="207.8" r="1.5"/><circle cx="336.8" cy="209.0" r="1.5"/><circle cx="337.2" cy="202.1" r="1.5"/><circle cx="337.4" cy="210.1" r="1.5"/><circle cx="337.8" cy="206.3" r="1.5"/><circle cx="338.0" cy="202.9" r="1.5"/><circle cx="338.1" cy="202.8" r="1.5"/><circle cx="338.5" cy="206.2" r="1.5"/><circle cx="338.8" cy="206.2" r="1.5"/><circle cx="339.2" cy="199.0" r="1.5"/><circle cx="339.3" cy="200.1" r="1.5"/><circle cx="339.6" cy="209.4" r="1.5"/><circle cx="339.9" cy="208.1" r="1.5"/><circle cx="340.1" cy="203.0" r="1.5"/><circle cx="340.6" cy="202.3" r="1.5"/><circle cx="340.8" cy="205.8" r="1.5"/><circle cx="341.1" cy="199.3" r="1.5"/><circle cx="341.3" cy="210.2" r="1.5"/><circle cx="341.5" cy="202.2" r="1.5"/><circle cx="342.0" cy="205.7" r="1.5"/></g><line x1="294.0" y1="204.85" x2="318.7" y2="204.85" stroke="#2b2b2b" stroke-width="1.05"/><line x1="336.6" y1="204.85" x2="341.0" y2="204.85" stroke="#2b2b2b" stroke-width="1.05"/><path d="M318.7,196.0 L329.0,196.0 L332.2,199.7 L333.3,196.0 L336.6,196.0 L336.6,213.4 L333.3,213.4 L332.2,209.7 L329.0,213.4 L318.7,213.4 Z" fill="#dc585e" fill-opacity="1" stroke="#3a3a3a" stroke-width="0.9" stroke-linejoin="round"/><g fill="#c8161c" fill-opacity="0.3"><circle cx="319.8" cy="207.2" r="1.5"/><circle cx="320.1" cy="203.4" r="1.5"/><circle cx="320.4" cy="208.3" r="1.5"/><circle cx="321.0" cy="209.8" r="1.5"/><circle cx="321.1" cy="205.5" r="1.5"/><circle cx="321.7" cy="201.5" r="1.5"/><circle cx="321.8" cy="209.2" r="1.5"/><circle cx="322.5" cy="207.1" r="1.5"/><circle cx="322.7" cy="204.0" r="1.5"/><circle cx="323.2" cy="200.1" r="1.5"/><circle cx="323.6" cy="207.1" r="1.5"/><circle cx="323.9" cy="209.9" r="1.5"/><circle cx="324.3" cy="209.1" r="1.5"/><circle cx="324.5" cy="203.7" r="1.5"/><circle cx="325.0" cy="204.7" r="1.5"/><circle cx="325.5" cy="210.3" r="1.5"/><circle cx="325.9" cy="208.7" r="1.5"/><circle cx="326.4" cy="207.4" r="1.5"/><circle cx="326.6" cy="200.0" r="1.5"/><circle cx="326.9" cy="204.6" r="1.5"/><circle cx="327.2" cy="209.3" r="1.5"/><circle cx="327.6" cy="201.8" r="1.5"/><circle cx="327.9" cy="205.1" r="1.5"/><circle cx="328.4" cy="209.8" r="1.5"/><circle cx="328.9" cy="203.9" r="1.5"/><circle cx="329.1" cy="199.6" r="1.5"/><circle cx="329.7" cy="206.0" r="1.5"/><circle cx="330.0" cy="204.8" r="1.5"/><circle cx="330.3" cy="209.3" r="1.5"/><circle cx="330.6" cy="201.6" r="1.5"/><circle cx="331.2" cy="202.6" r="1.5"/><circle cx="331.4" cy="203.9" r="1.5"/><circle cx="331.8" cy="207.7" r="1.5"/><circle cx="332.1" cy="205.3" r="1.5"/><circle cx="332.7" cy="202.9" r="1.5"/><circle cx="333.1" cy="203.0" r="1.5"/><circle cx="333.4" cy="200.2" r="1.5"/><circle cx="333.7" cy="205.4" r="1.5"/><circle cx="334.2" cy="204.3" r="1.5"/><circle cx="334.4" cy="205.1" r="1.5"/><circle cx="335.0" cy="202.1" r="1.5"/><circle cx="335.2" cy="206.1" r="1.5"/><circle cx="335.6" cy="200.2" r="1.5"/></g><line x1="332.2" y1="199.7" x2="332.2" y2="209.7" stroke="#2a2a2a" stroke-width="1.2"/><line x1="66.4" y1="168.4" x2="353.4" y2="168.4" stroke="#b0b0b0" stroke-width="1.1"/><path d="M66.4,168.4 V218.6 H353.4 V168.4" fill="none" stroke="#a0a0a0" stroke-width="1.2"/><line x1="64.0" y1="181.5" x2="66.0" y2="181.5" stroke="#333" stroke-width="0.9"/><line x1="64.0" y1="204.7" x2="66.0" y2="204.7" stroke="#333" stroke-width="0.9"/><text x="62.6" y="184.9" font-size="9.55" text-anchor="end" fill="#4d4d4d" color="#4d4d4d" >WT</text><text x="62.6" y="208.1" font-size="9.55" text-anchor="end" fill="#4d4d4d" color="#4d4d4d" >Mutated</text><text x="141.0" y="229.0" font-size="9.55" text-anchor="middle" fill="#4d4d4d" color="#4d4d4d" >0.2</text><text x="221.9" y="229.0" font-size="9.55" text-anchor="middle" fill="#4d4d4d" color="#4d4d4d" >0.4</text><text x="302.8" y="229.0" font-size="9.55" text-anchor="middle" fill="#4d4d4d" color="#4d4d4d" >0.6</text><text x="209.9" y="240.1" font-size="10.35" text-anchor="middle" fill="#000" color="#000" >log(proteobacteria relative abundance + 1)</text><text transform="translate(24.3,192.9) rotate(-90)" font-size="10.4" text-anchor="middle" font-style="italic" fill="#000">NPM1</text><text x="-0.9" y="168.4" font-size="12.50" text-anchor="start" fill="#000" color="#000" font-weight="bold">c</text><text x="80.9" y="196.9" font-size="11.60" text-anchor="start" fill="#000" color="#000" >P = 0.00030</text><text x="390.8" y="10.0" font-size="12.50" text-anchor="start" fill="#000" color="#000" font-weight="bold">d</text><text x="517.0" y="10.5" font-size="14.60" text-anchor="middle" fill="#000" color="#000" >Classifying MPN patients</text><text x="517.2" y="27.6" font-size="14.6" text-anchor="middle">by <tspan font-style="italic">JAK2</tspan> mutation status</text><rect x="411.3" y="34.4" width="222.0" height="198.9" fill="none" stroke="#8c8c8c" stroke-width="1"/><line x1="419.4" y1="233.3" x2="419.4" y2="236.9" stroke="#777" stroke-width="0.9"/><line x1="407.3" y1="225.7" x2="411.3" y2="225.7" stroke="#777" stroke-width="0.9"/><text x="419.5" y="246.6" font-size="9.70" text-anchor="middle" fill="#111" color="#111" >0.0</text><text transform="translate(401.9,225.7) rotate(-90)" font-size="9.7" text-anchor="middle" fill="#111" color="#111">0.0</text><line x1="460.5" y1="233.3" x2="460.5" y2="236.9" stroke="#777" stroke-width="0.9"/><line x1="407.3" y1="189.0" x2="411.3" y2="189.0" stroke="#777" stroke-width="0.9"/><text x="460.6" y="246.6" font-size="9.70" text-anchor="middle" fill="#111" color="#111" >0.2</text><text transform="translate(401.9,189.0) rotate(-90)" font-size="9.7" text-anchor="middle" fill="#111" color="#111">0.2</text><line x1="501.6" y1="233.3" x2="501.6" y2="236.9" stroke="#777" stroke-width="0.9"/><line x1="407.3" y1="152.3" x2="411.3" y2="152.3" stroke="#777" stroke-width="0.9"/><text x="501.7" y="246.6" font-size="9.70" text-anchor="middle" fill="#111" color="#111" >0.4</text><text transform="translate(401.9,152.3) rotate(-90)" font-size="9.7" text-anchor="middle" fill="#111" color="#111">0.4</text><line x1="542.8" y1="233.3" x2="542.8" y2="236.9" stroke="#777" stroke-width="0.9"/><line x1="407.3" y1="115.6" x2="411.3" y2="115.6" stroke="#777" stroke-width="0.9"/><text x="542.9" y="246.6" font-size="9.70" text-anchor="middle" fill="#111" color="#111" >0.6</text><text transform="translate(401.9,115.6) rotate(-90)" font-size="9.7" text-anchor="middle" fill="#111" color="#111">0.6</text><line x1="583.9" y1="233.3" x2="583.9" y2="236.9" stroke="#777" stroke-width="0.9"/><line x1="407.3" y1="78.9" x2="411.3" y2="78.9" stroke="#777" stroke-width="0.9"/><text x="584.0" y="246.6" font-size="9.70" text-anchor="middle" fill="#111" color="#111" >0.8</text><text transform="translate(401.9,78.9) rotate(-90)" font-size="9.7" text-anchor="middle" fill="#111" color="#111">0.8</text><line x1="625.0" y1="233.3" x2="625.0" y2="236.9" stroke="#777" stroke-width="0.9"/><line x1="407.3" y1="42.2" x2="411.3" y2="42.2" stroke="#777" stroke-width="0.9"/><text x="625.1" y="246.6" font-size="9.70" text-anchor="middle" fill="#111" color="#111" >1.0</text><text transform="translate(401.9,42.2) rotate(-90)" font-size="9.7" text-anchor="middle" fill="#111" color="#111">1.0</text><text x="522.1" y="258.1" font-size="12.90" text-anchor="middle" fill="#000" color="#000" >FPR</text><text transform="translate(391.3,134.1) rotate(-90)" font-size="12.7" text-anchor="middle">Sensitivity</text><text x="430.3" y="216.9" font-size="12.80" text-anchor="start" fill="#000" color="#000" >AUROC = 0.63 (95% CI 0.54-0.71)</text><defs><linearGradient id="g1" gradientUnits="userSpaceOnUse" x1="419.40" y1="225.90" x2="419.40" y2="204.70"><stop offset="0" stop-color="#e123ff"/><stop offset="1" stop-color="#2323ff"/></linearGradient><linearGradient id="g2" gradientUnits="userSpaceOnUse" x1="419.40" y1="204.70" x2="423.20" y2="204.70"><stop offset="0" stop-color="#2323ff"/><stop offset="1" stop-color="#2341ff"/></linearGradient><linearGradient id="g3" gradientUnits="userSpaceOnUse" x1="423.20" y1="204.70" x2="423.20" y2="197.40"><stop offset="0" stop-color="#2341ff"/><stop offset="1" stop-color="#237aff"/></linearGradient><linearGradient id="g4" gradientUnits="userSpaceOnUse" x1="423.20" y1="197.40" x2="427.40" y2="197.40"><stop offset="0" stop-color="#237aff"/><stop offset="1" stop-color="#239bff"/></linearGradient><linearGradient id="g5" gradientUnits="userSpaceOnUse" x1="427.40" y1="197.40" x2="427.40" y2="194.00"><stop offset="0" stop-color="#239bff"/><stop offset="1" stop-color="#23b5ff"/></linearGradient><linearGradient id="g6" gradientUnits="userSpaceOnUse" x1="427.40" y1="194.00" x2="435.30" y2="194.00"><stop offset="0" stop-color="#23b5ff"/><stop offset="1" stop-color="#23e3ff"/></linearGradient><linearGradient id="g7" gradientUnits="userSpaceOnUse" x1="435.30" y1="194.00" x2="435.30" y2="190.60"><stop offset="0" stop-color="#23e3ff"/><stop offset="1" stop-color="#23f7ff"/></linearGradient><linearGradient id="g8" gradientUnits="userSpaceOnUse" x1="435.30" y1="190.60" x2="439.50" y2="187.20"><stop offset="0" stop-color="#23f7ff"/><stop offset="1" stop-color="#23fff8"/></linearGradient><linearGradient id="g9" gradientUnits="userSpaceOnUse" x1="439.50" y1="187.20" x2="439.50" y2="183.70"><stop offset="0" stop-color="#23fff8"/><stop offset="1" stop-color="#23ffef"/></linearGradient><linearGradient id="g10" gradientUnits="userSpaceOnUse" x1="439.50" y1="183.70" x2="443.60" y2="183.70"><stop offset="0" stop-color="#23ffef"/><stop offset="1" stop-color="#23ffe4"/></linearGradient><linearGradient id="g11" gradientUnits="userSpaceOnUse" x1="443.60" y1="183.70" x2="443.60" y2="176.60"><stop offset="0" stop-color="#23ffe4"/><stop offset="1" stop-color="#23ffd2"/></linearGradient><linearGradient id="g12" gradientUnits="userSpaceOnUse" x1="443.60" y1="176.60" x2="447.40" y2="176.60"><stop offset="0" stop-color="#23ffd2"/><stop offset="1" stop-color="#23ffc8"/></linearGradient><linearGradient id="g13" gradientUnits="userSpaceOnUse" x1="447.40" y1="176.60" x2="447.40" y2="169.40"><stop offset="0" stop-color="#23ffc8"/><stop offset="1" stop-color="#23ffb5"/></linearGradient><linearGradient id="g14" gradientUnits="userSpaceOnUse" x1="447.40" y1="169.40" x2="460.00" y2="169.40"><stop offset="0" stop-color="#23ffb5"/><stop offset="1" stop-color="#23ffa0"/></linearGradient><linearGradient id="g15" gradientUnits="userSpaceOnUse" x1="460.00" y1="169.40" x2="463.90" y2="165.50"><stop offset="0" stop-color="#23ffa0"/><stop offset="1" stop-color="#23ff96"/></linearGradient><linearGradient id="g16" gradientUnits="userSpaceOnUse" x1="463.90" y1="165.50" x2="467.70" y2="165.50"><stop offset="0" stop-color="#23ff96"/><stop offset="1" stop-color="#23ff90"/></linearGradient><linearGradient id="g17" gradientUnits="userSpaceOnUse" x1="467.70" y1="165.50" x2="467.70" y2="144.60"><stop offset="0" stop-color="#23ff90"/><stop offset="1" stop-color="#23ff6c"/></linearGradient><linearGradient id="g18" gradientUnits="userSpaceOnUse" x1="467.70" y1="144.60" x2="471.50" y2="144.60"><stop offset="0" stop-color="#23ff6c"/><stop offset="1" stop-color="#23ff68"/></linearGradient><linearGradient id="g19" gradientUnits="userSpaceOnUse" x1="471.50" y1="144.60" x2="471.50" y2="141.00"><stop offset="0" stop-color="#23ff68"/><stop offset="1" stop-color="#23ff63"/></linearGradient><linearGradient id="g20" gradientUnits="userSpaceOnUse" x1="471.50" y1="141.00" x2="479.70" y2="141.00"><stop offset="0" stop-color="#23ff63"/><stop offset="1" stop-color="#23ff59"/></linearGradient><linearGradient id="g21" gradientUnits="userSpaceOnUse" x1="479.70" y1="141.00" x2="479.70" y2="133.80"><stop offset="0" stop-color="#23ff59"/><stop offset="1" stop-color="#23ff50"/></linearGradient><linearGradient id="g22" gradientUnits="userSpaceOnUse" x1="479.70" y1="133.80" x2="483.60" y2="123.10"><stop offset="0" stop-color="#23ff50"/><stop offset="1" stop-color="#23ff42"/></linearGradient><linearGradient id="g23" gradientUnits="userSpaceOnUse" x1="483.60" y1="123.10" x2="487.80" y2="123.10"><stop offset="0" stop-color="#23ff42"/><stop offset="1" stop-color="#23ff3d"/></linearGradient><linearGradient id="g24" gradientUnits="userSpaceOnUse" x1="487.80" y1="123.10" x2="487.80" y2="102.20"><stop offset="0" stop-color="#23ff3d"/><stop offset="1" stop-color="#23ff23"/></linearGradient><linearGradient id="g25" gradientUnits="userSpaceOnUse" x1="487.80" y1="102.20" x2="491.50" y2="98.80"><stop offset="0" stop-color="#23ff23"/><stop offset="1" stop-color="#2dff23"/></linearGradient><linearGradient id="g26" gradientUnits="userSpaceOnUse" x1="491.50" y1="98.80" x2="491.50" y2="95.10"><stop offset="0" stop-color="#2dff23"/><stop offset="1" stop-color="#33ff23"/></linearGradient><linearGradient id="g27" gradientUnits="userSpaceOnUse" x1="491.50" y1="95.10" x2="496.20" y2="95.10"><stop offset="0" stop-color="#33ff23"/><stop offset="1" stop-color="#3cff23"/></linearGradient><linearGradient id="g28" gradientUnits="userSpaceOnUse" x1="496.20" y1="95.10" x2="496.20" y2="91.60"><stop offset="0" stop-color="#3cff23"/><stop offset="1" stop-color="#43ff23"/></linearGradient><linearGradient id="g29" gradientUnits="userSpaceOnUse" x1="496.20" y1="91.60" x2="500.00" y2="91.60"><stop offset="0" stop-color="#43ff23"/><stop offset="1" stop-color="#4aff23"/></linearGradient><linearGradient id="g30" gradientUnits="userSpaceOnUse" x1="500.00" y1="91.60" x2="500.00" y2="84.60"><stop offset="0" stop-color="#4aff23"/><stop offset="1" stop-color="#57ff23"/></linearGradient><linearGradient id="g31" gradientUnits="userSpaceOnUse" x1="500.00" y1="84.60" x2="508.00" y2="84.60"><stop offset="0" stop-color="#57ff23"/><stop offset="1" stop-color="#66ff23"/></linearGradient><linearGradient id="g32" gradientUnits="userSpaceOnUse" x1="508.00" y1="84.60" x2="508.00" y2="81.00"><stop offset="0" stop-color="#66ff23"/><stop offset="1" stop-color="#6cff23"/></linearGradient><linearGradient id="g33" gradientUnits="userSpaceOnUse" x1="508.00" y1="81.00" x2="523.80" y2="81.00"><stop offset="0" stop-color="#6cff23"/><stop offset="1" stop-color="#84ff23"/></linearGradient><linearGradient id="g34" gradientUnits="userSpaceOnUse" x1="523.80" y1="81.00" x2="528.30" y2="77.40"><stop offset="0" stop-color="#84ff23"/><stop offset="1" stop-color="#8dff23"/></linearGradient><linearGradient id="g35" gradientUnits="userSpaceOnUse" x1="528.30" y1="77.40" x2="532.00" y2="77.40"><stop offset="0" stop-color="#8dff23"/><stop offset="1" stop-color="#92ff23"/></linearGradient><linearGradient id="g36" gradientUnits="userSpaceOnUse" x1="532.00" y1="77.40" x2="540.10" y2="74.00"><stop offset="0" stop-color="#92ff23"/><stop offset="1" stop-color="#9fff23"/></linearGradient><linearGradient id="g37" gradientUnits="userSpaceOnUse" x1="540.10" y1="74.00" x2="548.30" y2="74.00"><stop offset="0" stop-color="#9fff23"/><stop offset="1" stop-color="#acff23"/></linearGradient><linearGradient id="g38" gradientUnits="userSpaceOnUse" x1="548.30" y1="74.00" x2="548.30" y2="70.30"><stop offset="0" stop-color="#acff23"/><stop offset="1" stop-color="#b1ff23"/></linearGradient><linearGradient id="g39" gradientUnits="userSpaceOnUse" x1="548.30" y1="70.30" x2="552.40" y2="70.30"><stop offset="0" stop-color="#b1ff23"/><stop offset="1" stop-color="#b7ff23"/></linearGradient><linearGradient id="g40" gradientUnits="userSpaceOnUse" x1="552.40" y1="70.30" x2="552.40" y2="66.70"><stop offset="0" stop-color="#b7ff23"/><stop offset="1" stop-color="#bdff23"/></linearGradient><linearGradient id="g41" gradientUnits="userSpaceOnUse" x1="552.40" y1="66.70" x2="576.70" y2="66.70"><stop offset="0" stop-color="#bdff23"/><stop offset="1" stop-color="#daff23"/></linearGradient><linearGradient id="g42" gradientUnits="userSpaceOnUse" x1="576.70" y1="66.70" x2="576.70" y2="63.30"><stop offset="0" stop-color="#daff23"/><stop offset="1" stop-color="#deff23"/></linearGradient><linearGradient id="g43" gradientUnits="userSpaceOnUse" x1="576.70" y1="63.30" x2="584.60" y2="63.30"><stop offset="0" stop-color="#deff23"/><stop offset="1" stop-color="#e7ff23"/></linearGradient><linearGradient id="g44" gradientUnits="userSpaceOnUse" x1="584.60" y1="63.30" x2="584.60" y2="56.10"><stop offset="0" stop-color="#e7ff23"/><stop offset="1" stop-color="#f0ff23"/></linearGradient><linearGradient id="g45" gradientUnits="userSpaceOnUse" x1="584.60" y1="56.10" x2="604.90" y2="56.10"><stop offset="0" stop-color="#f0ff23"/><stop offset="1" stop-color="#ffff23"/></linearGradient><linearGradient id="g46" gradientUnits="userSpaceOnUse" x1="604.90" y1="56.10" x2="608.80" y2="52.40"><stop offset="0" stop-color="#ffff23"/><stop offset="1" stop-color="#ffe923"/></linearGradient><linearGradient id="g47" gradientUnits="userSpaceOnUse" x1="608.80" y1="52.40" x2="616.70" y2="52.40"><stop offset="0" stop-color="#ffe923"/><stop offset="1" stop-color="#ffc423"/></linearGradient><linearGradient id="g48" gradientUnits="userSpaceOnUse" x1="616.70" y1="52.40" x2="616.70" y2="45.60"><stop offset="0" stop-color="#ffc423"/><stop offset="1" stop-color="#ff9823"/></linearGradient><linearGradient id="g49" gradientUnits="userSpaceOnUse" x1="616.70" y1="45.60" x2="625.30" y2="45.60"><stop offset="0" stop-color="#ff9823"/><stop offset="1" stop-color="#ff5e23"/></linearGradient><linearGradient id="g50" gradientUnits="userSpaceOnUse" x1="625.30" y1="45.60" x2="625.30" y2="41.80"><stop offset="0" stop-color="#ff5e23"/><stop offset="1" stop-color="#ff2b23"/></linearGradient></defs><g stroke-width="1.6" stroke-linecap="square"><line x1="419.40" y1="225.90" x2="419.40" y2="204.70" stroke="url(#g1)"/><line x1="419.40" y1="204.70" x2="423.20" y2="204.70" stroke="url(#g2)"/><line x1="423.20" y1="204.70" x2="423.20" y2="197.40" stroke="url(#g3)"/><line x1="423.20" y1="197.40" x2="427.40" y2="197.40" stroke="url(#g4)"/><line x1="427.40" y1="197.40" x2="427.40" y2="194.00" stroke="url(#g5)"/><line x1="427.40" y1="194.00" x2="435.30" y2="194.00" stroke="url(#g6)"/><line x1="435.30" y1="194.00" x2="435.30" y2="190.60" stroke="url(#g7)"/><line x1="435.30" y1="190.60" x2="439.50" y2="187.20" stroke="url(#g8)"/><line x1="439.50" y1="187.20" x2="439.50" y2="183.70" stroke="url(#g9)"/><line x1="439.50" y1="183.70" x2="443.60" y2="183.70" stroke="url(#g10)"/><line x1="443.60" y1="183.70" x2="443.60" y2="176.60" stroke="url(#g11)"/><line x1="443.60" y1="176.60" x2="447.40" y2="176.60" stroke="url(#g12)"/><line x1="447.40" y1="176.60" x2="447.40" y2="169.40" stroke="url(#g13)"/><line x1="447.40" y1="169.40" x2="460.00" y2="169.40" stroke="url(#g14)"/><line x1="460.00" y1="169.40" x2="463.90" y2="165.50" stroke="url(#g15)"/><line x1="463.90" y1="165.50" x2="467.70" y2="165.50" stroke="url(#g16)"/><line x1="467.70" y1="165.50" x2="467.70" y2="144.60" stroke="url(#g17)"/><line x1="467.70" y1="144.60" x2="471.50" y2="144.60" stroke="url(#g18)"/><line x1="471.50" y1="144.60" x2="471.50" y2="141.00" stroke="url(#g19)"/><line x1="471.50" y1="141.00" x2="479.70" y2="141.00" stroke="url(#g20)"/><line x1="479.70" y1="141.00" x2="479.70" y2="133.80" stroke="url(#g21)"/><line x1="479.70" y1="133.80" x2="483.60" y2="123.10" stroke="url(#g22)"/><line x1="483.60" y1="123.10" x2="487.80" y2="123.10" stroke="url(#g23)"/><line x1="487.80" y1="123.10" x2="487.80" y2="102.20" stroke="url(#g24)"/><line x1="487.80" y1="102.20" x2="491.50" y2="98.80" stroke="url(#g25)"/><line x1="491.50" y1="98.80" x2="491.50" y2="95.10" stroke="url(#g26)"/><line x1="491.50" y1="95.10" x2="496.20" y2="95.10" stroke="url(#g27)"/><line x1="496.20" y1="95.10" x2="496.20" y2="91.60" stroke="url(#g28)"/><line x1="496.20" y1="91.60" x2="500.00" y2="91.60" stroke="url(#g29)"/><line x1="500.00" y1="91.60" x2="500.00" y2="84.60" stroke="url(#g30)"/><line x1="500.00" y1="84.60" x2="508.00" y2="84.60" stroke="url(#g31)"/><line x1="508.00" y1="84.60" x2="508.00" y2="81.00" stroke="url(#g32)"/><line x1="508.00" y1="81.00" x2="523.80" y2="81.00" stroke="url(#g33)"/><line x1="523.80" y1="81.00" x2="528.30" y2="77.40" stroke="url(#g34)"/><line x1="528.30" y1="77.40" x2="532.00" y2="77.40" stroke="url(#g35)"/><line x1="532.00" y1="77.40" x2="540.10" y2="74.00" stroke="url(#g36)"/><line x1="540.10" y1="74.00" x2="548.30" y2="74.00" stroke="url(#g37)"/><line x1="548.30" y1="74.00" x2="548.30" y2="70.30" stroke="url(#g38)"/><line x1="548.30" y1="70.30" x2="552.40" y2="70.30" stroke="url(#g39)"/><line x1="552.40" y1="70.30" x2="552.40" y2="66.70" stroke="url(#g40)"/><line x1="552.40" y1="66.70" x2="576.70" y2="66.70" stroke="url(#g41)"/><line x1="576.70" y1="66.70" x2="576.70" y2="63.30" stroke="url(#g42)"/><line x1="576.70" y1="63.30" x2="584.60" y2="63.30" stroke="url(#g43)"/><line x1="584.60" y1="63.30" x2="584.60" y2="56.10" stroke="url(#g44)"/><line x1="584.60" y1="56.10" x2="604.90" y2="56.10" stroke="url(#g45)"/><line x1="604.90" y1="56.10" x2="608.80" y2="52.40" stroke="url(#g46)"/><line x1="608.80" y1="52.40" x2="616.70" y2="52.40" stroke="url(#g47)"/><line x1="616.70" y1="52.40" x2="616.70" y2="45.60" stroke="url(#g48)"/><line x1="616.70" y1="45.60" x2="625.30" y2="45.60" stroke="url(#g49)"/><line x1="625.30" y1="45.60" x2="625.30" y2="41.80" stroke="url(#g50)"/></g><defs><linearGradient id="cb" x1="0" y1="1" x2="0" y2="0"><stop offset="0.00" stop-color="#ff0000"/><stop offset="0.10" stop-color="#ff7c00"/><stop offset="0.20" stop-color="#fff800"/><stop offset="0.30" stop-color="#89ff00"/><stop offset="0.40" stop-color="#0dff00"/><stop offset="0.50" stop-color="#00ff6e"/><stop offset="0.60" stop-color="#00ffea"/><stop offset="0.70" stop-color="#0097ff"/><stop offset="0.80" stop-color="#001bff"/><stop offset="0.90" stop-color="#6000ff"/><stop offset="1.00" stop-color="#dd00ff"/></linearGradient></defs><rect x="657.9" y="34.5" width="13.1" height="198.4" fill="url(#cb)"/><line x1="671.0" y1="34.5" x2="671.0" y2="232.9" stroke="#999" stroke-width="0.8"/><line x1="671.0" y1="222.7" x2="674.8" y2="222.7" stroke="#555" stroke-width="0.8"/><text transform="translate(685.0,222.7) rotate(-90)" font-size="6.8" text-anchor="middle" fill="#222" color="#222">0.2</text><line x1="671.0" y1="193.2" x2="674.8" y2="193.2" stroke="#555" stroke-width="0.8"/><text transform="translate(685.0,193.2) rotate(-90)" font-size="6.8" text-anchor="middle" fill="#222" color="#222">0.3</text><line x1="671.0" y1="163.6" x2="674.8" y2="163.6" stroke="#555" stroke-width="0.8"/><text transform="translate(685.0,163.6) rotate(-90)" font-size="6.8" text-anchor="middle" fill="#222" color="#222">0.4</text><line x1="671.0" y1="134.1" x2="674.8" y2="134.1" stroke="#555" stroke-width="0.8"/><text transform="translate(685.0,134.1) rotate(-90)" font-size="6.8" text-anchor="middle" fill="#222" color="#222">0.5</text><line x1="671.0" y1="104.6" x2="674.8" y2="104.6" stroke="#555" stroke-width="0.8"/><text transform="translate(685.0,104.6) rotate(-90)" font-size="6.8" text-anchor="middle" fill="#222" color="#222">0.6</text><line x1="671.0" y1="75.1" x2="674.8" y2="75.1" stroke="#555" stroke-width="0.8"/><text transform="translate(685.0,75.1) rotate(-90)" font-size="6.8" text-anchor="middle" fill="#222" color="#222">0.7</text><line x1="671.0" y1="45.5" x2="674.8" y2="45.5" stroke="#555" stroke-width="0.8"/><text transform="translate(685.0,45.5) rotate(-90)" font-size="6.8" text-anchor="middle" fill="#222" color="#222">0.8</text></svg></body></html>
